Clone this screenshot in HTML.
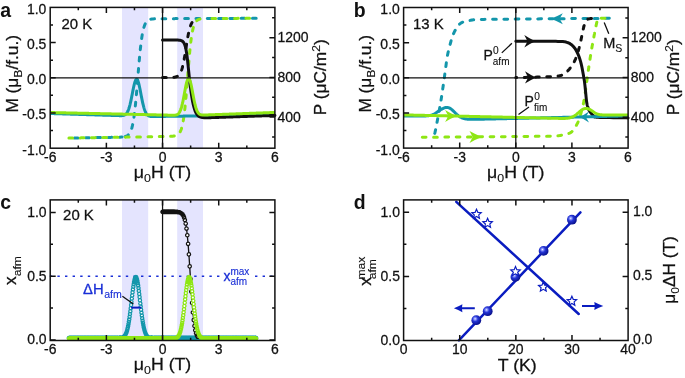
<!DOCTYPE html>
<html><head><meta charset="utf-8"><style>
html,body{margin:0;padding:0;background:#fff;overflow:hidden;}
svg{display:block;font-family:"Liberation Sans", sans-serif;transform:translateZ(0);}
</style></head><body>
<svg width="685" height="378" viewBox="0 0 685 378">

<rect x="122" y="7.4" width="26.2" height="140.8" fill="#e4e4fe"/>
<rect x="177.2" y="7.4" width="25.8" height="140.8" fill="#e4e4fe"/>
<path d="M256.18,18.3 L255.94,18.3 L255.71,18.3 L255.47,18.3 L255.24,18.3 L255,18.3 L254.77,18.31 L254.54,18.31 L254.3,18.31 L254.07,18.31 L253.83,18.31 L253.6,18.31 L253.37,18.31 L253.13,18.31 L252.9,18.31 L252.66,18.31 L252.48,18.31 M244.88,18.35 L244.71,18.35 L244.47,18.35 L244.24,18.35 L244,18.35 L243.77,18.35 L243.54,18.35 L243.3,18.35 L243.07,18.35 L242.83,18.35 L242.6,18.35 L242.37,18.36 L242.13,18.36 L241.9,18.36 L241.66,18.36 L241.43,18.36 L241.2,18.36 L241.18,18.36 M233.58,18.39 L233.47,18.39 L233.24,18.39 L233,18.39 L232.77,18.39 L232.53,18.39 L232.3,18.4 L232.07,18.4 L231.83,18.4 L231.6,18.4 L231.36,18.4 L231.13,18.4 L230.9,18.4 L230.66,18.4 L230.43,18.4 L230.19,18.4 L229.96,18.4 L229.88,18.41 M222.28,18.44 L222.24,18.44 L222,18.44 L221.77,18.44 L221.53,18.44 L221.3,18.44 L221.07,18.44 L220.83,18.44 L220.6,18.44 L220.36,18.44 L220.13,18.44 L219.9,18.45 L219.66,18.45 L219.43,18.45 L219.19,18.45 L218.96,18.45 L218.73,18.45 L218.58,18.45 M210.98,18.48 L210.77,18.48 L210.53,18.48 L210.3,18.48 L210.06,18.48 L209.83,18.49 L209.6,18.49 L209.36,18.49 L209.13,18.49 L208.89,18.49 L208.66,18.49 L208.43,18.49 L208.19,18.49 L207.96,18.49 L207.72,18.49 L207.49,18.49 L207.28,18.5 M199.68,18.53 L199.53,18.53 L199.3,18.53 L199.06,18.53 L198.83,18.53 L198.6,18.53 L198.36,18.53 L198.13,18.53 L197.89,18.53 L197.66,18.53 L197.43,18.54 L197.19,18.54 L196.96,18.54 L196.72,18.54 L196.49,18.54 L196.25,18.54 L196.02,18.54 L195.98,18.54 M188.38,18.57 L188.3,18.57 L188.06,18.57 L187.83,18.57 L187.59,18.57 L187.36,18.58 L187.13,18.58 L186.89,18.58 L186.66,18.58 L186.42,18.58 L186.19,18.58 L185.96,18.58 L185.72,18.58 L185.49,18.58 L185.25,18.58 L185.02,18.58 L184.79,18.59 L184.68,18.59 M177.08,18.62 L177.06,18.62 L176.83,18.62 L176.59,18.62 L176.36,18.62 L176.13,18.62 L175.89,18.62 L175.66,18.62 L175.42,18.62 L175.19,18.62 L174.96,18.63 L174.72,18.63 L174.49,18.63 L174.25,18.63 L174.02,18.63 L173.79,18.63 L173.55,18.63 L173.38,18.63 M165.78,18.66 L165.59,18.66 L165.36,18.66 L165.12,18.67 L164.89,18.67 L164.66,18.67 L164.42,18.67 L164.19,18.67 L163.95,18.67 L163.72,18.67 L163.49,18.67 L163.25,18.67 L163.02,18.68 L162.78,18.68 L162.55,18.68 L162.32,18.68 L162.08,18.68 L162.08,18.68 M154.48,18.82 L154.36,18.83 L154.12,18.84 L153.89,18.85 L153.66,18.87 L153.42,18.89 L153.19,18.91 L152.95,18.93 L152.72,18.95 L152.49,18.97 L152.25,19 L152.02,19.03 L151.78,19.06 L151.55,19.1 L151.31,19.14 L151.08,19.18 L150.85,19.23 L150.81,19.24 M145.2,23.91 L145,24.35 L144.76,24.9 L144.53,25.5 L144.29,26.15 L144.06,26.85 L143.9,27.37 M142.24,34.78 L142.19,35.11 L141.95,36.54 L141.72,38.06 L141.66,38.44 M140.7,45.98 L140.55,47.28 L140.31,49.44 L140.29,49.65 M139.55,57.22 L139.38,59.09 L139.22,60.9 M138.57,68.48 L138.44,70 L138.26,72.16 M137.65,79.74 L137.51,81.48 L137.35,83.43 M136.71,91 L136.57,92.69 L136.39,94.69 M135.69,102.25 L135.63,102.88 L135.4,105.2 L135.32,105.93 M134.46,113.48 L134.23,115.22 L133.99,116.9 L133.96,117.15 M132.65,124.64 L132.59,124.91 L132.36,125.93 L132.12,126.88 L131.89,127.75 L131.75,128.22 M128.28,134.89 L128.14,135.01 L127.91,135.21 L127.67,135.38 L127.44,135.54 L127.21,135.69 L126.97,135.83 L126.74,135.95 L126.5,136.06 L126.27,136.16 L126.04,136.25 L125.8,136.34 L125.57,136.41 L125.33,136.48 L125.1,136.55 L125.03,136.57 M74.32,137.98 L74.54,137.98 L74.78,137.97 L75.01,137.97 L75.24,137.96 L75.48,137.96 L75.71,137.96 L75.95,137.95 L76.18,137.95 L76.42,137.94 L76.65,137.94 L76.88,137.94 L77.12,137.93 L77.35,137.93 L77.59,137.93 L77.82,137.92 L78.02,137.92 M85.62,137.79 L85.78,137.79 L86.01,137.79 L86.25,137.78 L86.48,137.78 L86.71,137.77 L86.95,137.77 L87.18,137.77 L87.42,137.76 L87.65,137.76 L87.88,137.76 L88.12,137.75 L88.35,137.75 L88.59,137.74 L88.82,137.74 L89.05,137.74 L89.29,137.73 L89.32,137.73 M96.92,137.61 L97.01,137.6 L97.25,137.6 L97.48,137.6 L97.71,137.59 L97.95,137.59 L98.18,137.59 L98.42,137.58 L98.65,137.58 L98.89,137.57 L99.12,137.57 L99.35,137.57 L99.59,137.56 L99.82,137.56 L100.06,137.55 L100.29,137.55 L100.52,137.55 L100.62,137.55 M108.22,137.42 L108.25,137.42 L108.48,137.41 L108.72,137.41 L108.95,137.41 L109.18,137.4 L109.42,137.4 L109.65,137.4 L109.89,137.39 L110.12,137.39 L110.35,137.38 L110.59,137.38 L110.82,137.38 L111.06,137.37 L111.29,137.37 L111.52,137.36 L111.76,137.36 L111.92,137.36 M119.52,137.18 L119.72,137.17 L119.95,137.16 L120.18,137.15 L120.42,137.13 L120.65,137.12 L120.89,137.11 L121.12,137.09 L121.36,137.08 L121.59,137.06 L121.82,137.04" stroke="#1396ab" stroke-width="3.0" stroke-linecap="round" fill="none"/>
<path d="M68.93,138.07 L69.16,138.06 L69.39,138.06 L69.63,138.06 L69.86,138.05 L70.1,138.05 L70.33,138.05 L70.56,138.04 L70.8,138.04 L71.03,138.03 L71.27,138.03 L71.5,138.03 L71.73,138.02 L71.97,138.02 L72.2,138.01 L72.44,138.01 L72.62,138.01 M80.22,137.88 L80.39,137.88 L80.63,137.88 L80.86,137.87 L81.1,137.87 L81.33,137.86 L81.56,137.86 L81.8,137.86 L82.03,137.85 L82.27,137.85 L82.5,137.84 L82.73,137.84 L82.97,137.84 L83.2,137.83 L83.44,137.83 L83.67,137.82 L83.91,137.82 L83.92,137.82 M91.52,137.7 L91.63,137.69 L91.86,137.69 L92.1,137.69 L92.33,137.68 L92.57,137.68 L92.8,137.67 L93.03,137.67 L93.27,137.67 L93.5,137.66 L93.74,137.66 L93.97,137.66 L94.2,137.65 L94.44,137.65 L94.67,137.64 L94.91,137.64 L95.14,137.64 L95.22,137.63 M102.82,137.51 L102.86,137.51 L103.1,137.5 L103.33,137.5 L103.57,137.5 L103.8,137.49 L104.03,137.49 L104.27,137.49 L104.5,137.48 L104.74,137.48 L104.97,137.47 L105.2,137.47 L105.44,137.47 L105.67,137.46 L105.91,137.46 L106.14,137.45 L106.38,137.45 L106.52,137.45 M114.12,137.32 L114.33,137.32 L114.57,137.32 L114.8,137.31 L115.04,137.31 L115.27,137.3 L115.5,137.3 L115.74,137.3 L115.97,137.29 L116.21,137.29 L116.44,137.28 L116.67,137.28 L116.91,137.28 L117.14,137.27 L117.38,137.27 L117.61,137.26 L117.82,137.26 M125.42,137.14 L125.57,137.13 L125.8,137.13 L126.04,137.13 L126.27,137.12 L126.5,137.12 L126.74,137.11 L126.97,137.11 L127.21,137.11 L127.44,137.1 L127.67,137.1 L127.91,137.1 L128.14,137.09 L128.38,137.09 L128.61,137.08 L128.85,137.08 L129.08,137.08 L129.12,137.08 M136.72,136.95 L136.8,136.95 L137.04,136.94 L137.27,136.94 L137.51,136.94 L137.74,136.93 L137.97,136.93 L138.21,136.93 L138.44,136.92 L138.68,136.92 L138.91,136.91 L139.14,136.91 L139.38,136.91 L139.61,136.9 L139.85,136.9 L140.08,136.89 L140.31,136.89 L140.42,136.89 M148.01,136.76 L148.04,136.76 L148.27,136.76 L148.51,136.76 L148.74,136.75 L148.97,136.75 L149.21,136.74 L149.44,136.74 L149.68,136.74 L149.91,136.73 L150.14,136.73 L150.38,136.72 L150.61,136.72 L150.85,136.72 L151.08,136.71 L151.31,136.71 L151.55,136.7 L151.71,136.7 M159.31,136.58 L159.51,136.57 L159.74,136.57 L159.98,136.57 L160.21,136.56 L160.44,136.56 L160.68,136.55 L160.91,136.55 L161.15,136.55 L161.38,136.54 L161.61,136.54 L161.85,136.53 L162.08,136.53 L162.32,136.53 L162.55,136.52 L162.78,136.52 L163.01,136.51 M170.61,136.32 L170.74,136.31 L170.98,136.3 L171.21,136.29 L171.44,136.27 L171.68,136.26 L171.91,136.24 L172.15,136.22 L172.38,136.2 L172.61,136.18 L172.85,136.16 L173.08,136.14 L173.32,136.11 L173.55,136.08 L173.79,136.05 L174.02,136.01 L174.25,135.98 L174.29,135.97 M180.19,131.71 L180.34,131.43 L180.57,130.93 L180.81,130.39 L181.04,129.8 L181.28,129.15 L181.51,128.44 L181.56,128.28 M183.23,120.87 L183.38,119.98 L183.62,118.5 L183.81,117.22 M184.76,109.68 L184.79,109.43 L185.02,107.27 L185.15,106 M185.87,98.43 L185.96,97.51 L186.19,94.83 L186.2,94.75 M186.82,87.17 L186.89,86.32 L187.12,83.48 M187.71,75.91 L187.83,74.42 L188,72.22 M188.61,64.64 L188.77,62.76 L188.92,60.95 M189.59,53.38 L189.7,52.2 L189.94,49.81 L189.95,49.7 M190.78,42.15 L190.87,41.39 L191.11,39.57 L191.26,38.48 M192.51,30.98 L192.51,30.98 L192.74,29.89 L192.98,28.89 L193.21,27.97 L193.37,27.39 M196.76,20.69 L196.96,20.51 L197.19,20.32 L197.43,20.15 L197.66,20 L197.89,19.85 L198.13,19.73 L198.36,19.61 L198.6,19.51 L198.83,19.41 L199.06,19.33 L199.3,19.25 L199.53,19.18 L199.77,19.11 L200,19.06 L200.03,19.05 M249.58,18.33 L249.39,18.33 L249.15,18.33 L248.92,18.33 L248.69,18.33 L248.45,18.33 L248.22,18.33 L247.98,18.33 L247.75,18.33 L247.51,18.33 L247.28,18.34 L247.05,18.34 L246.81,18.34 L246.58,18.34 L246.34,18.34 L246.11,18.34 L245.88,18.34 L245.88,18.34 M238.28,18.37 L238.15,18.37 L237.92,18.37 L237.68,18.37 L237.45,18.38 L237.22,18.38 L236.98,18.38 L236.75,18.38 L236.51,18.38 L236.28,18.38 L236.05,18.38 L235.81,18.38 L235.58,18.38 L235.34,18.38 L235.11,18.38 L234.88,18.39 L234.64,18.39 L234.58,18.39 M226.98,18.42 L226.92,18.42 L226.68,18.42 L226.45,18.42 L226.22,18.42 L225.98,18.42 L225.75,18.42 L225.51,18.42 L225.28,18.42 L225.04,18.42 L224.81,18.43 L224.58,18.43 L224.34,18.43 L224.11,18.43 L223.87,18.43 L223.64,18.43 L223.41,18.43 L223.28,18.43 M215.68,18.46 L215.45,18.46 L215.21,18.46 L214.98,18.47 L214.75,18.47 L214.51,18.47 L214.28,18.47 L214.04,18.47 L213.81,18.47 L213.58,18.47 L213.34,18.47 L213.11,18.47 L212.87,18.48 L212.64,18.48 L212.41,18.48 L212.17,18.48 L211.98,18.48" stroke="#8ee614" stroke-width="3.0" stroke-linecap="round" fill="none"/>
<path d="M162.55,77.6 L162.71,77.6 L162.88,77.6 L163.04,77.6 L163.21,77.6 L163.37,77.6 L163.53,77.6 L163.7,77.6 L163.86,77.6 L164.02,77.6 L164.19,77.6 L164.35,77.6 L164.52,77.59 L164.68,77.59 L164.84,77.59 L165.01,77.59 L165.17,77.59 L165.34,77.59 L165.5,77.59 L165.66,77.59 L165.83,77.59 L165.99,77.59 L166.15,77.59 L166.25,77.59 M173.84,77.3 L173.86,77.3 L174.02,77.28 L174.18,77.26 L174.35,77.23 L174.51,77.2 L174.67,77.17 L174.84,77.14 L175,77.11 L175.17,77.07 L175.33,77.04 L175.49,76.99 L175.66,76.95 L175.82,76.9 L175.99,76.85 L176.15,76.8 L176.31,76.74 L176.48,76.68 L176.64,76.61 L176.8,76.54 L176.97,76.46 L177.13,76.38 L177.3,76.29 L177.36,76.25 M181.56,70.11 L181.72,69.66 L181.88,69.16 L182.05,68.63 L182.21,68.07 L182.38,67.49 L182.54,66.88 L182.62,66.57 M184.19,59.13 L184.34,58.3 L184.51,57.36 L184.67,56.4 L184.82,55.49 M186.02,47.98 L186.14,47.17 L186.31,46.12 L186.47,45.08 L186.59,44.33 M187.85,36.83 L187.95,36.3 L188.11,35.43 L188.27,34.58 L188.44,33.76 L188.55,33.2 M190.51,25.86 L190.57,25.69 L190.73,25.25 L190.89,24.84 L191.06,24.45 L191.22,24.08 L191.39,23.74 L191.55,23.41 L191.71,23.1 L191.88,22.81 L192.04,22.54 L192.06,22.51" stroke="#111" stroke-width="3.0" stroke-linecap="round" fill="none"/>
<path d="M50.2,113.5 L50.57,113.51 L50.95,113.52 L51.32,113.53 L51.7,113.55 L52.07,113.56 L52.45,113.57 L52.82,113.58 L53.2,113.59 L53.57,113.6 L53.95,113.62 L54.32,113.63 L54.69,113.64 L55.07,113.65 L55.44,113.66 L55.82,113.67 L56.19,113.69 L56.57,113.7 L56.94,113.71 L57.32,113.72 L57.69,113.73 L58.06,113.74 L58.44,113.76 L58.81,113.77 L59.19,113.78 L59.56,113.79 L59.94,113.8 L60.31,113.81 L60.69,113.83 L61.06,113.84 L61.44,113.85 L61.81,113.86 L62.18,113.87 L62.56,113.88 L62.93,113.89 L63.31,113.91 L63.68,113.92 L64.06,113.93 L64.43,113.94 L64.81,113.95 L65.18,113.96 L65.55,113.98 L65.93,113.99 L66.3,114 L66.68,114.01 L67.05,114.02 L67.43,114.03 L67.8,114.05 L68.18,114.06 L68.55,114.07 L68.93,114.08 L69.3,114.09 L69.67,114.1 L70.05,114.12 L70.42,114.13 L70.8,114.14 L71.17,114.15 L71.55,114.16 L71.92,114.17 L72.3,114.18 L72.67,114.2 L73.04,114.21 L73.42,114.22 L73.79,114.23 L74.17,114.24 L74.54,114.25 L74.92,114.27 L75.29,114.28 L75.67,114.29 L76.04,114.3 L76.42,114.31 L76.79,114.32 L77.16,114.34 L77.54,114.35 L77.91,114.36 L78.29,114.37 L78.66,114.38 L79.04,114.39 L79.41,114.41 L79.79,114.42 L80.16,114.43 L80.53,114.44 L80.91,114.45 L81.28,114.46 L81.66,114.48 L82.03,114.49 L82.41,114.5 L82.78,114.51 L83.16,114.52 L83.53,114.53 L83.91,114.54 L84.28,114.56 L84.65,114.57 L85.03,114.58 L85.4,114.59 L85.78,114.6 L86.15,114.61 L86.53,114.63 L86.9,114.64 L87.28,114.65 L87.65,114.66 L88.02,114.67 L88.4,114.68 L88.77,114.7 L89.15,114.71 L89.52,114.72 L89.9,114.73 L90.27,114.74 L90.65,114.75 L91.02,114.77 L91.4,114.78 L91.77,114.79 L92.14,114.8 L92.52,114.81 L92.89,114.82 L93.27,114.84 L93.64,114.85 L94.02,114.86 L94.39,114.87 L94.77,114.88 L95.14,114.89 L95.51,114.9 L95.89,114.92 L96.26,114.93 L96.64,114.94 L97.01,114.95 L97.39,114.96 L97.76,114.97 L98.14,114.99 L98.51,115 L98.89,115.01 L99.26,115.02 L99.63,115.03 L100.01,115.04 L100.38,115.06 L100.76,115.07 L101.13,115.08 L101.51,115.09 L101.88,115.1 L102.26,115.11 L102.63,115.13 L103,115.14 L103.38,115.15 L103.75,115.16 L104.13,115.17 L104.5,115.18 L104.88,115.19 L105.25,115.21 L105.63,115.22 L106,115.23 L106.38,115.24 L106.75,115.25 L107.12,115.26 L107.5,115.28 L107.87,115.29 L108.25,115.3 L108.62,115.31 L109,115.32 L109.37,115.33 L109.75,115.35 L110.12,115.36 L110.49,115.37 L110.87,115.38 L111.24,115.39 L111.62,115.4 L111.99,115.42 L112.37,115.43 L112.74,115.44 L113.12,115.45 L113.49,115.46 L113.87,115.47 L114.24,115.49 L114.61,115.5 L114.99,115.51 L115.36,115.52 L115.74,115.53 L116.11,115.54 L116.49,115.55 L116.86,115.57 L117.24,115.58 L117.61,115.59 L117.98,115.6 L118.36,115.61 L118.73,115.62 L119.11,115.63 L119.48,115.63 L119.86,115.64 L120.23,115.65 L120.61,115.65 L120.98,115.64 L121.36,115.64 L121.73,115.63 L122.1,115.6 L122.48,115.57 L122.85,115.53 L123.23,115.47 L123.6,115.4 L123.98,115.3 L124.35,115.17 L124.73,115 L125.1,114.8 L125.47,114.55 L125.85,114.24 L126.22,113.87 L126.6,113.42 L126.97,112.9 L127.35,112.28 L127.72,111.56 L128.1,110.73 L128.47,109.79 L128.84,108.73 L129.22,107.55 L129.59,106.24 L129.97,104.81 L130.34,103.26 L130.72,101.6 L131.09,99.85 L131.47,98.01 L131.84,96.12 L132.22,94.19 L132.59,92.26 L132.96,90.35 L133.34,88.49 L133.71,86.72 L134.09,85.07 L134.46,83.58 L134.84,82.27 L135.21,81.17 L135.59,80.31 L135.96,79.71 L136.34,79.37 L136.71,79.31 L137.08,79.53 L137.46,80.03 L137.83,80.79 L138.21,81.79 L138.58,83.02 L138.96,84.45 L139.33,86.05 L139.71,87.79 L140.08,89.63 L140.45,91.54 L140.83,93.49 L141.2,95.45 L141.58,97.38 L141.95,99.27 L142.33,101.09 L142.7,102.82 L143.08,104.45 L143.45,105.96 L143.82,107.36 L144.2,108.63 L144.57,109.77 L144.95,110.8 L145.32,111.7 L145.7,112.5 L146.07,113.19 L146.45,113.78 L146.82,114.29 L147.2,114.72 L147.57,115.08 L147.94,115.38 L148.32,115.63 L148.69,115.84 L149.07,116.01 L149.44,116.15 L149.82,116.26 L150.19,116.34 L150.57,116.4 L150.94,116.44 L151.31,116.47 L151.69,116.5 L152.06,116.51 L152.44,116.52 L152.81,116.53 L153.19,116.53 L153.56,116.53 L153.94,116.53 L154.31,116.53 L154.69,116.53 L155.06,116.52 L155.43,116.52 L155.81,116.51 L156.18,116.51 L156.56,116.5 L156.93,116.5 L157.31,116.49 L157.68,116.49 L158.06,116.48 L158.43,116.48 L158.81,116.47 L159.18,116.47 L159.55,116.46 L159.93,116.46 L160.3,116.45 L160.68,116.45 L161.05,116.44 L161.43,116.44 L161.8,116.43 L162.18,116.42 L162.55,116.42 L162.92,116.41 L163.3,116.41 L163.67,116.4 L164.05,116.4 L164.42,116.39 L164.8,116.39 L165.17,116.38 L165.55,116.38 L165.92,116.37 L166.3,116.37 L166.67,116.36 L167.04,116.35 L167.42,116.35 L167.79,116.34 L168.17,116.34 L168.54,116.33 L168.92,116.33 L169.29,116.32 L169.67,116.32 L170.04,116.31 L170.41,116.31 L170.79,116.3 L171.16,116.3 L171.54,116.29 L171.91,116.28 L172.29,116.28 L172.66,116.27 L173.04,116.27 L173.41,116.26 L173.78,116.26 L174.16,116.25 L174.53,116.25 L174.91,116.24 L175.28,116.24 L175.66,116.23 L176.03,116.23 L176.41,116.22 L176.78,116.21 L177.16,116.21 L177.53,116.2 L177.9,116.2 L178.28,116.19 L178.65,116.19 L179.03,116.18 L179.4,116.18 L179.78,116.17 L180.15,116.17 L180.53,116.16 L180.9,116.16 L181.27,116.15 L181.65,116.14 L182.02,116.14 L182.4,116.13 L182.77,116.13 L183.15,116.12 L183.52,116.12 L183.9,116.11 L184.27,116.11 L184.65,116.1 L185.02,116.1 L185.39,116.09 L185.77,116.08 L186.14,116.08 L186.52,116.07 L186.89,116.07 L187.27,116.06 L187.64,116.06 L188.02,116.05 L188.39,116.05 L188.76,116.04 L189.14,116.04 L189.51,116.03 L189.89,116.03 L190.26,116.02 L190.64,116.01 L191.01,116.01 L191.39,116 L191.76,116 L192.14,115.99 L192.51,115.99 L192.88,115.98 L193.26,115.98 L193.63,115.97 L194.01,115.97 L194.38,115.96 L194.76,115.96 L195.13,115.95 L195.51,115.94 L195.88,115.94 L196.25,115.93 L196.63,115.93 L197,115.92 L197.38,115.92 L197.75,115.91 L198.13,115.91 L198.5,115.9 L198.88,115.9 L199.25,115.89 L199.63,115.89 L200,115.88 L200.37,115.87 L200.75,115.87 L201.12,115.86 L201.5,115.86 L201.87,115.85 L202.25,115.85 L202.62,115.84 L203,115.84 L203.37,115.83 L203.75,115.83 L204.12,115.82 L204.49,115.82 L204.87,115.81 L205.24,115.8 L205.62,115.8 L205.99,115.79 L206.37,115.79 L206.74,115.78 L207.12,115.78 L207.49,115.77 L207.86,115.77 L208.24,115.76 L208.61,115.76 L208.99,115.75 L209.36,115.75 L209.74,115.74 L210.11,115.73 L210.49,115.73 L210.86,115.72 L211.24,115.72 L211.61,115.71 L211.98,115.71 L212.36,115.7 L212.73,115.7 L213.11,115.69 L213.48,115.69 L213.86,115.68 L214.23,115.68 L214.61,115.67 L214.98,115.66 L215.35,115.66 L215.73,115.65 L216.1,115.65 L216.48,115.64 L216.85,115.64 L217.23,115.63 L217.6,115.63 L217.98,115.62 L218.35,115.62 L218.73,115.61 L219.1,115.6 L219.47,115.6 L219.85,115.59 L220.22,115.59 L220.6,115.58 L220.97,115.58 L221.35,115.57 L221.72,115.57 L222.1,115.56 L222.47,115.56 L222.84,115.55 L223.22,115.55 L223.59,115.54 L223.97,115.53 L224.34,115.53 L224.72,115.52 L225.09,115.52 L225.47,115.51 L225.84,115.51 L226.21,115.5 L226.59,115.5 L226.96,115.49 L227.34,115.49 L227.71,115.48 L228.09,115.48 L228.46,115.47 L228.84,115.46 L229.21,115.46 L229.59,115.45 L229.96,115.45 L230.33,115.44 L230.71,115.44 L231.08,115.43 L231.46,115.43 L231.83,115.42 L232.21,115.42 L232.58,115.41 L232.96,115.41 L233.33,115.4 L233.7,115.39 L234.08,115.39 L234.45,115.38 L234.83,115.38 L235.2,115.37 L235.58,115.37 L235.95,115.36 L236.33,115.36 L236.7,115.35 L237.08,115.35 L237.45,115.34 L237.82,115.34 L238.2,115.33 L238.57,115.32 L238.95,115.32 L239.32,115.31 L239.7,115.31 L240.07,115.3 L240.45,115.3 L240.82,115.29 L241.19,115.29 L241.57,115.28 L241.94,115.28 L242.32,115.27 L242.69,115.27 L243.07,115.26 L243.44,115.25 L243.82,115.25 L244.19,115.24 L244.57,115.24 L244.94,115.23 L245.31,115.23 L245.69,115.22 L246.06,115.22 L246.44,115.21 L246.81,115.21 L247.19,115.2 L247.56,115.2 L247.94,115.19 L248.31,115.18 L248.69,115.18 L249.06,115.17 L249.43,115.17 L249.81,115.16 L250.18,115.16 L250.56,115.15 L250.93,115.15 L251.31,115.14 L251.68,115.14 L252.06,115.13 L252.43,115.13 L252.8,115.12 L253.18,115.11 L253.55,115.11 L253.93,115.1 L254.3,115.1 L254.68,115.09 L255.05,115.09 L255.43,115.08 L255.8,115.08 L256.18,115.07 L256.55,115.07 L256.92,115.06 L257.3,115.05 L257.67,115.05 L258.05,115.04 L258.42,115.04 L258.8,115.03 L259.17,115.03 L259.55,115.02 L259.92,115.02 L260.29,115.01 L260.67,115.01 L261.04,115 L261.42,115 L261.79,114.99 L262.17,114.98 L262.54,114.98 L262.92,114.97 L263.29,114.97 L263.67,114.96 L264.04,114.96 L264.41,114.95 L264.79,114.95 L265.16,114.94 L265.54,114.94 L265.91,114.93 L266.29,114.93 L266.66,114.92 L267.04,114.91 L267.41,114.91 L267.78,114.9 L268.16,114.9 L268.53,114.89 L268.91,114.89 L269.28,114.88 L269.66,114.88 L270.03,114.87 L270.41,114.87 L270.78,114.86 L271.16,114.86 L271.53,114.85 L271.9,114.84 L272.28,114.84 L272.65,114.83 L273.03,114.83 L273.4,114.82 L273.78,114.82 L274.15,114.81 L274.53,114.81 L274.9,114.8" stroke="#1396ab" stroke-width="3.0" fill="none"/>
<path d="M162.55,40 L162.83,40 L163.11,40 L163.39,40 L163.67,40 L163.95,40 L164.24,40 L164.52,40 L164.8,40 L165.08,40 L165.36,40 L165.64,40 L165.92,40 L166.2,40 L166.48,40 L166.76,40 L167.04,40 L167.32,40 L167.61,40 L167.89,40 L168.17,40 L168.45,40 L168.73,40 L169.01,40 L169.29,40 L169.57,40 L169.85,40 L170.13,40 L170.41,40 L170.7,40 L170.98,40 L171.26,40 L171.54,40 L171.82,40 L172.1,40 L172.38,40 L172.66,40 L172.94,40 L173.22,40.01 L173.5,40.01 L173.78,40.01 L174.07,40.01 L174.35,40.01 L174.63,40.01 L174.91,40.01 L175.19,40.02 L175.47,40.02 L175.75,40.02 L176.03,40.03 L176.31,40.03 L176.59,40.04 L176.87,40.05 L177.16,40.06 L177.44,40.07 L177.72,40.08 L178,40.09 L178.28,40.11 L178.56,40.13 L178.84,40.15 L179.12,40.18 L179.4,40.21 L179.68,40.24 L179.96,40.29 L180.25,40.34 L180.53,40.4 L180.81,40.47 L181.09,40.56 L181.37,40.66 L181.65,40.78 L181.93,40.92 L182.21,41.08 L182.49,41.28 L182.77,41.51 L183.05,41.78 L183.33,42.09 L183.62,42.47 L183.9,42.9 L184.18,43.42 L184.46,44.02 L184.74,44.73 L185.02,45.55 L185.3,46.5 L185.58,47.6 L185.86,48.87 L186.14,50.32 L186.42,51.95 L186.71,53.79 L186.99,55.82 L187.27,58.04 L187.55,60.44 L187.83,62.99 L188.11,65.66 L188.39,68.4 L188.67,71.18 L188.95,73.95 L189.23,76.68 L189.51,79.33 L189.79,81.89 L190.08,84.35 L190.36,86.68 L190.64,88.9 L190.92,91 L191.2,92.99 L191.48,94.87 L191.76,96.64 L192.04,98.31 L192.32,99.88 L192.6,101.36 L192.88,102.75 L193.17,104.05 L193.45,105.26 L193.73,106.39 L194.01,107.44 L194.29,108.41 L194.57,109.3 L194.85,110.12 L195.13,110.88 L195.41,111.57 L195.69,112.2 L195.97,112.77 L196.25,113.3 L196.54,113.77 L196.82,114.2 L197.1,114.59 L197.38,114.94 L197.66,115.25 L197.94,115.54 L198.22,115.79 L198.5,116.02 L198.78,116.22 L199.06,116.41 L199.34,116.57 L199.63,116.71 L199.91,116.84 L200.19,116.96 L200.47,117.06 L200.75,117.15 L201.03,117.23 L201.31,117.3 L201.59,117.37 L201.87,117.42 L202.15,117.47 L202.43,117.51 L202.72,117.55 L203,117.58 L203.28,117.61 L203.56,117.63 L203.84,117.65 L204.12,117.67 L204.4,117.68 L204.68,117.69 L204.96,117.7 L205.24,117.71 L205.52,117.71 L205.8,117.72 L206.09,117.72 L206.37,117.72 L206.65,117.72 L206.93,117.72 L207.21,117.72 L207.49,117.71 L207.77,117.71 L208.05,117.71 L208.33,117.7 L208.61,117.7 L208.89,117.69 L209.18,117.68 L209.46,117.68 L209.74,117.67 L210.02,117.66 L210.3,117.66 L210.58,117.65 L210.86,117.64 L211.14,117.63 L211.42,117.62 L211.7,117.61 L211.98,117.61 L212.26,117.6 L212.55,117.59 L212.83,117.58 L213.11,117.57 L213.39,117.56 L213.67,117.55 L213.95,117.54 L214.23,117.53 L214.51,117.52 L214.79,117.51 L215.07,117.5 L215.35,117.5 L215.64,117.49 L215.92,117.48 L216.2,117.47 L216.48,117.46 L216.76,117.45 L217.04,117.44 L217.32,117.43 L217.6,117.42 L217.88,117.41 L218.16,117.4 L218.44,117.39 L218.72,117.38 L219.01,117.37 L219.29,117.36 L219.57,117.35 L219.85,117.34 L220.13,117.33 L220.41,117.32 L220.69,117.31 L220.97,117.3 L221.25,117.29 L221.53,117.28 L221.81,117.27 L222.1,117.26 L222.38,117.25 L222.66,117.24 L222.94,117.23 L223.22,117.22 L223.5,117.21 L223.78,117.2 L224.06,117.19 L224.34,117.18 L224.62,117.17 L224.9,117.16 L225.19,117.15 L225.47,117.14 L225.75,117.13 L226.03,117.12 L226.31,117.11 L226.59,117.1 L226.87,117.09 L227.15,117.08 L227.43,117.07 L227.71,117.07 L227.99,117.06 L228.27,117.05 L228.56,117.04 L228.84,117.03 L229.12,117.02 L229.4,117.01 L229.68,117 L229.96,116.99 L230.24,116.98 L230.52,116.97 L230.8,116.96 L231.08,116.95 L231.36,116.94 L231.65,116.93 L231.93,116.92 L232.21,116.91 L232.49,116.9 L232.77,116.89 L233.05,116.88 L233.33,116.87 L233.61,116.86 L233.89,116.85 L234.17,116.84 L234.45,116.83 L234.73,116.82 L235.02,116.81 L235.3,116.8 L235.58,116.79 L235.86,116.78 L236.14,116.77 L236.42,116.76 L236.7,116.75 L236.98,116.74 L237.26,116.73 L237.54,116.72 L237.82,116.71 L238.11,116.7 L238.39,116.69 L238.67,116.68 L238.95,116.67 L239.23,116.66 L239.51,116.65 L239.79,116.64 L240.07,116.63 L240.35,116.62 L240.63,116.61 L240.91,116.6 L241.19,116.59 L241.48,116.58 L241.76,116.57 L242.04,116.56 L242.32,116.55 L242.6,116.54 L242.88,116.53 L243.16,116.52 L243.44,116.51 L243.72,116.5 L244,116.49 L244.28,116.49 L244.57,116.48 L244.85,116.47 L245.13,116.46 L245.41,116.45 L245.69,116.44 L245.97,116.43 L246.25,116.42 L246.53,116.41 L246.81,116.4 L247.09,116.39 L247.37,116.38 L247.66,116.37 L247.94,116.36 L248.22,116.35 L248.5,116.34 L248.78,116.33 L249.06,116.32 L249.34,116.31 L249.62,116.3 L249.9,116.29 L250.18,116.28 L250.46,116.27 L250.74,116.26 L251.03,116.25 L251.31,116.24 L251.59,116.23 L251.87,116.22 L252.15,116.21 L252.43,116.2 L252.71,116.19 L252.99,116.18 L253.27,116.17 L253.55,116.16 L253.83,116.15 L254.12,116.14 L254.4,116.13 L254.68,116.12 L254.96,116.11 L255.24,116.1 L255.52,116.09 L255.8,116.08 L256.08,116.07 L256.36,116.06 L256.64,116.05 L256.92,116.04 L257.2,116.03 L257.49,116.02 L257.77,116.01 L258.05,116 L258.33,115.99 L258.61,115.98 L258.89,115.97 L259.17,115.96 L259.45,115.95 L259.73,115.94 L260.01,115.93 L260.29,115.92 L260.58,115.91 L260.86,115.91 L261.14,115.9 L261.42,115.89 L261.7,115.88 L261.98,115.87 L262.26,115.86 L262.54,115.85 L262.82,115.84 L263.1,115.83 L263.38,115.82 L263.66,115.81 L263.95,115.8 L264.23,115.79 L264.51,115.78 L264.79,115.77 L265.07,115.76 L265.35,115.75 L265.63,115.74 L265.91,115.73 L266.19,115.72 L266.47,115.71 L266.75,115.7 L267.04,115.69 L267.32,115.68 L267.6,115.67 L267.88,115.66 L268.16,115.65 L268.44,115.64 L268.72,115.63 L269,115.62 L269.28,115.61 L269.56,115.6 L269.84,115.59 L270.13,115.58 L270.41,115.57 L270.69,115.56 L270.97,115.55 L271.25,115.54 L271.53,115.53 L271.81,115.52 L272.09,115.51 L272.37,115.5 L272.65,115.49 L272.93,115.48 L273.21,115.47 L273.5,115.46 L273.78,115.45 L274.06,115.44 L274.34,115.43 L274.62,115.42 L274.9,115.41" stroke="#111" stroke-width="3.0" fill="none" stroke-linejoin="round" stroke-linecap="round"/>
<path d="M50.2,112.52 L50.57,112.53 L50.95,112.54 L51.32,112.54 L51.7,112.55 L52.07,112.56 L52.45,112.57 L52.82,112.58 L53.2,112.59 L53.57,112.59 L53.95,112.6 L54.32,112.61 L54.69,112.62 L55.07,112.63 L55.44,112.64 L55.82,112.64 L56.19,112.65 L56.57,112.66 L56.94,112.67 L57.32,112.68 L57.69,112.68 L58.06,112.69 L58.44,112.7 L58.81,112.71 L59.19,112.72 L59.56,112.73 L59.94,112.73 L60.31,112.74 L60.69,112.75 L61.06,112.76 L61.44,112.77 L61.81,112.78 L62.18,112.78 L62.56,112.79 L62.93,112.8 L63.31,112.81 L63.68,112.82 L64.06,112.83 L64.43,112.83 L64.81,112.84 L65.18,112.85 L65.55,112.86 L65.93,112.87 L66.3,112.88 L66.68,112.88 L67.05,112.89 L67.43,112.9 L67.8,112.91 L68.18,112.92 L68.55,112.93 L68.93,112.93 L69.3,112.94 L69.67,112.95 L70.05,112.96 L70.42,112.97 L70.8,112.98 L71.17,112.98 L71.55,112.99 L71.92,113 L72.3,113.01 L72.67,113.02 L73.04,113.03 L73.42,113.03 L73.79,113.04 L74.17,113.05 L74.54,113.06 L74.92,113.07 L75.29,113.08 L75.67,113.08 L76.04,113.09 L76.42,113.1 L76.79,113.11 L77.16,113.12 L77.54,113.13 L77.91,113.13 L78.29,113.14 L78.66,113.15 L79.04,113.16 L79.41,113.17 L79.79,113.18 L80.16,113.18 L80.53,113.19 L80.91,113.2 L81.28,113.21 L81.66,113.22 L82.03,113.23 L82.41,113.23 L82.78,113.24 L83.16,113.25 L83.53,113.26 L83.91,113.27 L84.28,113.28 L84.65,113.28 L85.03,113.29 L85.4,113.3 L85.78,113.31 L86.15,113.32 L86.53,113.33 L86.9,113.33 L87.28,113.34 L87.65,113.35 L88.02,113.36 L88.4,113.37 L88.77,113.37 L89.15,113.38 L89.52,113.39 L89.9,113.4 L90.27,113.41 L90.65,113.42 L91.02,113.42 L91.4,113.43 L91.77,113.44 L92.14,113.45 L92.52,113.46 L92.89,113.47 L93.27,113.47 L93.64,113.48 L94.02,113.49 L94.39,113.5 L94.77,113.51 L95.14,113.52 L95.51,113.52 L95.89,113.53 L96.26,113.54 L96.64,113.55 L97.01,113.56 L97.39,113.57 L97.76,113.57 L98.14,113.58 L98.51,113.59 L98.89,113.6 L99.26,113.61 L99.63,113.62 L100.01,113.62 L100.38,113.63 L100.76,113.64 L101.13,113.65 L101.51,113.66 L101.88,113.67 L102.26,113.67 L102.63,113.68 L103,113.69 L103.38,113.7 L103.75,113.71 L104.13,113.72 L104.5,113.72 L104.88,113.73 L105.25,113.74 L105.63,113.75 L106,113.76 L106.38,113.77 L106.75,113.77 L107.12,113.78 L107.5,113.79 L107.87,113.8 L108.25,113.81 L108.62,113.82 L109,113.82 L109.37,113.83 L109.75,113.84 L110.12,113.85 L110.49,113.86 L110.87,113.87 L111.24,113.87 L111.62,113.88 L111.99,113.89 L112.37,113.9 L112.74,113.91 L113.12,113.92 L113.49,113.92 L113.87,113.93 L114.24,113.94 L114.61,113.95 L114.99,113.96 L115.36,113.97 L115.74,113.97 L116.11,113.98 L116.49,113.99 L116.86,114 L117.24,114.01 L117.61,114.02 L117.98,114.02 L118.36,114.03 L118.73,114.04 L119.11,114.05 L119.48,114.06 L119.86,114.07 L120.23,114.07 L120.61,114.08 L120.98,114.09 L121.36,114.1 L121.73,114.11 L122.1,114.11 L122.48,114.12 L122.85,114.13 L123.23,114.14 L123.6,114.15 L123.98,114.16 L124.35,114.16 L124.73,114.17 L125.1,114.18 L125.47,114.19 L125.85,114.2 L126.22,114.21 L126.6,114.21 L126.97,114.22 L127.35,114.23 L127.72,114.24 L128.1,114.25 L128.47,114.26 L128.84,114.26 L129.22,114.27 L129.59,114.28 L129.97,114.29 L130.34,114.3 L130.72,114.31 L131.09,114.31 L131.47,114.32 L131.84,114.33 L132.22,114.34 L132.59,114.35 L132.96,114.36 L133.34,114.36 L133.71,114.37 L134.09,114.38 L134.46,114.39 L134.84,114.4 L135.21,114.41 L135.59,114.41 L135.96,114.42 L136.34,114.43 L136.71,114.44 L137.08,114.45 L137.46,114.46 L137.83,114.46 L138.21,114.47 L138.58,114.48 L138.96,114.49 L139.33,114.5 L139.71,114.51 L140.08,114.51 L140.45,114.52 L140.83,114.53 L141.2,114.54 L141.58,114.55 L141.95,114.56 L142.33,114.56 L142.7,114.57 L143.08,114.58 L143.45,114.59 L143.82,114.6 L144.2,114.61 L144.57,114.61 L144.95,114.62 L145.32,114.63 L145.7,114.64 L146.07,114.65 L146.45,114.66 L146.82,114.66 L147.2,114.67 L147.57,114.68 L147.94,114.69 L148.32,114.7 L148.69,114.71 L149.07,114.71 L149.44,114.72 L149.82,114.73 L150.19,114.74 L150.57,114.75 L150.94,114.76 L151.31,114.76 L151.69,114.77 L152.06,114.78 L152.44,114.79 L152.81,114.8 L153.19,114.8 L153.56,114.81 L153.94,114.82 L154.31,114.83 L154.69,114.84 L155.06,114.85 L155.43,114.85 L155.81,114.86 L156.18,114.87 L156.56,114.88 L156.93,114.89 L157.31,114.9 L157.68,114.9 L158.06,114.91 L158.43,114.92 L158.81,114.93 L159.18,114.94 L159.55,114.95 L159.93,114.95 L160.3,114.96 L160.68,114.97 L161.05,114.98 L161.43,114.99 L161.8,115 L162.18,115 L162.55,115.01 L162.92,115.02 L163.3,115.03 L163.67,115.04 L164.05,115.05 L164.42,115.05 L164.8,115.06 L165.17,115.07 L165.55,115.08 L165.92,115.09 L166.3,115.1 L166.67,115.1 L167.04,115.11 L167.42,115.12 L167.79,115.13 L168.17,115.14 L168.54,115.15 L168.92,115.15 L169.29,115.16 L169.67,115.17 L170.04,115.18 L170.41,115.19 L170.79,115.19 L171.16,115.2 L171.54,115.21 L171.91,115.21 L172.29,115.22 L172.66,115.22 L173.04,115.22 L173.41,115.22 L173.78,115.21 L174.16,115.2 L174.53,115.18 L174.91,115.15 L175.28,115.11 L175.66,115.05 L176.03,114.98 L176.41,114.88 L176.78,114.75 L177.16,114.59 L177.53,114.38 L177.9,114.13 L178.28,113.81 L178.65,113.43 L179.03,112.96 L179.4,112.41 L179.78,111.75 L180.15,110.99 L180.53,110.1 L180.9,109.09 L181.27,107.94 L181.65,106.66 L182.02,105.24 L182.4,103.68 L182.77,102 L183.15,100.2 L183.52,98.31 L183.9,96.33 L184.27,94.31 L184.65,92.26 L185.02,90.23 L185.39,88.25 L185.77,86.35 L186.14,84.59 L186.52,82.98 L186.89,81.58 L187.27,80.41 L187.64,79.5 L188.02,78.87 L188.39,78.55 L188.76,78.53 L189.14,78.82 L189.51,79.41 L189.89,80.29 L190.26,81.43 L190.64,82.8 L191.01,84.38 L191.39,86.13 L191.76,88.01 L192.14,89.98 L192.51,92.01 L192.88,94.05 L193.26,96.07 L193.63,98.05 L194.01,99.95 L194.38,101.75 L194.76,103.44 L195.13,105.01 L195.51,106.44 L195.88,107.73 L196.25,108.89 L196.63,109.91 L197,110.8 L197.38,111.57 L197.75,112.23 L198.13,112.79 L198.5,113.26 L198.88,113.65 L199.25,113.96 L199.63,114.22 L200,114.42 L200.37,114.59 L200.75,114.71 L201.12,114.81 L201.5,114.88 L201.87,114.93 L202.25,114.97 L202.62,114.99 L203,115.01 L203.37,115.01 L203.75,115.01 L204.12,115.01 L204.49,115.01 L204.87,115 L205.24,114.99 L205.62,114.98 L205.99,114.97 L206.37,114.95 L206.74,114.94 L207.12,114.93 L207.49,114.91 L207.86,114.9 L208.24,114.89 L208.61,114.87 L208.99,114.86 L209.36,114.85 L209.74,114.83 L210.11,114.82 L210.49,114.8 L210.86,114.79 L211.24,114.78 L211.61,114.76 L211.98,114.75 L212.36,114.74 L212.73,114.72 L213.11,114.71 L213.48,114.69 L213.86,114.68 L214.23,114.67 L214.61,114.65 L214.98,114.64 L215.35,114.62 L215.73,114.61 L216.1,114.6 L216.48,114.58 L216.85,114.57 L217.23,114.56 L217.6,114.54 L217.98,114.53 L218.35,114.51 L218.73,114.5 L219.1,114.49 L219.47,114.47 L219.85,114.46 L220.22,114.44 L220.6,114.43 L220.97,114.42 L221.35,114.4 L221.72,114.39 L222.1,114.38 L222.47,114.36 L222.84,114.35 L223.22,114.33 L223.59,114.32 L223.97,114.31 L224.34,114.29 L224.72,114.28 L225.09,114.26 L225.47,114.25 L225.84,114.24 L226.21,114.22 L226.59,114.21 L226.96,114.2 L227.34,114.18 L227.71,114.17 L228.09,114.15 L228.46,114.14 L228.84,114.13 L229.21,114.11 L229.59,114.1 L229.96,114.08 L230.33,114.07 L230.71,114.06 L231.08,114.04 L231.46,114.03 L231.83,114.02 L232.21,114 L232.58,113.99 L232.96,113.97 L233.33,113.96 L233.7,113.95 L234.08,113.93 L234.45,113.92 L234.83,113.9 L235.2,113.89 L235.58,113.88 L235.95,113.86 L236.33,113.85 L236.7,113.84 L237.08,113.82 L237.45,113.81 L237.82,113.79 L238.2,113.78 L238.57,113.77 L238.95,113.75 L239.32,113.74 L239.7,113.72 L240.07,113.71 L240.45,113.7 L240.82,113.68 L241.19,113.67 L241.57,113.65 L241.94,113.64 L242.32,113.63 L242.69,113.61 L243.07,113.6 L243.44,113.59 L243.82,113.57 L244.19,113.56 L244.57,113.54 L244.94,113.53 L245.31,113.52 L245.69,113.5 L246.06,113.49 L246.44,113.47 L246.81,113.46 L247.19,113.45 L247.56,113.43 L247.94,113.42 L248.31,113.41 L248.69,113.39 L249.06,113.38 L249.43,113.36 L249.81,113.35 L250.18,113.34 L250.56,113.32 L250.93,113.31 L251.31,113.29 L251.68,113.28 L252.06,113.27 L252.43,113.25 L252.8,113.24 L253.18,113.23 L253.55,113.21 L253.93,113.2 L254.3,113.18 L254.68,113.17 L255.05,113.16 L255.43,113.14 L255.8,113.13 L256.18,113.11 L256.55,113.1 L256.92,113.09 L257.3,113.07 L257.67,113.06 L258.05,113.05 L258.42,113.03 L258.8,113.02 L259.17,113 L259.55,112.99 L259.92,112.98 L260.29,112.96 L260.67,112.95 L261.04,112.93 L261.42,112.92 L261.79,112.91 L262.17,112.89 L262.54,112.88 L262.92,112.87 L263.29,112.85 L263.67,112.84 L264.04,112.82 L264.41,112.81 L264.79,112.8 L265.16,112.78 L265.54,112.77 L265.91,112.75 L266.29,112.74 L266.66,112.73 L267.04,112.71 L267.41,112.7 L267.78,112.68 L268.16,112.67 L268.53,112.66 L268.91,112.64 L269.28,112.63 L269.66,112.62 L270.03,112.6 L270.41,112.59 L270.78,112.57 L271.16,112.56 L271.53,112.55 L271.9,112.53 L272.28,112.52 L272.65,112.5 L273.03,112.49 L273.4,112.48 L273.78,112.46 L274.15,112.45 L274.53,112.44 L274.9,112.42" stroke="#8ee614" stroke-width="3.0" fill="none"/>
<path d="M50.2,77.75H274.9M162.55,7.4V148.2" stroke="#111" stroke-width="1.25" fill="none"/>
<rect x="50.2" y="7.4" width="224.7" height="140.8" fill="none" stroke="#111" stroke-width="1.5"/>
<path d="M78.29,148.2v-2.8M78.29,7.4v2.8M106.38,148.2v-5.5M106.38,7.4v5.5M134.46,148.2v-2.8M134.46,7.4v2.8M162.55,148.2v-5.5M162.55,7.4v5.5M190.64,148.2v-2.8M190.64,7.4v2.8M218.73,148.2v-5.5M218.73,7.4v5.5M246.81,148.2v-2.8M246.81,7.4v2.8M50.2,130.59h2.8M50.2,112.97h5.5M50.2,95.36h2.8M50.2,77.75h5.5M50.2,60.14h2.8M50.2,42.52h5.5M50.2,24.91h2.8M274.9,136.98h-2.8M274.9,117.12h-5.5M274.9,97.26h-2.8M274.9,77.4h-5.5M274.9,57.54h-2.8M274.9,37.68h-5.5M274.9,17.82h-2.8" stroke="#111" stroke-width="1.5" fill="none"/>
<path d="M609.3,18.3 L607.59,18.31 L605.6,18.33 M598,18.39 L597.89,18.39 L594.89,18.42 L594.3,18.42 M586.7,18.48 L584.96,18.5 L583,18.51 M575.4,18.57 L574.23,18.58 L571.7,18.6 M564.1,18.67 L563.47,18.67 L560.4,18.7 M552.8,18.76 L552.74,18.76 L549.1,18.79 M541.5,18.85 L540.7,18.86 L537.8,18.88 M530.2,18.94 L528.17,18.96 L526.5,18.97 M518.9,19.03 L516.16,19.06 L515.2,19.06 M507.6,19.13 L505.66,19.15 L503.9,19.16 M496.3,19.24 L495.51,19.24 L493.62,19.26 L492.6,19.27 M485,19.36 L484.97,19.36 L484.13,19.38 L483.32,19.39 L482.53,19.42 L481.72,19.44 L481.31,19.45 M473.71,19.79 L473.66,19.79 L473.18,19.85 L472.69,19.91 L472.18,19.99 L471.65,20.08 L471.1,20.18 L470.5,20.3 L470.06,20.39 M462.7,22.19 L462.53,22.25 L461.91,22.54 L461.32,22.85 L460.74,23.21 L460.2,23.6 L459.68,24.03 L459.57,24.13 M455.19,30.3 L454.96,30.74 L454.61,31.44 L454.26,32.13 L453.93,32.82 L453.6,33.5 L453.55,33.61 M451.07,40.79 L450.88,41.52 L450.68,42.27 L450.48,43.01 L450.29,43.75 L450.13,44.37 M448.26,51.73 L448.16,52.16 L448.01,52.85 L447.86,53.55 L447.72,54.25 L447.57,54.96 L447.5,55.35 M446.33,62.86 L446.29,63.19 L446.19,63.96 L446.09,64.73 L446,65.49 L445.9,66.25 L445.86,66.53 M444.84,74.06 L444.8,74.32 L444.7,75.04 L444.6,75.76 L444.5,76.48 L444.4,77.2 L444.33,77.73 M443.26,85.25 L443.16,85.95 L443.06,86.68 L442.95,87.42 L442.84,88.15 L442.73,88.88 L442.73,88.91 M441.61,96.43 L441.55,96.82 L441.44,97.54 L441.33,98.25 L441.22,98.97 L441.1,99.7 L441.04,100.09 M439.77,107.58 L439.7,107.96 L439.57,108.73 L439.43,109.51 L439.28,110.3 L439.14,111.09 L439.11,111.22 M437.71,118.69 L437.66,118.97 L437.47,120 L437.27,121.06 L437.06,122.13 L437.03,122.33 M435.57,129.78 L435.51,130.05 L435.35,130.82 L435.2,131.5 L435.06,132.11 L434.93,132.66 L434.8,133.16 L434.74,133.39" stroke="#1396ab" stroke-width="3.0" stroke-linecap="round" fill="none"/>
<path d="M422.3,137.3 L424.01,137.29 L426,137.27 M433.6,137.21 L433.71,137.21 L436.71,137.18 L437.3,137.18 M444.9,137.12 L446.64,137.1 L448.6,137.09 M456.2,137.03 L457.37,137.02 L459.9,137 M467.5,136.93 L468.13,136.93 L471.2,136.9 M478.8,136.84 L478.86,136.84 L482.5,136.81 M490.1,136.75 L490.9,136.74 L493.8,136.72 M501.4,136.66 L503.43,136.64 L505.1,136.63 M512.7,136.57 L515.44,136.54 L516.4,136.54 M524,136.47 L525.94,136.45 L527.7,136.44 M535.3,136.36 L536.09,136.36 L537.98,136.34 L539,136.33 M546.6,136.24 L546.63,136.24 L547.47,136.22 L548.28,136.21 L549.07,136.18 L549.88,136.16 L550.29,136.15 M557.89,135.81 L557.94,135.81 L558.42,135.75 L558.91,135.69 L559.42,135.61 L559.95,135.52 L560.5,135.42 L561.1,135.3 L561.54,135.21 M568.9,133.41 L569.07,133.35 L569.69,133.06 L570.28,132.75 L570.86,132.39 L571.4,132 L571.92,131.57 L572.03,131.47 M576.41,125.3 L576.64,124.86 L576.99,124.16 L577.34,123.47 L577.67,122.78 L578,122.1 L578.05,121.99 M580.53,114.81 L580.72,114.08 L580.92,113.33 L581.12,112.59 L581.31,111.85 L581.47,111.23 M583.34,103.87 L583.44,103.44 L583.59,102.75 L583.74,102.05 L583.88,101.35 L584.03,100.64 L584.1,100.25 M585.27,92.74 L585.31,92.41 L585.41,91.64 L585.51,90.87 L585.6,90.11 L585.7,89.35 L585.74,89.07 M586.76,81.54 L586.8,81.27 L586.9,80.56 L587,79.84 L587.1,79.12 L587.2,78.4 L587.27,77.87 M588.34,70.35 L588.44,69.65 L588.54,68.92 L588.65,68.18 L588.76,67.45 L588.87,66.72 L588.87,66.69 M589.99,59.17 L590.05,58.78 L590.16,58.06 L590.27,57.35 L590.38,56.63 L590.5,55.9 L590.56,55.51 M591.83,48.02 L591.9,47.64 L592.03,46.87 L592.17,46.09 L592.32,45.3 L592.46,44.51 L592.49,44.38 M593.89,36.91 L593.94,36.63 L594.13,35.6 L594.33,34.54 L594.54,33.47 L594.57,33.27 M596.03,25.82 L596.09,25.55 L596.25,24.78 L596.4,24.1 L596.54,23.49 L596.67,22.94 L596.8,22.44 L596.86,22.21 M605,18.27 L604.21,18.25 L603.42,18.23 L602.63,18.21 L601.88,18.2 L601.3,18.19" stroke="#8ee614" stroke-width="3.0" stroke-linecap="round" fill="none"/>
<path d="M591.5,18.5 L591.36,18.52 L591.19,18.54 L590.99,18.55 L590.76,18.57 L590.52,18.59 L590.26,18.61 L589.98,18.63 L589.7,18.66 L589.41,18.69 L589.12,18.73 L588.84,18.78 L588.56,18.84 L588.29,18.91 L588.04,18.99 L587.86,19.07 M584.16,25.45 L584.16,25.46 L584.05,25.87 L583.94,26.29 L583.84,26.72 L583.73,27.15 L583.62,27.59 L583.51,28.04 L583.4,28.5 L583.29,28.97 L583.27,29.04 M581.71,36.48 L581.6,37 L581.49,37.53 L581.38,38.05 L581.27,38.58 L581.15,39.11 L581.04,39.65 L580.95,40.1 M579.24,47.51 L579.21,47.64 L579.09,48.09 L578.97,48.54 L578.84,48.98 L578.72,49.42 L578.6,49.86 L578.47,50.3 L578.34,50.74 L578.24,51.07 M575.82,58.27 L575.65,58.67 L575.48,59.09 L575.3,59.5 L575.12,59.9 L574.93,60.3 L574.74,60.7 L574.55,61.09 L574.35,61.48 L574.27,61.63 M570.21,68.04 L570.11,68.17 L569.86,68.49 L569.6,68.81 L569.35,69.12 L569.09,69.42 L568.82,69.72 L568.55,70.02 L568.28,70.31 L568,70.6 L567.78,70.83 M561.65,75.19 L561.6,75.21 L561.26,75.33 L560.92,75.45 L560.56,75.56 L560.19,75.66 L559.79,75.75 L559.37,75.84 L558.92,75.92 L558.43,76 L558.06,76.05 M550.48,76.66 L550.06,76.68 L549.08,76.72 L548.05,76.75 L547,76.79 L546.79,76.8 M539.19,77.03 L538.67,77.04 L537.2,77.08 L535.62,77.13 L535.49,77.13 M527.89,77.32 L526.9,77.34 L525.15,77.38 L524.19,77.41 M516.6,77.58 L515.8,77.6" stroke="#111" stroke-width="3.0" stroke-linecap="round" fill="none"/>
<path d="M515.8,41.3 L517.25,41.29 L519.14,41.28 L521.38,41.26 L523.89,41.25 L526.59,41.23 L529.39,41.22 L532.21,41.2 L534.98,41.2 L537.6,41.19 L540,41.2 L542.3,41.21 L544.64,41.22 L547.01,41.24 L549.35,41.26 L551.64,41.29 L553.83,41.32 L555.9,41.35 L557.81,41.4 L559.52,41.44 L561,41.5 L562.21,41.56 L563.18,41.62 L563.95,41.68 L564.55,41.74 L565.02,41.82 L565.42,41.9 L565.78,42 L566.13,42.11 L566.52,42.25 L567,42.4 L567.52,42.57 L568.02,42.75 L568.51,42.95 L568.98,43.16 L569.44,43.38 L569.88,43.62 L570.32,43.89 L570.75,44.17 L571.18,44.47 L571.6,44.8 L572.02,45.16 L572.43,45.54 L572.83,45.95 L573.23,46.38 L573.62,46.83 L574,47.29 L574.37,47.76 L574.72,48.24 L575.07,48.72 L575.4,49.2 L575.72,49.68 L576.02,50.18 L576.31,50.68 L576.59,51.19 L576.86,51.71 L577.12,52.24 L577.37,52.77 L577.62,53.31 L577.86,53.85 L578.1,54.4 L578.34,54.95 L578.57,55.51 L578.79,56.08 L579.01,56.65 L579.22,57.23 L579.42,57.81 L579.63,58.4 L579.82,58.99 L580.01,59.59 L580.2,60.2 L580.38,60.81 L580.56,61.43 L580.72,62.04 L580.89,62.67 L581.04,63.3 L581.2,63.94 L581.35,64.59 L581.5,65.25 L581.65,65.92 L581.8,66.6 L581.95,67.29 L582.09,68 L582.23,68.71 L582.37,69.43 L582.51,70.16 L582.65,70.91 L582.79,71.66 L582.92,72.43 L583.06,73.21 L583.2,74 L583.34,74.8 L583.48,75.61 L583.63,76.44 L583.77,77.27 L583.92,78.11 L584.06,78.97 L584.2,79.85 L584.34,80.75 L584.47,81.66 L584.6,82.6 L584.72,83.57 L584.84,84.58 L584.96,85.63 L585.07,86.69 L585.18,87.76 L585.28,88.84 L585.39,89.91 L585.49,90.97 L585.6,92 L585.7,93 L585.8,93.98 L585.9,94.96 L585.99,95.94 L586.08,96.91 L586.18,97.86 L586.27,98.79 L586.37,99.7 L586.47,100.57 L586.58,101.41 L586.7,102.2 L586.83,102.95 L586.95,103.66 L587.08,104.34 L587.22,104.99 L587.36,105.61 L587.51,106.21 L587.67,106.78 L587.83,107.34 L588.01,107.87 L588.2,108.4 L588.4,108.9 L588.61,109.38 L588.82,109.83 L589.05,110.26 L589.28,110.67 L589.52,111.07 L589.78,111.46 L590.04,111.84 L590.32,112.22 L590.6,112.6 L590.9,112.98 L591.21,113.36 L591.53,113.74 L591.86,114.12 L592.2,114.48 L592.55,114.83 L592.9,115.16 L593.27,115.47 L593.63,115.75 L594,116 L594.26,116.22 L594.34,116.41 L594.33,116.57 L594.3,116.7 L594.33,116.83 L594.49,116.93 L594.86,117.03 L595.52,117.12 L596.54,117.21 L598,117.3 L600.09,117.39 L602.83,117.47 L606.06,117.55 L609.61,117.62 L613.3,117.68 L616.97,117.74 L620.46,117.79 L623.59,117.83 L626.19,117.87 L628.1,117.9" stroke="#111" stroke-width="3.0" fill="none" stroke-linejoin="round" stroke-linecap="round"/>
<path d="M403.6,116 L403.97,116 L404.35,116 L404.72,116 L405.1,116 L405.47,116 L405.85,116 L406.22,116 L406.59,116 L406.97,116 L407.34,116 L407.72,116 L408.09,116 L408.46,116 L408.84,116 L409.21,116 L409.59,116 L409.96,116 L410.34,116 L410.71,116 L411.08,116 L411.46,116 L411.83,116 L412.21,116 L412.58,116 L412.95,116 L413.33,116 L413.7,116 L414.08,116 L414.45,116 L414.83,116 L415.2,116 L415.57,116 L415.95,116 L416.32,116 L416.7,116 L417.07,116 L417.44,116 L417.82,116 L418.19,116 L418.57,116 L418.94,116 L419.31,116 L419.69,116 L420.06,115.99 L420.44,115.99 L420.81,115.99 L421.19,115.99 L421.56,115.99 L421.93,115.99 L422.31,115.98 L422.68,115.98 L423.06,115.97 L423.43,115.97 L423.81,115.96 L424.18,115.95 L424.55,115.94 L424.93,115.93 L425.3,115.92 L425.68,115.91 L426.05,115.89 L426.42,115.87 L426.8,115.85 L427.17,115.82 L427.55,115.79 L427.92,115.76 L428.3,115.72 L428.67,115.67 L429.04,115.62 L429.42,115.57 L429.79,115.5 L430.17,115.43 L430.54,115.35 L430.91,115.26 L431.29,115.16 L431.66,115.06 L432.04,114.94 L432.41,114.81 L432.79,114.66 L433.16,114.51 L433.53,114.34 L433.91,114.17 L434.28,113.98 L434.66,113.77 L435.03,113.56 L435.4,113.33 L435.78,113.09 L436.15,112.85 L436.53,112.59 L436.9,112.33 L437.28,112.06 L437.65,111.79 L438.02,111.52 L438.4,111.25 L438.77,110.98 L439.15,110.72 L439.52,110.46 L439.89,110.21 L440.27,109.97 L440.64,109.74 L441.02,109.52 L441.39,109.31 L441.77,109.11 L442.14,108.92 L442.51,108.73 L442.89,108.55 L443.26,108.37 L443.64,108.21 L444.01,108.05 L444.38,107.91 L444.76,107.78 L445.13,107.67 L445.51,107.57 L445.88,107.5 L446.25,107.45 L446.63,107.42 L447,107.43 L447.38,107.46 L447.75,107.51 L448.13,107.6 L448.5,107.7 L448.87,107.83 L449.25,107.99 L449.62,108.17 L450,108.37 L450.37,108.6 L450.75,108.85 L451.12,109.12 L451.49,109.4 L451.87,109.71 L452.24,110.02 L452.62,110.35 L452.99,110.69 L453.36,111.04 L453.74,111.4 L454.11,111.76 L454.49,112.13 L454.86,112.49 L455.24,112.85 L455.61,113.22 L455.98,113.57 L456.36,113.92 L456.73,114.27 L457.11,114.6 L457.48,114.93 L457.85,115.24 L458.23,115.55 L458.6,115.84 L458.98,116.12 L459.35,116.38 L459.73,116.64 L460.1,116.87 L460.47,117.1 L460.85,117.31 L461.22,117.51 L461.6,117.69 L461.97,117.87 L462.34,118.03 L462.72,118.17 L463.09,118.31 L463.47,118.43 L463.84,118.54 L464.22,118.65 L464.59,118.74 L464.96,118.82 L465.34,118.9 L465.71,118.97 L466.09,119.03 L466.46,119.08 L466.83,119.13 L467.21,119.17 L467.58,119.2 L467.96,119.23 L468.33,119.26 L468.71,119.28 L469.08,119.3 L469.45,119.32 L469.83,119.33 L470.2,119.34 L470.58,119.35 L470.95,119.35 L471.32,119.36 L471.7,119.36 L472.07,119.36 L472.45,119.36 L472.82,119.36 L473.2,119.35 L473.57,119.35 L473.94,119.34 L474.32,119.34 L474.69,119.33 L475.07,119.33 L475.44,119.32 L475.81,119.32 L476.19,119.31 L476.56,119.3 L476.94,119.29 L477.31,119.29 L477.69,119.28 L478.06,119.27 L478.43,119.26 L478.81,119.26 L479.18,119.25 L479.56,119.24 L479.93,119.23 L480.3,119.22 L480.68,119.21 L481.05,119.21 L481.43,119.2 L481.8,119.19 L482.18,119.18 L482.55,119.17 L482.92,119.16 L483.3,119.16 L483.67,119.15 L484.05,119.14 L484.42,119.13 L484.79,119.12 L485.17,119.11 L485.54,119.11 L485.92,119.1 L486.29,119.09 L486.67,119.08 L487.04,119.07 L487.41,119.06 L487.79,119.05 L488.16,119.05 L488.54,119.04 L488.91,119.03 L489.28,119.02 L489.66,119.01 L490.03,119 L490.41,119 L490.78,118.99 L491.16,118.98 L491.53,118.97 L491.9,118.96 L492.28,118.95 L492.65,118.95 L493.03,118.94 L493.4,118.93 L493.77,118.92 L494.15,118.91 L494.52,118.9 L494.9,118.89 L495.27,118.89 L495.65,118.88 L496.02,118.87 L496.39,118.86 L496.77,118.85 L497.14,118.84 L497.52,118.84 L497.89,118.83 L498.26,118.82 L498.64,118.81 L499.01,118.8 L499.39,118.79 L499.76,118.79 L500.13,118.78 L500.51,118.77 L500.88,118.76 L501.26,118.75 L501.63,118.74 L502.01,118.73 L502.38,118.73 L502.75,118.72 L503.13,118.71 L503.5,118.7 L503.88,118.69 L504.25,118.68 L504.62,118.68 L505,118.67 L505.37,118.66 L505.75,118.65 L506.12,118.64 L506.5,118.63 L506.87,118.63 L507.24,118.62 L507.62,118.61 L507.99,118.6 L508.37,118.59 L508.74,118.58 L509.12,118.57 L509.49,118.57 L509.86,118.56 L510.24,118.55 L510.61,118.54 L510.99,118.53 L511.36,118.52 L511.73,118.52 L512.11,118.51 L512.48,118.5 L512.86,118.49 L513.23,118.48 L513.61,118.47 L513.98,118.47 L514.35,118.46 L514.73,118.45 L515.1,118.44 L515.48,118.43 L515.85,118.42 L516.22,118.41 L516.6,118.41 L516.97,118.4 L517.35,118.39 L517.72,118.38 L518.1,118.37 L518.47,118.36 L518.84,118.36 L519.22,118.35 L519.59,118.34 L519.97,118.33 L520.34,118.32 L520.71,118.31 L521.09,118.31 L521.46,118.3 L521.84,118.29 L522.21,118.28 L522.59,118.27 L522.96,118.26 L523.33,118.25 L523.71,118.25 L524.08,118.24 L524.46,118.23 L524.83,118.22 L525.2,118.21 L525.58,118.2 L525.95,118.2 L526.33,118.19 L526.7,118.18 L527.08,118.17 L527.45,118.16 L527.82,118.15 L528.2,118.15 L528.57,118.14 L528.95,118.13 L529.32,118.12 L529.69,118.11 L530.07,118.1 L530.44,118.1 L530.82,118.09 L531.19,118.08 L531.57,118.07 L531.94,118.06 L532.31,118.05 L532.69,118.04 L533.06,118.04 L533.44,118.03 L533.81,118.02 L534.18,118.01 L534.56,118 L534.93,117.99 L535.31,117.99 L535.68,117.98 L536.06,117.97 L536.43,117.96 L536.8,117.95 L537.18,117.94 L537.55,117.94 L537.93,117.93 L538.3,117.92 L538.67,117.91 L539.05,117.9 L539.42,117.89 L539.8,117.88 L540.17,117.88 L540.55,117.87 L540.92,117.86 L541.29,117.85 L541.67,117.84 L542.04,117.83 L542.42,117.83 L542.79,117.82 L543.16,117.81 L543.54,117.8 L543.91,117.79 L544.29,117.78 L544.66,117.78 L545.04,117.77 L545.41,117.76 L545.78,117.75 L546.16,117.74 L546.53,117.73 L546.91,117.72 L547.28,117.72 L547.65,117.71 L548.03,117.7 L548.4,117.69 L548.78,117.68 L549.15,117.67 L549.53,117.67 L549.9,117.66 L550.27,117.65 L550.65,117.64 L551.02,117.63 L551.4,117.62 L551.77,117.62 L552.14,117.61 L552.52,117.6 L552.89,117.59 L553.27,117.58 L553.64,117.57 L554.01,117.56 L554.39,117.56 L554.76,117.55 L555.14,117.54 L555.51,117.53 L555.89,117.52 L556.26,117.51 L556.63,117.51 L557.01,117.5 L557.38,117.49 L557.76,117.48 L558.13,117.47 L558.5,117.46 L558.88,117.46 L559.25,117.45 L559.63,117.44 L560,117.43 L560.38,117.42 L560.75,117.41 L561.12,117.4 L561.5,117.4 L561.87,117.39 L562.25,117.38 L562.62,117.37 L563,117.36 L563.37,117.35 L563.74,117.35 L564.12,117.34 L564.49,117.33 L564.87,117.32 L565.24,117.31 L565.61,117.3 L565.99,117.3 L566.36,117.29 L566.74,117.28 L567.11,117.27 L567.49,117.26 L567.86,117.25 L568.23,117.24 L568.61,117.24 L568.98,117.23 L569.36,117.22 L569.73,117.21 L570.1,117.2 L570.48,117.19 L570.85,117.19 L571.23,117.18 L571.6,117.17 L571.98,117.16 L572.35,117.15 L572.72,117.14 L573.1,117.14 L573.47,117.13 L573.85,117.12 L574.22,117.11 L574.59,117.1 L574.97,117.09 L575.34,117.08 L575.72,117.08 L576.09,117.07 L576.47,117.06 L576.84,117.05 L577.21,117.04 L577.59,117.03 L577.96,117.03 L578.34,117.02 L578.71,117.01 L579.08,117 L579.46,116.99 L579.83,116.98 L580.21,116.98 L580.58,116.97 L580.96,116.96 L581.33,116.95 L581.7,116.94 L582.08,116.93 L582.45,116.92 L582.83,116.92 L583.2,116.91 L583.57,116.9 L583.95,116.89 L584.32,116.88 L584.7,116.87 L585.07,116.87 L585.45,116.86 L585.82,116.85 L586.19,116.84 L586.57,116.83 L586.94,116.82 L587.32,116.82 L587.69,116.81 L588.06,116.8 L588.44,116.79 L588.81,116.78 L589.19,116.77 L589.56,116.76 L589.94,116.76 L590.31,116.75 L590.68,116.74 L591.06,116.73 L591.43,116.72 L591.81,116.71 L592.18,116.71 L592.55,116.7 L592.93,116.69 L593.3,116.68 L593.68,116.67 L594.05,116.66 L594.42,116.66 L594.8,116.65 L595.17,116.64 L595.55,116.63 L595.92,116.62 L596.3,116.61 L596.67,116.6 L597.04,116.6 L597.42,116.59 L597.79,116.58 L598.17,116.57 L598.54,116.56 L598.91,116.55 L599.29,116.55 L599.66,116.54 L600.04,116.53 L600.41,116.52 L600.79,116.51 L601.16,116.5 L601.53,116.5 L601.91,116.49 L602.28,116.48 L602.66,116.47 L603.03,116.46 L603.4,116.45 L603.78,116.44 L604.15,116.44 L604.53,116.43 L604.9,116.42 L605.28,116.41 L605.65,116.4 L606.02,116.39 L606.4,116.39 L606.77,116.38 L607.15,116.37 L607.52,116.36 L607.89,116.35 L608.27,116.34 L608.64,116.34 L609.02,116.33 L609.39,116.32 L609.77,116.31 L610.14,116.3 L610.51,116.29 L610.89,116.29 L611.26,116.28 L611.64,116.27 L612.01,116.26 L612.38,116.25 L612.76,116.24 L613.13,116.23 L613.51,116.23 L613.88,116.22 L614.26,116.21 L614.63,116.2 L615,116.19 L615.38,116.18 L615.75,116.18 L616.13,116.17 L616.5,116.16 L616.88,116.15 L617.25,116.14 L617.62,116.13 L618,116.13 L618.37,116.12 L618.75,116.11 L619.12,116.1 L619.49,116.09 L619.87,116.08 L620.24,116.07 L620.62,116.07 L620.99,116.06 L621.37,116.05 L621.74,116.04 L622.11,116.03 L622.49,116.02 L622.86,116.02 L623.24,116.01 L623.61,116 L623.98,115.99 L624.36,115.98 L624.73,115.97 L625.11,115.97 L625.48,115.96 L625.86,115.95 L626.23,115.94 L626.6,115.93 L626.98,115.92 L627.35,115.91 L627.73,115.91 L628.1,115.9" stroke="#1396ab" stroke-width="3.0" fill="none"/>
<path d="M403.6,114.9 L403.97,114.91 L404.35,114.92 L404.72,114.93 L405.1,114.93 L405.47,114.94 L405.85,114.95 L406.22,114.96 L406.59,114.97 L406.97,114.98 L407.34,114.98 L407.72,114.99 L408.09,115 L408.46,115.01 L408.84,115.02 L409.21,115.03 L409.59,115.03 L409.96,115.04 L410.34,115.05 L410.71,115.06 L411.08,115.07 L411.46,115.08 L411.83,115.09 L412.21,115.09 L412.58,115.1 L412.95,115.11 L413.33,115.12 L413.7,115.13 L414.08,115.14 L414.45,115.14 L414.83,115.15 L415.2,115.16 L415.57,115.17 L415.95,115.18 L416.32,115.19 L416.7,115.19 L417.07,115.2 L417.44,115.21 L417.82,115.22 L418.19,115.23 L418.57,115.24 L418.94,115.25 L419.31,115.25 L419.69,115.26 L420.06,115.27 L420.44,115.28 L420.81,115.29 L421.19,115.3 L421.56,115.3 L421.93,115.31 L422.31,115.32 L422.68,115.33 L423.06,115.34 L423.43,115.35 L423.81,115.35 L424.18,115.36 L424.55,115.37 L424.93,115.38 L425.3,115.39 L425.68,115.4 L426.05,115.41 L426.42,115.41 L426.8,115.42 L427.17,115.43 L427.55,115.44 L427.92,115.45 L428.3,115.46 L428.67,115.46 L429.04,115.47 L429.42,115.48 L429.79,115.49 L430.17,115.5 L430.54,115.51 L430.91,115.51 L431.29,115.52 L431.66,115.53 L432.04,115.54 L432.41,115.55 L432.79,115.56 L433.16,115.57 L433.53,115.57 L433.91,115.58 L434.28,115.59 L434.66,115.6 L435.03,115.61 L435.4,115.62 L435.78,115.62 L436.15,115.63 L436.53,115.64 L436.9,115.65 L437.28,115.66 L437.65,115.67 L438.02,115.67 L438.4,115.68 L438.77,115.69 L439.15,115.7 L439.52,115.71 L439.89,115.72 L440.27,115.73 L440.64,115.73 L441.02,115.74 L441.39,115.75 L441.77,115.76 L442.14,115.77 L442.51,115.78 L442.89,115.78 L443.26,115.79 L443.64,115.8 L444.01,115.81 L444.38,115.82 L444.76,115.83 L445.13,115.83 L445.51,115.84 L445.88,115.85 L446.25,115.86 L446.63,115.87 L447,115.88 L447.38,115.88 L447.75,115.89 L448.13,115.9 L448.5,115.91 L448.87,115.92 L449.25,115.93 L449.62,115.94 L450,115.94 L450.37,115.95 L450.75,115.96 L451.12,115.97 L451.49,115.98 L451.87,115.99 L452.24,115.99 L452.62,116 L452.99,116.01 L453.36,116.02 L453.74,116.03 L454.11,116.04 L454.49,116.04 L454.86,116.05 L455.24,116.06 L455.61,116.07 L455.98,116.08 L456.36,116.09 L456.73,116.1 L457.11,116.1 L457.48,116.11 L457.85,116.12 L458.23,116.13 L458.6,116.14 L458.98,116.15 L459.35,116.15 L459.73,116.16 L460.1,116.17 L460.47,116.18 L460.85,116.19 L461.22,116.2 L461.6,116.2 L461.97,116.21 L462.34,116.22 L462.72,116.23 L463.09,116.24 L463.47,116.25 L463.84,116.26 L464.22,116.26 L464.59,116.27 L464.96,116.28 L465.34,116.29 L465.71,116.3 L466.09,116.31 L466.46,116.31 L466.83,116.32 L467.21,116.33 L467.58,116.34 L467.96,116.35 L468.33,116.36 L468.71,116.36 L469.08,116.37 L469.45,116.38 L469.83,116.39 L470.2,116.4 L470.58,116.41 L470.95,116.42 L471.32,116.42 L471.7,116.43 L472.07,116.44 L472.45,116.45 L472.82,116.46 L473.2,116.47 L473.57,116.47 L473.94,116.48 L474.32,116.49 L474.69,116.5 L475.07,116.51 L475.44,116.52 L475.81,116.52 L476.19,116.53 L476.56,116.54 L476.94,116.55 L477.31,116.56 L477.69,116.57 L478.06,116.58 L478.43,116.58 L478.81,116.59 L479.18,116.6 L479.56,116.61 L479.93,116.62 L480.3,116.63 L480.68,116.63 L481.05,116.64 L481.43,116.65 L481.8,116.66 L482.18,116.67 L482.55,116.68 L482.92,116.68 L483.3,116.69 L483.67,116.7 L484.05,116.71 L484.42,116.72 L484.79,116.73 L485.17,116.74 L485.54,116.74 L485.92,116.75 L486.29,116.76 L486.67,116.77 L487.04,116.78 L487.41,116.79 L487.79,116.79 L488.16,116.8 L488.54,116.81 L488.91,116.82 L489.28,116.83 L489.66,116.84 L490.03,116.84 L490.41,116.85 L490.78,116.86 L491.16,116.87 L491.53,116.88 L491.9,116.89 L492.28,116.9 L492.65,116.9 L493.03,116.91 L493.4,116.92 L493.77,116.93 L494.15,116.94 L494.52,116.95 L494.9,116.95 L495.27,116.96 L495.65,116.97 L496.02,116.98 L496.39,116.99 L496.77,117 L497.14,117 L497.52,117.01 L497.89,117.02 L498.26,117.03 L498.64,117.04 L499.01,117.05 L499.39,117.06 L499.76,117.06 L500.13,117.07 L500.51,117.08 L500.88,117.09 L501.26,117.1 L501.63,117.11 L502.01,117.11 L502.38,117.12 L502.75,117.13 L503.13,117.14 L503.5,117.15 L503.88,117.16 L504.25,117.16 L504.62,117.17 L505,117.18 L505.37,117.19 L505.75,117.2 L506.12,117.21 L506.5,117.22 L506.87,117.22 L507.24,117.23 L507.62,117.24 L507.99,117.25 L508.37,117.26 L508.74,117.27 L509.12,117.27 L509.49,117.28 L509.86,117.29 L510.24,117.3 L510.61,117.31 L510.99,117.32 L511.36,117.32 L511.73,117.33 L512.11,117.34 L512.48,117.35 L512.86,117.36 L513.23,117.37 L513.61,117.38 L513.98,117.38 L514.35,117.39 L514.73,117.4 L515.1,117.41 L515.48,117.42 L515.85,117.43 L516.22,117.43 L516.6,117.44 L516.97,117.45 L517.35,117.46 L517.72,117.47 L518.1,117.48 L518.47,117.48 L518.84,117.49 L519.22,117.5 L519.59,117.51 L519.97,117.52 L520.34,117.53 L520.71,117.54 L521.09,117.54 L521.46,117.55 L521.84,117.56 L522.21,117.57 L522.59,117.58 L522.96,117.59 L523.33,117.59 L523.71,117.6 L524.08,117.61 L524.46,117.62 L524.83,117.63 L525.2,117.64 L525.58,117.64 L525.95,117.65 L526.33,117.66 L526.7,117.67 L527.08,117.68 L527.45,117.69 L527.82,117.7 L528.2,117.7 L528.57,117.71 L528.95,117.72 L529.32,117.73 L529.69,117.74 L530.07,117.75 L530.44,117.75 L530.82,117.76 L531.19,117.77 L531.57,117.78 L531.94,117.79 L532.31,117.8 L532.69,117.8 L533.06,117.81 L533.44,117.82 L533.81,117.83 L534.18,117.84 L534.56,117.85 L534.93,117.85 L535.31,117.86 L535.68,117.87 L536.06,117.88 L536.43,117.89 L536.8,117.9 L537.18,117.91 L537.55,117.91 L537.93,117.92 L538.3,117.93 L538.67,117.94 L539.05,117.95 L539.42,117.96 L539.8,117.96 L540.17,117.97 L540.55,117.98 L540.92,117.99 L541.29,118 L541.67,118.01 L542.04,118.01 L542.42,118.02 L542.79,118.03 L543.16,118.04 L543.54,118.05 L543.91,118.06 L544.29,118.07 L544.66,118.07 L545.04,118.08 L545.41,118.09 L545.78,118.1 L546.16,118.11 L546.53,118.12 L546.91,118.12 L547.28,118.13 L547.65,118.14 L548.03,118.15 L548.4,118.16 L548.78,118.17 L549.15,118.17 L549.53,118.18 L549.9,118.19 L550.27,118.2 L550.65,118.21 L551.02,118.22 L551.4,118.23 L551.77,118.23 L552.14,118.24 L552.52,118.25 L552.89,118.26 L553.27,118.27 L553.64,118.28 L554.01,118.28 L554.39,118.29 L554.76,118.3 L555.14,118.31 L555.51,118.32 L555.89,118.33 L556.26,118.33 L556.63,118.34 L557.01,118.35 L557.38,118.36 L557.76,118.36 L558.13,118.37 L558.5,118.38 L558.88,118.39 L559.25,118.39 L559.63,118.4 L560,118.41 L560.38,118.41 L560.75,118.42 L561.12,118.42 L561.5,118.42 L561.87,118.43 L562.25,118.43 L562.62,118.43 L563,118.43 L563.37,118.43 L563.74,118.42 L564.12,118.42 L564.49,118.41 L564.87,118.4 L565.24,118.38 L565.61,118.36 L565.99,118.34 L566.36,118.32 L566.74,118.29 L567.11,118.26 L567.49,118.22 L567.86,118.17 L568.23,118.12 L568.61,118.06 L568.98,117.99 L569.36,117.92 L569.73,117.83 L570.1,117.74 L570.48,117.63 L570.85,117.52 L571.23,117.4 L571.6,117.26 L571.98,117.11 L572.35,116.95 L572.72,116.78 L573.1,116.59 L573.47,116.39 L573.85,116.18 L574.22,115.95 L574.59,115.72 L574.97,115.46 L575.34,115.2 L575.72,114.93 L576.09,114.64 L576.47,114.35 L576.84,114.05 L577.21,113.74 L577.59,113.42 L577.96,113.1 L578.34,112.78 L578.71,112.45 L579.08,112.13 L579.46,111.81 L579.83,111.49 L580.21,111.18 L580.58,110.88 L580.96,110.59 L581.33,110.31 L581.7,110.04 L582.08,109.79 L582.45,109.56 L582.83,109.34 L583.2,109.15 L583.57,108.98 L583.95,108.82 L584.32,108.69 L584.7,108.58 L585.07,108.49 L585.45,108.42 L585.82,108.38 L586.19,108.37 L586.57,108.39 L586.94,108.44 L587.32,108.52 L587.69,108.62 L588.06,108.75 L588.44,108.9 L588.81,109.06 L589.19,109.23 L589.56,109.42 L589.94,109.63 L590.31,109.84 L590.68,110.06 L591.06,110.29 L591.43,110.53 L591.81,110.78 L592.18,111.03 L592.55,111.29 L592.93,111.55 L593.3,111.81 L593.68,112.06 L594.05,112.31 L594.42,112.55 L594.8,112.78 L595.17,113 L595.55,113.21 L595.92,113.4 L596.3,113.58 L596.67,113.75 L597.04,113.9 L597.42,114.04 L597.79,114.17 L598.17,114.28 L598.54,114.38 L598.91,114.47 L599.29,114.55 L599.66,114.62 L600.04,114.68 L600.41,114.73 L600.79,114.77 L601.16,114.81 L601.53,114.84 L601.91,114.87 L602.28,114.9 L602.66,114.91 L603.03,114.93 L603.4,114.94 L603.78,114.95 L604.15,114.96 L604.53,114.97 L604.9,114.98 L605.28,114.98 L605.65,114.99 L606.02,114.99 L606.4,114.99 L606.77,114.99 L607.15,115 L607.52,115 L607.89,115 L608.27,115 L608.64,115 L609.02,115 L609.39,115 L609.77,115 L610.14,115 L610.51,115 L610.89,115 L611.26,115 L611.64,115 L612.01,115 L612.38,115 L612.76,115 L613.13,115 L613.51,115 L613.88,115 L614.26,115 L614.63,115 L615,115 L615.38,115 L615.75,115 L616.13,115 L616.5,115 L616.88,115 L617.25,115 L617.62,115 L618,115 L618.37,115 L618.75,115 L619.12,115 L619.49,115 L619.87,115 L620.24,115 L620.62,115 L620.99,115 L621.37,115 L621.74,115 L622.11,115 L622.49,115 L622.86,115 L623.24,115 L623.61,115 L623.98,115 L624.36,115 L624.73,115 L625.11,115 L625.48,115 L625.86,115 L626.23,115 L626.6,115 L626.98,115 L627.35,115 L627.73,115 L628.1,115" stroke="#8ee614" stroke-width="3.0" fill="none"/>
<path d="M535.3,41.3 Q529.8,38.82 524.3,35.1 L527.5,41.3 L524.3,47.5 Q529.8,43.78 535.3,41.3Z" fill="#111"/>
<path d="M536,77.4 Q530.5,74.92 525,71.2 L528.2,77.4 L525,83.6 Q530.5,79.88 536,77.4Z" fill="#111"/>
<path d="M550.8,18.8 Q556.8,16.6 562.8,13.3 L559.6,18.8 L562.8,24.3 Q556.8,21 550.8,18.8Z" fill="#1396ab"/>
<path d="M456.6,116.09 Q450.85,113.69 445.1,110.09 L448.3,116.09 L445.1,122.09 Q450.85,118.49 456.6,116.09Z" fill="#8ee614"/>
<path d="M482,137 Q475.75,134.64 469.5,131.1 L472.7,137 L469.5,142.9 Q475.75,139.36 482,137Z" fill="#8ee614"/>
<path d="M579.5,117 Q584.25,114.8 589,111.5 L585.8,117 L589,122.5 Q584.25,119.2 579.5,117Z" fill="#1396ab"/>
<path d="M403.6,77.8H628.1M515.8,7.5V148.1" stroke="#111" stroke-width="1.25" fill="none"/>
<rect x="403.6" y="7.5" width="224.5" height="140.6" fill="none" stroke="#111" stroke-width="1.5"/>
<path d="M431.65,148.1v-2.8M431.65,7.5v2.8M459.7,148.1v-5.5M459.7,7.5v5.5M487.75,148.1v-2.8M487.75,7.5v2.8M515.8,148.1v-5.5M515.8,7.5v5.5M543.85,148.1v-2.8M543.85,7.5v2.8M571.9,148.1v-5.5M571.9,7.5v5.5M599.95,148.1v-2.8M599.95,7.5v2.8M403.6,130.52h2.8M403.6,112.95h5.5M403.6,95.38h2.8M403.6,77.8h5.5M403.6,60.22h2.8M403.6,42.65h5.5M403.6,25.08h2.8M628.1,137.08h-2.8M628.1,117.22h-5.5M628.1,97.36h-2.8M628.1,77.5h-5.5M628.1,57.64h-2.8M628.1,37.78h-5.5M628.1,17.92h-2.8" stroke="#111" stroke-width="1.5" fill="none"/>
<path d="M501.8,52.9L511.9,43.3M518.5,114.5L529,107M604.2,22.6L608.8,33.8" stroke="#111" stroke-width="1.3" fill="none"/>
<rect x="122" y="199.9" width="26.2" height="140.6" fill="#e4e4fe"/>
<rect x="177.2" y="199.9" width="25.8" height="140.6" fill="#e4e4fe"/>
<path d="M49.8,276.2H274.9" stroke="#1a2fd6" stroke-width="1.6" stroke-dasharray="2.4 5.2" fill="none"/>
<path d="M67.33,337.9a1.6,1.6 0 1,0 3.2,0a1.6,1.6 0 1,0 -3.2,0M67.7,337.9a1.6,1.6 0 1,0 3.2,0a1.6,1.6 0 1,0 -3.2,0M68.07,337.9a1.6,1.6 0 1,0 3.2,0a1.6,1.6 0 1,0 -3.2,0M68.44,337.9a1.6,1.6 0 1,0 3.2,0a1.6,1.6 0 1,0 -3.2,0M68.81,337.9a1.6,1.6 0 1,0 3.2,0a1.6,1.6 0 1,0 -3.2,0M69.18,337.9a1.6,1.6 0 1,0 3.2,0a1.6,1.6 0 1,0 -3.2,0M69.55,337.9a1.6,1.6 0 1,0 3.2,0a1.6,1.6 0 1,0 -3.2,0M69.92,337.9a1.6,1.6 0 1,0 3.2,0a1.6,1.6 0 1,0 -3.2,0M70.29,337.9a1.6,1.6 0 1,0 3.2,0a1.6,1.6 0 1,0 -3.2,0M70.66,337.9a1.6,1.6 0 1,0 3.2,0a1.6,1.6 0 1,0 -3.2,0M71.03,337.9a1.6,1.6 0 1,0 3.2,0a1.6,1.6 0 1,0 -3.2,0M71.4,337.9a1.6,1.6 0 1,0 3.2,0a1.6,1.6 0 1,0 -3.2,0M71.77,337.9a1.6,1.6 0 1,0 3.2,0a1.6,1.6 0 1,0 -3.2,0M72.14,337.9a1.6,1.6 0 1,0 3.2,0a1.6,1.6 0 1,0 -3.2,0M72.51,337.9a1.6,1.6 0 1,0 3.2,0a1.6,1.6 0 1,0 -3.2,0M72.88,337.9a1.6,1.6 0 1,0 3.2,0a1.6,1.6 0 1,0 -3.2,0M73.25,337.9a1.6,1.6 0 1,0 3.2,0a1.6,1.6 0 1,0 -3.2,0M73.62,337.9a1.6,1.6 0 1,0 3.2,0a1.6,1.6 0 1,0 -3.2,0M73.99,337.9a1.6,1.6 0 1,0 3.2,0a1.6,1.6 0 1,0 -3.2,0M74.36,337.9a1.6,1.6 0 1,0 3.2,0a1.6,1.6 0 1,0 -3.2,0M74.73,337.9a1.6,1.6 0 1,0 3.2,0a1.6,1.6 0 1,0 -3.2,0M75.1,337.9a1.6,1.6 0 1,0 3.2,0a1.6,1.6 0 1,0 -3.2,0M75.47,337.9a1.6,1.6 0 1,0 3.2,0a1.6,1.6 0 1,0 -3.2,0M75.84,337.9a1.6,1.6 0 1,0 3.2,0a1.6,1.6 0 1,0 -3.2,0M76.21,337.9a1.6,1.6 0 1,0 3.2,0a1.6,1.6 0 1,0 -3.2,0M76.58,337.9a1.6,1.6 0 1,0 3.2,0a1.6,1.6 0 1,0 -3.2,0M76.95,337.9a1.6,1.6 0 1,0 3.2,0a1.6,1.6 0 1,0 -3.2,0M77.32,337.9a1.6,1.6 0 1,0 3.2,0a1.6,1.6 0 1,0 -3.2,0M77.69,337.9a1.6,1.6 0 1,0 3.2,0a1.6,1.6 0 1,0 -3.2,0M78.06,337.9a1.6,1.6 0 1,0 3.2,0a1.6,1.6 0 1,0 -3.2,0M78.43,337.9a1.6,1.6 0 1,0 3.2,0a1.6,1.6 0 1,0 -3.2,0M78.8,337.9a1.6,1.6 0 1,0 3.2,0a1.6,1.6 0 1,0 -3.2,0M79.17,337.9a1.6,1.6 0 1,0 3.2,0a1.6,1.6 0 1,0 -3.2,0M79.54,337.9a1.6,1.6 0 1,0 3.2,0a1.6,1.6 0 1,0 -3.2,0M79.91,337.9a1.6,1.6 0 1,0 3.2,0a1.6,1.6 0 1,0 -3.2,0M80.28,337.9a1.6,1.6 0 1,0 3.2,0a1.6,1.6 0 1,0 -3.2,0M80.65,337.9a1.6,1.6 0 1,0 3.2,0a1.6,1.6 0 1,0 -3.2,0M81.02,337.9a1.6,1.6 0 1,0 3.2,0a1.6,1.6 0 1,0 -3.2,0M81.39,337.9a1.6,1.6 0 1,0 3.2,0a1.6,1.6 0 1,0 -3.2,0M81.76,337.9a1.6,1.6 0 1,0 3.2,0a1.6,1.6 0 1,0 -3.2,0M82.13,337.9a1.6,1.6 0 1,0 3.2,0a1.6,1.6 0 1,0 -3.2,0M82.5,337.9a1.6,1.6 0 1,0 3.2,0a1.6,1.6 0 1,0 -3.2,0M82.87,337.9a1.6,1.6 0 1,0 3.2,0a1.6,1.6 0 1,0 -3.2,0M83.24,337.9a1.6,1.6 0 1,0 3.2,0a1.6,1.6 0 1,0 -3.2,0M83.61,337.9a1.6,1.6 0 1,0 3.2,0a1.6,1.6 0 1,0 -3.2,0M83.98,337.9a1.6,1.6 0 1,0 3.2,0a1.6,1.6 0 1,0 -3.2,0M84.35,337.9a1.6,1.6 0 1,0 3.2,0a1.6,1.6 0 1,0 -3.2,0M84.72,337.9a1.6,1.6 0 1,0 3.2,0a1.6,1.6 0 1,0 -3.2,0M85.09,337.9a1.6,1.6 0 1,0 3.2,0a1.6,1.6 0 1,0 -3.2,0M85.46,337.9a1.6,1.6 0 1,0 3.2,0a1.6,1.6 0 1,0 -3.2,0M85.83,337.9a1.6,1.6 0 1,0 3.2,0a1.6,1.6 0 1,0 -3.2,0M86.2,337.9a1.6,1.6 0 1,0 3.2,0a1.6,1.6 0 1,0 -3.2,0M86.57,337.9a1.6,1.6 0 1,0 3.2,0a1.6,1.6 0 1,0 -3.2,0M86.94,337.9a1.6,1.6 0 1,0 3.2,0a1.6,1.6 0 1,0 -3.2,0M87.31,337.9a1.6,1.6 0 1,0 3.2,0a1.6,1.6 0 1,0 -3.2,0M87.68,337.9a1.6,1.6 0 1,0 3.2,0a1.6,1.6 0 1,0 -3.2,0M88.05,337.9a1.6,1.6 0 1,0 3.2,0a1.6,1.6 0 1,0 -3.2,0M88.42,337.9a1.6,1.6 0 1,0 3.2,0a1.6,1.6 0 1,0 -3.2,0M88.79,337.9a1.6,1.6 0 1,0 3.2,0a1.6,1.6 0 1,0 -3.2,0M89.16,337.9a1.6,1.6 0 1,0 3.2,0a1.6,1.6 0 1,0 -3.2,0M89.53,337.9a1.6,1.6 0 1,0 3.2,0a1.6,1.6 0 1,0 -3.2,0M89.9,337.9a1.6,1.6 0 1,0 3.2,0a1.6,1.6 0 1,0 -3.2,0M90.27,337.9a1.6,1.6 0 1,0 3.2,0a1.6,1.6 0 1,0 -3.2,0M90.64,337.9a1.6,1.6 0 1,0 3.2,0a1.6,1.6 0 1,0 -3.2,0M91.01,337.9a1.6,1.6 0 1,0 3.2,0a1.6,1.6 0 1,0 -3.2,0M91.38,337.9a1.6,1.6 0 1,0 3.2,0a1.6,1.6 0 1,0 -3.2,0M91.75,337.9a1.6,1.6 0 1,0 3.2,0a1.6,1.6 0 1,0 -3.2,0M92.12,337.9a1.6,1.6 0 1,0 3.2,0a1.6,1.6 0 1,0 -3.2,0M92.49,337.9a1.6,1.6 0 1,0 3.2,0a1.6,1.6 0 1,0 -3.2,0M92.86,337.9a1.6,1.6 0 1,0 3.2,0a1.6,1.6 0 1,0 -3.2,0M93.23,337.9a1.6,1.6 0 1,0 3.2,0a1.6,1.6 0 1,0 -3.2,0M93.6,337.9a1.6,1.6 0 1,0 3.2,0a1.6,1.6 0 1,0 -3.2,0M93.97,337.9a1.6,1.6 0 1,0 3.2,0a1.6,1.6 0 1,0 -3.2,0M94.34,337.9a1.6,1.6 0 1,0 3.2,0a1.6,1.6 0 1,0 -3.2,0M94.71,337.9a1.6,1.6 0 1,0 3.2,0a1.6,1.6 0 1,0 -3.2,0M95.08,337.9a1.6,1.6 0 1,0 3.2,0a1.6,1.6 0 1,0 -3.2,0M95.45,337.9a1.6,1.6 0 1,0 3.2,0a1.6,1.6 0 1,0 -3.2,0M95.82,337.9a1.6,1.6 0 1,0 3.2,0a1.6,1.6 0 1,0 -3.2,0M96.19,337.9a1.6,1.6 0 1,0 3.2,0a1.6,1.6 0 1,0 -3.2,0M96.56,337.9a1.6,1.6 0 1,0 3.2,0a1.6,1.6 0 1,0 -3.2,0M96.93,337.9a1.6,1.6 0 1,0 3.2,0a1.6,1.6 0 1,0 -3.2,0M97.3,337.9a1.6,1.6 0 1,0 3.2,0a1.6,1.6 0 1,0 -3.2,0M97.67,337.9a1.6,1.6 0 1,0 3.2,0a1.6,1.6 0 1,0 -3.2,0M98.04,337.9a1.6,1.6 0 1,0 3.2,0a1.6,1.6 0 1,0 -3.2,0M98.41,337.9a1.6,1.6 0 1,0 3.2,0a1.6,1.6 0 1,0 -3.2,0M98.78,337.9a1.6,1.6 0 1,0 3.2,0a1.6,1.6 0 1,0 -3.2,0M99.15,337.9a1.6,1.6 0 1,0 3.2,0a1.6,1.6 0 1,0 -3.2,0M99.52,337.9a1.6,1.6 0 1,0 3.2,0a1.6,1.6 0 1,0 -3.2,0M99.89,337.9a1.6,1.6 0 1,0 3.2,0a1.6,1.6 0 1,0 -3.2,0M100.26,337.9a1.6,1.6 0 1,0 3.2,0a1.6,1.6 0 1,0 -3.2,0M100.63,337.9a1.6,1.6 0 1,0 3.2,0a1.6,1.6 0 1,0 -3.2,0M101,337.9a1.6,1.6 0 1,0 3.2,0a1.6,1.6 0 1,0 -3.2,0M101.37,337.9a1.6,1.6 0 1,0 3.2,0a1.6,1.6 0 1,0 -3.2,0M101.74,337.9a1.6,1.6 0 1,0 3.2,0a1.6,1.6 0 1,0 -3.2,0M102.11,337.9a1.6,1.6 0 1,0 3.2,0a1.6,1.6 0 1,0 -3.2,0M102.48,337.9a1.6,1.6 0 1,0 3.2,0a1.6,1.6 0 1,0 -3.2,0M102.85,337.9a1.6,1.6 0 1,0 3.2,0a1.6,1.6 0 1,0 -3.2,0M103.22,337.9a1.6,1.6 0 1,0 3.2,0a1.6,1.6 0 1,0 -3.2,0M103.59,337.9a1.6,1.6 0 1,0 3.2,0a1.6,1.6 0 1,0 -3.2,0M103.96,337.9a1.6,1.6 0 1,0 3.2,0a1.6,1.6 0 1,0 -3.2,0M104.33,337.9a1.6,1.6 0 1,0 3.2,0a1.6,1.6 0 1,0 -3.2,0M104.7,337.9a1.6,1.6 0 1,0 3.2,0a1.6,1.6 0 1,0 -3.2,0M105.07,337.9a1.6,1.6 0 1,0 3.2,0a1.6,1.6 0 1,0 -3.2,0M105.44,337.9a1.6,1.6 0 1,0 3.2,0a1.6,1.6 0 1,0 -3.2,0M105.81,337.9a1.6,1.6 0 1,0 3.2,0a1.6,1.6 0 1,0 -3.2,0M106.18,337.9a1.6,1.6 0 1,0 3.2,0a1.6,1.6 0 1,0 -3.2,0M106.55,337.9a1.6,1.6 0 1,0 3.2,0a1.6,1.6 0 1,0 -3.2,0M106.92,337.9a1.6,1.6 0 1,0 3.2,0a1.6,1.6 0 1,0 -3.2,0M107.29,337.9a1.6,1.6 0 1,0 3.2,0a1.6,1.6 0 1,0 -3.2,0M107.66,337.9a1.6,1.6 0 1,0 3.2,0a1.6,1.6 0 1,0 -3.2,0M108.03,337.9a1.6,1.6 0 1,0 3.2,0a1.6,1.6 0 1,0 -3.2,0M108.4,337.9a1.6,1.6 0 1,0 3.2,0a1.6,1.6 0 1,0 -3.2,0M108.77,337.9a1.6,1.6 0 1,0 3.2,0a1.6,1.6 0 1,0 -3.2,0M109.14,337.9a1.6,1.6 0 1,0 3.2,0a1.6,1.6 0 1,0 -3.2,0M109.51,337.9a1.6,1.6 0 1,0 3.2,0a1.6,1.6 0 1,0 -3.2,0M109.88,337.9a1.6,1.6 0 1,0 3.2,0a1.6,1.6 0 1,0 -3.2,0M110.25,337.9a1.6,1.6 0 1,0 3.2,0a1.6,1.6 0 1,0 -3.2,0M110.62,337.9a1.6,1.6 0 1,0 3.2,0a1.6,1.6 0 1,0 -3.2,0M110.99,337.9a1.6,1.6 0 1,0 3.2,0a1.6,1.6 0 1,0 -3.2,0M111.36,337.9a1.6,1.6 0 1,0 3.2,0a1.6,1.6 0 1,0 -3.2,0M111.73,337.9a1.6,1.6 0 1,0 3.2,0a1.6,1.6 0 1,0 -3.2,0M112.1,337.9a1.6,1.6 0 1,0 3.2,0a1.6,1.6 0 1,0 -3.2,0M112.47,337.9a1.6,1.6 0 1,0 3.2,0a1.6,1.6 0 1,0 -3.2,0M112.84,337.9a1.6,1.6 0 1,0 3.2,0a1.6,1.6 0 1,0 -3.2,0M113.21,337.9a1.6,1.6 0 1,0 3.2,0a1.6,1.6 0 1,0 -3.2,0M113.58,337.9a1.6,1.6 0 1,0 3.2,0a1.6,1.6 0 1,0 -3.2,0M113.95,337.9a1.6,1.6 0 1,0 3.2,0a1.6,1.6 0 1,0 -3.2,0M114.32,337.9a1.6,1.6 0 1,0 3.2,0a1.6,1.6 0 1,0 -3.2,0M114.69,337.9a1.6,1.6 0 1,0 3.2,0a1.6,1.6 0 1,0 -3.2,0M115.06,337.9a1.6,1.6 0 1,0 3.2,0a1.6,1.6 0 1,0 -3.2,0M115.43,337.9a1.6,1.6 0 1,0 3.2,0a1.6,1.6 0 1,0 -3.2,0M115.8,337.89a1.6,1.6 0 1,0 3.2,0a1.6,1.6 0 1,0 -3.2,0M116.17,337.89a1.6,1.6 0 1,0 3.2,0a1.6,1.6 0 1,0 -3.2,0M116.54,337.89a1.6,1.6 0 1,0 3.2,0a1.6,1.6 0 1,0 -3.2,0M116.91,337.88a1.6,1.6 0 1,0 3.2,0a1.6,1.6 0 1,0 -3.2,0M117.28,337.88a1.6,1.6 0 1,0 3.2,0a1.6,1.6 0 1,0 -3.2,0M117.65,337.87a1.6,1.6 0 1,0 3.2,0a1.6,1.6 0 1,0 -3.2,0M118.02,337.86a1.6,1.6 0 1,0 3.2,0a1.6,1.6 0 1,0 -3.2,0M118.39,337.84a1.6,1.6 0 1,0 3.2,0a1.6,1.6 0 1,0 -3.2,0M118.76,337.82a1.6,1.6 0 1,0 3.2,0a1.6,1.6 0 1,0 -3.2,0M119.13,337.79a1.6,1.6 0 1,0 3.2,0a1.6,1.6 0 1,0 -3.2,0M119.5,337.75a1.6,1.6 0 1,0 3.2,0a1.6,1.6 0 1,0 -3.2,0M119.87,337.69a1.6,1.6 0 1,0 3.2,0a1.6,1.6 0 1,0 -3.2,0M120.24,337.62a1.6,1.6 0 1,0 3.2,0a1.6,1.6 0 1,0 -3.2,0M120.61,337.53a1.6,1.6 0 1,0 3.2,0a1.6,1.6 0 1,0 -3.2,0M120.98,337.42a1.6,1.6 0 1,0 3.2,0a1.6,1.6 0 1,0 -3.2,0M121.35,337.27a1.6,1.6 0 1,0 3.2,0a1.6,1.6 0 1,0 -3.2,0M121.72,337.09a1.6,1.6 0 1,0 3.2,0a1.6,1.6 0 1,0 -3.2,0M122.09,336.85a1.6,1.6 0 1,0 3.2,0a1.6,1.6 0 1,0 -3.2,0M122.46,336.56a1.6,1.6 0 1,0 3.2,0a1.6,1.6 0 1,0 -3.2,0M122.83,336.21a1.6,1.6 0 1,0 3.2,0a1.6,1.6 0 1,0 -3.2,0M123.2,335.77a1.6,1.6 0 1,0 3.2,0a1.6,1.6 0 1,0 -3.2,0M123.57,335.24a1.6,1.6 0 1,0 3.2,0a1.6,1.6 0 1,0 -3.2,0M123.94,334.61a1.6,1.6 0 1,0 3.2,0a1.6,1.6 0 1,0 -3.2,0M124.31,333.85a1.6,1.6 0 1,0 3.2,0a1.6,1.6 0 1,0 -3.2,0M124.68,332.96a1.6,1.6 0 1,0 3.2,0a1.6,1.6 0 1,0 -3.2,0M125.05,331.92a1.6,1.6 0 1,0 3.2,0a1.6,1.6 0 1,0 -3.2,0M125.42,330.71a1.6,1.6 0 1,0 3.2,0a1.6,1.6 0 1,0 -3.2,0M125.79,329.32a1.6,1.6 0 1,0 3.2,0a1.6,1.6 0 1,0 -3.2,0M126.16,327.75a1.6,1.6 0 1,0 3.2,0a1.6,1.6 0 1,0 -3.2,0M126.53,325.98a1.6,1.6 0 1,0 3.2,0a1.6,1.6 0 1,0 -3.2,0M126.9,324a1.6,1.6 0 1,0 3.2,0a1.6,1.6 0 1,0 -3.2,0M127.27,321.82a1.6,1.6 0 1,0 3.2,0a1.6,1.6 0 1,0 -3.2,0M127.64,319.43a1.6,1.6 0 1,0 3.2,0a1.6,1.6 0 1,0 -3.2,0M128.01,316.85a1.6,1.6 0 1,0 3.2,0a1.6,1.6 0 1,0 -3.2,0M128.38,314.09a1.6,1.6 0 1,0 3.2,0a1.6,1.6 0 1,0 -3.2,0M128.75,311.18a1.6,1.6 0 1,0 3.2,0a1.6,1.6 0 1,0 -3.2,0M129.12,308.13a1.6,1.6 0 1,0 3.2,0a1.6,1.6 0 1,0 -3.2,0M129.49,304.99a1.6,1.6 0 1,0 3.2,0a1.6,1.6 0 1,0 -3.2,0M129.86,301.79a1.6,1.6 0 1,0 3.2,0a1.6,1.6 0 1,0 -3.2,0M130.23,298.58a1.6,1.6 0 1,0 3.2,0a1.6,1.6 0 1,0 -3.2,0M130.6,295.4a1.6,1.6 0 1,0 3.2,0a1.6,1.6 0 1,0 -3.2,0M130.97,292.32a1.6,1.6 0 1,0 3.2,0a1.6,1.6 0 1,0 -3.2,0M131.34,289.38a1.6,1.6 0 1,0 3.2,0a1.6,1.6 0 1,0 -3.2,0M131.71,286.64a1.6,1.6 0 1,0 3.2,0a1.6,1.6 0 1,0 -3.2,0M132.08,284.16a1.6,1.6 0 1,0 3.2,0a1.6,1.6 0 1,0 -3.2,0M132.45,281.98a1.6,1.6 0 1,0 3.2,0a1.6,1.6 0 1,0 -3.2,0M132.82,280.15a1.6,1.6 0 1,0 3.2,0a1.6,1.6 0 1,0 -3.2,0M133.19,278.71a1.6,1.6 0 1,0 3.2,0a1.6,1.6 0 1,0 -3.2,0M133.56,277.7a1.6,1.6 0 1,0 3.2,0a1.6,1.6 0 1,0 -3.2,0M133.93,277.13a1.6,1.6 0 1,0 3.2,0a1.6,1.6 0 1,0 -3.2,0M134.3,277.02a1.6,1.6 0 1,0 3.2,0a1.6,1.6 0 1,0 -3.2,0M134.67,277.37a1.6,1.6 0 1,0 3.2,0a1.6,1.6 0 1,0 -3.2,0M135.04,278.17a1.6,1.6 0 1,0 3.2,0a1.6,1.6 0 1,0 -3.2,0M135.41,279.4a1.6,1.6 0 1,0 3.2,0a1.6,1.6 0 1,0 -3.2,0M135.78,281.04a1.6,1.6 0 1,0 3.2,0a1.6,1.6 0 1,0 -3.2,0M136.15,283.06a1.6,1.6 0 1,0 3.2,0a1.6,1.6 0 1,0 -3.2,0M136.52,285.4a1.6,1.6 0 1,0 3.2,0a1.6,1.6 0 1,0 -3.2,0M136.89,288.02a1.6,1.6 0 1,0 3.2,0a1.6,1.6 0 1,0 -3.2,0M137.26,290.87a1.6,1.6 0 1,0 3.2,0a1.6,1.6 0 1,0 -3.2,0M137.63,293.89a1.6,1.6 0 1,0 3.2,0a1.6,1.6 0 1,0 -3.2,0M138,297.03a1.6,1.6 0 1,0 3.2,0a1.6,1.6 0 1,0 -3.2,0M138.37,300.23a1.6,1.6 0 1,0 3.2,0a1.6,1.6 0 1,0 -3.2,0M138.74,303.44a1.6,1.6 0 1,0 3.2,0a1.6,1.6 0 1,0 -3.2,0M139.11,306.61a1.6,1.6 0 1,0 3.2,0a1.6,1.6 0 1,0 -3.2,0M139.48,309.71a1.6,1.6 0 1,0 3.2,0a1.6,1.6 0 1,0 -3.2,0M139.85,312.69a1.6,1.6 0 1,0 3.2,0a1.6,1.6 0 1,0 -3.2,0M140.22,315.53a1.6,1.6 0 1,0 3.2,0a1.6,1.6 0 1,0 -3.2,0M140.59,318.2a1.6,1.6 0 1,0 3.2,0a1.6,1.6 0 1,0 -3.2,0M140.96,320.68a1.6,1.6 0 1,0 3.2,0a1.6,1.6 0 1,0 -3.2,0M141.33,322.96a1.6,1.6 0 1,0 3.2,0a1.6,1.6 0 1,0 -3.2,0M141.7,325.04a1.6,1.6 0 1,0 3.2,0a1.6,1.6 0 1,0 -3.2,0M142.07,326.91a1.6,1.6 0 1,0 3.2,0a1.6,1.6 0 1,0 -3.2,0M142.44,328.58a1.6,1.6 0 1,0 3.2,0a1.6,1.6 0 1,0 -3.2,0M142.81,330.06a1.6,1.6 0 1,0 3.2,0a1.6,1.6 0 1,0 -3.2,0M143.18,331.35a1.6,1.6 0 1,0 3.2,0a1.6,1.6 0 1,0 -3.2,0M143.55,332.47a1.6,1.6 0 1,0 3.2,0a1.6,1.6 0 1,0 -3.2,0M143.92,333.43a1.6,1.6 0 1,0 3.2,0a1.6,1.6 0 1,0 -3.2,0M144.29,334.25a1.6,1.6 0 1,0 3.2,0a1.6,1.6 0 1,0 -3.2,0M144.66,334.95a1.6,1.6 0 1,0 3.2,0a1.6,1.6 0 1,0 -3.2,0M145.03,335.52a1.6,1.6 0 1,0 3.2,0a1.6,1.6 0 1,0 -3.2,0M145.4,336a1.6,1.6 0 1,0 3.2,0a1.6,1.6 0 1,0 -3.2,0M145.77,336.4a1.6,1.6 0 1,0 3.2,0a1.6,1.6 0 1,0 -3.2,0M146.14,336.72a1.6,1.6 0 1,0 3.2,0a1.6,1.6 0 1,0 -3.2,0M146.51,336.98a1.6,1.6 0 1,0 3.2,0a1.6,1.6 0 1,0 -3.2,0M146.88,337.19a1.6,1.6 0 1,0 3.2,0a1.6,1.6 0 1,0 -3.2,0M147.25,337.35a1.6,1.6 0 1,0 3.2,0a1.6,1.6 0 1,0 -3.2,0M147.62,337.48a1.6,1.6 0 1,0 3.2,0a1.6,1.6 0 1,0 -3.2,0M147.99,337.58a1.6,1.6 0 1,0 3.2,0a1.6,1.6 0 1,0 -3.2,0M148.36,337.66a1.6,1.6 0 1,0 3.2,0a1.6,1.6 0 1,0 -3.2,0M148.73,337.72a1.6,1.6 0 1,0 3.2,0a1.6,1.6 0 1,0 -3.2,0M149.1,337.77a1.6,1.6 0 1,0 3.2,0a1.6,1.6 0 1,0 -3.2,0M149.47,337.8a1.6,1.6 0 1,0 3.2,0a1.6,1.6 0 1,0 -3.2,0M149.84,337.83a1.6,1.6 0 1,0 3.2,0a1.6,1.6 0 1,0 -3.2,0M150.21,337.85a1.6,1.6 0 1,0 3.2,0a1.6,1.6 0 1,0 -3.2,0M150.58,337.86a1.6,1.6 0 1,0 3.2,0a1.6,1.6 0 1,0 -3.2,0M150.95,337.87a1.6,1.6 0 1,0 3.2,0a1.6,1.6 0 1,0 -3.2,0M151.32,337.88a1.6,1.6 0 1,0 3.2,0a1.6,1.6 0 1,0 -3.2,0M151.69,337.89a1.6,1.6 0 1,0 3.2,0a1.6,1.6 0 1,0 -3.2,0M152.06,337.89a1.6,1.6 0 1,0 3.2,0a1.6,1.6 0 1,0 -3.2,0M152.43,337.89a1.6,1.6 0 1,0 3.2,0a1.6,1.6 0 1,0 -3.2,0M152.8,337.9a1.6,1.6 0 1,0 3.2,0a1.6,1.6 0 1,0 -3.2,0M153.17,337.9a1.6,1.6 0 1,0 3.2,0a1.6,1.6 0 1,0 -3.2,0M153.54,337.9a1.6,1.6 0 1,0 3.2,0a1.6,1.6 0 1,0 -3.2,0M153.91,337.9a1.6,1.6 0 1,0 3.2,0a1.6,1.6 0 1,0 -3.2,0M154.28,337.9a1.6,1.6 0 1,0 3.2,0a1.6,1.6 0 1,0 -3.2,0M154.65,337.9a1.6,1.6 0 1,0 3.2,0a1.6,1.6 0 1,0 -3.2,0M155.02,337.9a1.6,1.6 0 1,0 3.2,0a1.6,1.6 0 1,0 -3.2,0M155.39,337.9a1.6,1.6 0 1,0 3.2,0a1.6,1.6 0 1,0 -3.2,0M155.76,337.9a1.6,1.6 0 1,0 3.2,0a1.6,1.6 0 1,0 -3.2,0M156.13,337.9a1.6,1.6 0 1,0 3.2,0a1.6,1.6 0 1,0 -3.2,0M156.5,337.9a1.6,1.6 0 1,0 3.2,0a1.6,1.6 0 1,0 -3.2,0M156.87,337.9a1.6,1.6 0 1,0 3.2,0a1.6,1.6 0 1,0 -3.2,0M157.24,337.9a1.6,1.6 0 1,0 3.2,0a1.6,1.6 0 1,0 -3.2,0M157.61,337.9a1.6,1.6 0 1,0 3.2,0a1.6,1.6 0 1,0 -3.2,0M157.98,337.9a1.6,1.6 0 1,0 3.2,0a1.6,1.6 0 1,0 -3.2,0M158.35,337.9a1.6,1.6 0 1,0 3.2,0a1.6,1.6 0 1,0 -3.2,0M158.72,337.9a1.6,1.6 0 1,0 3.2,0a1.6,1.6 0 1,0 -3.2,0M159.09,337.9a1.6,1.6 0 1,0 3.2,0a1.6,1.6 0 1,0 -3.2,0M159.46,337.9a1.6,1.6 0 1,0 3.2,0a1.6,1.6 0 1,0 -3.2,0M159.83,337.9a1.6,1.6 0 1,0 3.2,0a1.6,1.6 0 1,0 -3.2,0M160.2,337.9a1.6,1.6 0 1,0 3.2,0a1.6,1.6 0 1,0 -3.2,0M160.57,337.9a1.6,1.6 0 1,0 3.2,0a1.6,1.6 0 1,0 -3.2,0M160.94,337.9a1.6,1.6 0 1,0 3.2,0a1.6,1.6 0 1,0 -3.2,0M161.31,337.9a1.6,1.6 0 1,0 3.2,0a1.6,1.6 0 1,0 -3.2,0M161.68,337.9a1.6,1.6 0 1,0 3.2,0a1.6,1.6 0 1,0 -3.2,0M162.05,337.9a1.6,1.6 0 1,0 3.2,0a1.6,1.6 0 1,0 -3.2,0M162.42,337.9a1.6,1.6 0 1,0 3.2,0a1.6,1.6 0 1,0 -3.2,0M162.79,337.9a1.6,1.6 0 1,0 3.2,0a1.6,1.6 0 1,0 -3.2,0M163.16,337.9a1.6,1.6 0 1,0 3.2,0a1.6,1.6 0 1,0 -3.2,0M163.53,337.9a1.6,1.6 0 1,0 3.2,0a1.6,1.6 0 1,0 -3.2,0M163.9,337.9a1.6,1.6 0 1,0 3.2,0a1.6,1.6 0 1,0 -3.2,0M164.27,337.9a1.6,1.6 0 1,0 3.2,0a1.6,1.6 0 1,0 -3.2,0M164.64,337.9a1.6,1.6 0 1,0 3.2,0a1.6,1.6 0 1,0 -3.2,0M165.01,337.9a1.6,1.6 0 1,0 3.2,0a1.6,1.6 0 1,0 -3.2,0M165.38,337.9a1.6,1.6 0 1,0 3.2,0a1.6,1.6 0 1,0 -3.2,0M165.75,337.9a1.6,1.6 0 1,0 3.2,0a1.6,1.6 0 1,0 -3.2,0M166.12,337.9a1.6,1.6 0 1,0 3.2,0a1.6,1.6 0 1,0 -3.2,0M166.49,337.9a1.6,1.6 0 1,0 3.2,0a1.6,1.6 0 1,0 -3.2,0M166.86,337.9a1.6,1.6 0 1,0 3.2,0a1.6,1.6 0 1,0 -3.2,0M167.23,337.9a1.6,1.6 0 1,0 3.2,0a1.6,1.6 0 1,0 -3.2,0M167.6,337.9a1.6,1.6 0 1,0 3.2,0a1.6,1.6 0 1,0 -3.2,0M167.97,337.9a1.6,1.6 0 1,0 3.2,0a1.6,1.6 0 1,0 -3.2,0M168.34,337.9a1.6,1.6 0 1,0 3.2,0a1.6,1.6 0 1,0 -3.2,0M168.71,337.9a1.6,1.6 0 1,0 3.2,0a1.6,1.6 0 1,0 -3.2,0M169.08,337.9a1.6,1.6 0 1,0 3.2,0a1.6,1.6 0 1,0 -3.2,0M169.45,337.9a1.6,1.6 0 1,0 3.2,0a1.6,1.6 0 1,0 -3.2,0M169.82,337.9a1.6,1.6 0 1,0 3.2,0a1.6,1.6 0 1,0 -3.2,0M170.19,337.9a1.6,1.6 0 1,0 3.2,0a1.6,1.6 0 1,0 -3.2,0M170.56,337.9a1.6,1.6 0 1,0 3.2,0a1.6,1.6 0 1,0 -3.2,0M170.93,337.9a1.6,1.6 0 1,0 3.2,0a1.6,1.6 0 1,0 -3.2,0M171.3,337.9a1.6,1.6 0 1,0 3.2,0a1.6,1.6 0 1,0 -3.2,0M171.67,337.9a1.6,1.6 0 1,0 3.2,0a1.6,1.6 0 1,0 -3.2,0M172.04,337.9a1.6,1.6 0 1,0 3.2,0a1.6,1.6 0 1,0 -3.2,0M172.41,337.9a1.6,1.6 0 1,0 3.2,0a1.6,1.6 0 1,0 -3.2,0M172.78,337.9a1.6,1.6 0 1,0 3.2,0a1.6,1.6 0 1,0 -3.2,0M173.15,337.9a1.6,1.6 0 1,0 3.2,0a1.6,1.6 0 1,0 -3.2,0M173.52,337.9a1.6,1.6 0 1,0 3.2,0a1.6,1.6 0 1,0 -3.2,0M173.89,337.9a1.6,1.6 0 1,0 3.2,0a1.6,1.6 0 1,0 -3.2,0M174.26,337.9a1.6,1.6 0 1,0 3.2,0a1.6,1.6 0 1,0 -3.2,0M174.63,337.9a1.6,1.6 0 1,0 3.2,0a1.6,1.6 0 1,0 -3.2,0M175,337.9a1.6,1.6 0 1,0 3.2,0a1.6,1.6 0 1,0 -3.2,0M175.37,337.9a1.6,1.6 0 1,0 3.2,0a1.6,1.6 0 1,0 -3.2,0M175.74,337.9a1.6,1.6 0 1,0 3.2,0a1.6,1.6 0 1,0 -3.2,0M176.11,337.9a1.6,1.6 0 1,0 3.2,0a1.6,1.6 0 1,0 -3.2,0M176.48,337.9a1.6,1.6 0 1,0 3.2,0a1.6,1.6 0 1,0 -3.2,0M176.85,337.9a1.6,1.6 0 1,0 3.2,0a1.6,1.6 0 1,0 -3.2,0M177.22,337.9a1.6,1.6 0 1,0 3.2,0a1.6,1.6 0 1,0 -3.2,0M177.59,337.9a1.6,1.6 0 1,0 3.2,0a1.6,1.6 0 1,0 -3.2,0M177.96,337.9a1.6,1.6 0 1,0 3.2,0a1.6,1.6 0 1,0 -3.2,0M178.33,337.9a1.6,1.6 0 1,0 3.2,0a1.6,1.6 0 1,0 -3.2,0M178.7,337.9a1.6,1.6 0 1,0 3.2,0a1.6,1.6 0 1,0 -3.2,0M179.07,337.9a1.6,1.6 0 1,0 3.2,0a1.6,1.6 0 1,0 -3.2,0M179.44,337.9a1.6,1.6 0 1,0 3.2,0a1.6,1.6 0 1,0 -3.2,0M179.81,337.9a1.6,1.6 0 1,0 3.2,0a1.6,1.6 0 1,0 -3.2,0M180.18,337.9a1.6,1.6 0 1,0 3.2,0a1.6,1.6 0 1,0 -3.2,0M180.55,337.9a1.6,1.6 0 1,0 3.2,0a1.6,1.6 0 1,0 -3.2,0M180.92,337.9a1.6,1.6 0 1,0 3.2,0a1.6,1.6 0 1,0 -3.2,0M181.29,337.9a1.6,1.6 0 1,0 3.2,0a1.6,1.6 0 1,0 -3.2,0M181.66,337.9a1.6,1.6 0 1,0 3.2,0a1.6,1.6 0 1,0 -3.2,0M182.03,337.9a1.6,1.6 0 1,0 3.2,0a1.6,1.6 0 1,0 -3.2,0M182.4,337.9a1.6,1.6 0 1,0 3.2,0a1.6,1.6 0 1,0 -3.2,0M182.77,337.9a1.6,1.6 0 1,0 3.2,0a1.6,1.6 0 1,0 -3.2,0M183.14,337.9a1.6,1.6 0 1,0 3.2,0a1.6,1.6 0 1,0 -3.2,0M183.51,337.9a1.6,1.6 0 1,0 3.2,0a1.6,1.6 0 1,0 -3.2,0M183.88,337.9a1.6,1.6 0 1,0 3.2,0a1.6,1.6 0 1,0 -3.2,0M184.25,337.9a1.6,1.6 0 1,0 3.2,0a1.6,1.6 0 1,0 -3.2,0M184.62,337.9a1.6,1.6 0 1,0 3.2,0a1.6,1.6 0 1,0 -3.2,0M184.99,337.9a1.6,1.6 0 1,0 3.2,0a1.6,1.6 0 1,0 -3.2,0M185.36,337.9a1.6,1.6 0 1,0 3.2,0a1.6,1.6 0 1,0 -3.2,0M185.73,337.9a1.6,1.6 0 1,0 3.2,0a1.6,1.6 0 1,0 -3.2,0M186.1,337.9a1.6,1.6 0 1,0 3.2,0a1.6,1.6 0 1,0 -3.2,0M186.47,337.9a1.6,1.6 0 1,0 3.2,0a1.6,1.6 0 1,0 -3.2,0M186.84,337.9a1.6,1.6 0 1,0 3.2,0a1.6,1.6 0 1,0 -3.2,0M187.21,337.9a1.6,1.6 0 1,0 3.2,0a1.6,1.6 0 1,0 -3.2,0M187.58,337.9a1.6,1.6 0 1,0 3.2,0a1.6,1.6 0 1,0 -3.2,0M187.95,337.9a1.6,1.6 0 1,0 3.2,0a1.6,1.6 0 1,0 -3.2,0M188.32,337.9a1.6,1.6 0 1,0 3.2,0a1.6,1.6 0 1,0 -3.2,0M188.69,337.9a1.6,1.6 0 1,0 3.2,0a1.6,1.6 0 1,0 -3.2,0M189.06,337.9a1.6,1.6 0 1,0 3.2,0a1.6,1.6 0 1,0 -3.2,0M189.43,337.9a1.6,1.6 0 1,0 3.2,0a1.6,1.6 0 1,0 -3.2,0M189.8,337.9a1.6,1.6 0 1,0 3.2,0a1.6,1.6 0 1,0 -3.2,0M190.17,337.9a1.6,1.6 0 1,0 3.2,0a1.6,1.6 0 1,0 -3.2,0M190.54,337.9a1.6,1.6 0 1,0 3.2,0a1.6,1.6 0 1,0 -3.2,0M190.91,337.9a1.6,1.6 0 1,0 3.2,0a1.6,1.6 0 1,0 -3.2,0M191.28,337.9a1.6,1.6 0 1,0 3.2,0a1.6,1.6 0 1,0 -3.2,0M191.65,337.9a1.6,1.6 0 1,0 3.2,0a1.6,1.6 0 1,0 -3.2,0M192.02,337.9a1.6,1.6 0 1,0 3.2,0a1.6,1.6 0 1,0 -3.2,0M192.39,337.9a1.6,1.6 0 1,0 3.2,0a1.6,1.6 0 1,0 -3.2,0M192.76,337.9a1.6,1.6 0 1,0 3.2,0a1.6,1.6 0 1,0 -3.2,0M193.13,337.9a1.6,1.6 0 1,0 3.2,0a1.6,1.6 0 1,0 -3.2,0M193.5,337.9a1.6,1.6 0 1,0 3.2,0a1.6,1.6 0 1,0 -3.2,0M193.87,337.9a1.6,1.6 0 1,0 3.2,0a1.6,1.6 0 1,0 -3.2,0M194.24,337.9a1.6,1.6 0 1,0 3.2,0a1.6,1.6 0 1,0 -3.2,0M194.61,337.9a1.6,1.6 0 1,0 3.2,0a1.6,1.6 0 1,0 -3.2,0M194.98,337.9a1.6,1.6 0 1,0 3.2,0a1.6,1.6 0 1,0 -3.2,0M195.35,337.9a1.6,1.6 0 1,0 3.2,0a1.6,1.6 0 1,0 -3.2,0M195.72,337.9a1.6,1.6 0 1,0 3.2,0a1.6,1.6 0 1,0 -3.2,0M196.09,337.9a1.6,1.6 0 1,0 3.2,0a1.6,1.6 0 1,0 -3.2,0M196.46,337.9a1.6,1.6 0 1,0 3.2,0a1.6,1.6 0 1,0 -3.2,0M196.83,337.9a1.6,1.6 0 1,0 3.2,0a1.6,1.6 0 1,0 -3.2,0M197.2,337.9a1.6,1.6 0 1,0 3.2,0a1.6,1.6 0 1,0 -3.2,0M197.57,337.9a1.6,1.6 0 1,0 3.2,0a1.6,1.6 0 1,0 -3.2,0M197.94,337.9a1.6,1.6 0 1,0 3.2,0a1.6,1.6 0 1,0 -3.2,0M198.31,337.9a1.6,1.6 0 1,0 3.2,0a1.6,1.6 0 1,0 -3.2,0M198.68,337.9a1.6,1.6 0 1,0 3.2,0a1.6,1.6 0 1,0 -3.2,0M199.05,337.9a1.6,1.6 0 1,0 3.2,0a1.6,1.6 0 1,0 -3.2,0M199.42,337.9a1.6,1.6 0 1,0 3.2,0a1.6,1.6 0 1,0 -3.2,0M199.79,337.9a1.6,1.6 0 1,0 3.2,0a1.6,1.6 0 1,0 -3.2,0M200.16,337.9a1.6,1.6 0 1,0 3.2,0a1.6,1.6 0 1,0 -3.2,0M200.53,337.9a1.6,1.6 0 1,0 3.2,0a1.6,1.6 0 1,0 -3.2,0M200.9,337.9a1.6,1.6 0 1,0 3.2,0a1.6,1.6 0 1,0 -3.2,0M201.27,337.9a1.6,1.6 0 1,0 3.2,0a1.6,1.6 0 1,0 -3.2,0M201.64,337.9a1.6,1.6 0 1,0 3.2,0a1.6,1.6 0 1,0 -3.2,0M202.01,337.9a1.6,1.6 0 1,0 3.2,0a1.6,1.6 0 1,0 -3.2,0M202.38,337.9a1.6,1.6 0 1,0 3.2,0a1.6,1.6 0 1,0 -3.2,0M202.75,337.9a1.6,1.6 0 1,0 3.2,0a1.6,1.6 0 1,0 -3.2,0M203.12,337.9a1.6,1.6 0 1,0 3.2,0a1.6,1.6 0 1,0 -3.2,0M203.49,337.9a1.6,1.6 0 1,0 3.2,0a1.6,1.6 0 1,0 -3.2,0M203.86,337.9a1.6,1.6 0 1,0 3.2,0a1.6,1.6 0 1,0 -3.2,0M204.23,337.9a1.6,1.6 0 1,0 3.2,0a1.6,1.6 0 1,0 -3.2,0M204.6,337.9a1.6,1.6 0 1,0 3.2,0a1.6,1.6 0 1,0 -3.2,0M204.97,337.9a1.6,1.6 0 1,0 3.2,0a1.6,1.6 0 1,0 -3.2,0M205.34,337.9a1.6,1.6 0 1,0 3.2,0a1.6,1.6 0 1,0 -3.2,0M205.71,337.9a1.6,1.6 0 1,0 3.2,0a1.6,1.6 0 1,0 -3.2,0M206.08,337.9a1.6,1.6 0 1,0 3.2,0a1.6,1.6 0 1,0 -3.2,0M206.45,337.9a1.6,1.6 0 1,0 3.2,0a1.6,1.6 0 1,0 -3.2,0M206.82,337.9a1.6,1.6 0 1,0 3.2,0a1.6,1.6 0 1,0 -3.2,0M207.19,337.9a1.6,1.6 0 1,0 3.2,0a1.6,1.6 0 1,0 -3.2,0M207.56,337.9a1.6,1.6 0 1,0 3.2,0a1.6,1.6 0 1,0 -3.2,0M207.93,337.9a1.6,1.6 0 1,0 3.2,0a1.6,1.6 0 1,0 -3.2,0M208.3,337.9a1.6,1.6 0 1,0 3.2,0a1.6,1.6 0 1,0 -3.2,0M208.67,337.9a1.6,1.6 0 1,0 3.2,0a1.6,1.6 0 1,0 -3.2,0M209.04,337.9a1.6,1.6 0 1,0 3.2,0a1.6,1.6 0 1,0 -3.2,0M209.41,337.9a1.6,1.6 0 1,0 3.2,0a1.6,1.6 0 1,0 -3.2,0M209.78,337.9a1.6,1.6 0 1,0 3.2,0a1.6,1.6 0 1,0 -3.2,0M210.15,337.9a1.6,1.6 0 1,0 3.2,0a1.6,1.6 0 1,0 -3.2,0M210.52,337.9a1.6,1.6 0 1,0 3.2,0a1.6,1.6 0 1,0 -3.2,0M210.89,337.9a1.6,1.6 0 1,0 3.2,0a1.6,1.6 0 1,0 -3.2,0M211.26,337.9a1.6,1.6 0 1,0 3.2,0a1.6,1.6 0 1,0 -3.2,0M211.63,337.9a1.6,1.6 0 1,0 3.2,0a1.6,1.6 0 1,0 -3.2,0M212,337.9a1.6,1.6 0 1,0 3.2,0a1.6,1.6 0 1,0 -3.2,0M212.37,337.9a1.6,1.6 0 1,0 3.2,0a1.6,1.6 0 1,0 -3.2,0M212.74,337.9a1.6,1.6 0 1,0 3.2,0a1.6,1.6 0 1,0 -3.2,0M213.11,337.9a1.6,1.6 0 1,0 3.2,0a1.6,1.6 0 1,0 -3.2,0M213.48,337.9a1.6,1.6 0 1,0 3.2,0a1.6,1.6 0 1,0 -3.2,0M213.85,337.9a1.6,1.6 0 1,0 3.2,0a1.6,1.6 0 1,0 -3.2,0M214.22,337.9a1.6,1.6 0 1,0 3.2,0a1.6,1.6 0 1,0 -3.2,0M214.59,337.9a1.6,1.6 0 1,0 3.2,0a1.6,1.6 0 1,0 -3.2,0M214.96,337.9a1.6,1.6 0 1,0 3.2,0a1.6,1.6 0 1,0 -3.2,0M215.33,337.9a1.6,1.6 0 1,0 3.2,0a1.6,1.6 0 1,0 -3.2,0M215.7,337.9a1.6,1.6 0 1,0 3.2,0a1.6,1.6 0 1,0 -3.2,0M216.07,337.9a1.6,1.6 0 1,0 3.2,0a1.6,1.6 0 1,0 -3.2,0M216.44,337.9a1.6,1.6 0 1,0 3.2,0a1.6,1.6 0 1,0 -3.2,0M216.81,337.9a1.6,1.6 0 1,0 3.2,0a1.6,1.6 0 1,0 -3.2,0M217.18,337.9a1.6,1.6 0 1,0 3.2,0a1.6,1.6 0 1,0 -3.2,0M217.55,337.9a1.6,1.6 0 1,0 3.2,0a1.6,1.6 0 1,0 -3.2,0M217.92,337.9a1.6,1.6 0 1,0 3.2,0a1.6,1.6 0 1,0 -3.2,0M218.29,337.9a1.6,1.6 0 1,0 3.2,0a1.6,1.6 0 1,0 -3.2,0M218.66,337.9a1.6,1.6 0 1,0 3.2,0a1.6,1.6 0 1,0 -3.2,0M219.03,337.9a1.6,1.6 0 1,0 3.2,0a1.6,1.6 0 1,0 -3.2,0M219.4,337.9a1.6,1.6 0 1,0 3.2,0a1.6,1.6 0 1,0 -3.2,0M219.77,337.9a1.6,1.6 0 1,0 3.2,0a1.6,1.6 0 1,0 -3.2,0M220.14,337.9a1.6,1.6 0 1,0 3.2,0a1.6,1.6 0 1,0 -3.2,0M220.51,337.9a1.6,1.6 0 1,0 3.2,0a1.6,1.6 0 1,0 -3.2,0M220.88,337.9a1.6,1.6 0 1,0 3.2,0a1.6,1.6 0 1,0 -3.2,0M221.25,337.9a1.6,1.6 0 1,0 3.2,0a1.6,1.6 0 1,0 -3.2,0M221.62,337.9a1.6,1.6 0 1,0 3.2,0a1.6,1.6 0 1,0 -3.2,0M221.99,337.9a1.6,1.6 0 1,0 3.2,0a1.6,1.6 0 1,0 -3.2,0M222.36,337.9a1.6,1.6 0 1,0 3.2,0a1.6,1.6 0 1,0 -3.2,0M222.73,337.9a1.6,1.6 0 1,0 3.2,0a1.6,1.6 0 1,0 -3.2,0M223.1,337.9a1.6,1.6 0 1,0 3.2,0a1.6,1.6 0 1,0 -3.2,0M223.47,337.9a1.6,1.6 0 1,0 3.2,0a1.6,1.6 0 1,0 -3.2,0M223.84,337.9a1.6,1.6 0 1,0 3.2,0a1.6,1.6 0 1,0 -3.2,0M224.21,337.9a1.6,1.6 0 1,0 3.2,0a1.6,1.6 0 1,0 -3.2,0M224.58,337.9a1.6,1.6 0 1,0 3.2,0a1.6,1.6 0 1,0 -3.2,0M224.95,337.9a1.6,1.6 0 1,0 3.2,0a1.6,1.6 0 1,0 -3.2,0M225.32,337.9a1.6,1.6 0 1,0 3.2,0a1.6,1.6 0 1,0 -3.2,0M225.69,337.9a1.6,1.6 0 1,0 3.2,0a1.6,1.6 0 1,0 -3.2,0M226.06,337.9a1.6,1.6 0 1,0 3.2,0a1.6,1.6 0 1,0 -3.2,0M226.43,337.9a1.6,1.6 0 1,0 3.2,0a1.6,1.6 0 1,0 -3.2,0M226.8,337.9a1.6,1.6 0 1,0 3.2,0a1.6,1.6 0 1,0 -3.2,0M227.17,337.9a1.6,1.6 0 1,0 3.2,0a1.6,1.6 0 1,0 -3.2,0M227.54,337.9a1.6,1.6 0 1,0 3.2,0a1.6,1.6 0 1,0 -3.2,0M227.91,337.9a1.6,1.6 0 1,0 3.2,0a1.6,1.6 0 1,0 -3.2,0M228.28,337.9a1.6,1.6 0 1,0 3.2,0a1.6,1.6 0 1,0 -3.2,0M228.65,337.9a1.6,1.6 0 1,0 3.2,0a1.6,1.6 0 1,0 -3.2,0M229.02,337.9a1.6,1.6 0 1,0 3.2,0a1.6,1.6 0 1,0 -3.2,0M229.39,337.9a1.6,1.6 0 1,0 3.2,0a1.6,1.6 0 1,0 -3.2,0M229.76,337.9a1.6,1.6 0 1,0 3.2,0a1.6,1.6 0 1,0 -3.2,0M230.13,337.9a1.6,1.6 0 1,0 3.2,0a1.6,1.6 0 1,0 -3.2,0M230.5,337.9a1.6,1.6 0 1,0 3.2,0a1.6,1.6 0 1,0 -3.2,0M230.87,337.9a1.6,1.6 0 1,0 3.2,0a1.6,1.6 0 1,0 -3.2,0M231.24,337.9a1.6,1.6 0 1,0 3.2,0a1.6,1.6 0 1,0 -3.2,0M231.61,337.9a1.6,1.6 0 1,0 3.2,0a1.6,1.6 0 1,0 -3.2,0M231.98,337.9a1.6,1.6 0 1,0 3.2,0a1.6,1.6 0 1,0 -3.2,0M232.35,337.9a1.6,1.6 0 1,0 3.2,0a1.6,1.6 0 1,0 -3.2,0M232.72,337.9a1.6,1.6 0 1,0 3.2,0a1.6,1.6 0 1,0 -3.2,0M233.09,337.9a1.6,1.6 0 1,0 3.2,0a1.6,1.6 0 1,0 -3.2,0M233.46,337.9a1.6,1.6 0 1,0 3.2,0a1.6,1.6 0 1,0 -3.2,0M233.83,337.9a1.6,1.6 0 1,0 3.2,0a1.6,1.6 0 1,0 -3.2,0M234.2,337.9a1.6,1.6 0 1,0 3.2,0a1.6,1.6 0 1,0 -3.2,0M234.57,337.9a1.6,1.6 0 1,0 3.2,0a1.6,1.6 0 1,0 -3.2,0M234.94,337.9a1.6,1.6 0 1,0 3.2,0a1.6,1.6 0 1,0 -3.2,0M235.31,337.9a1.6,1.6 0 1,0 3.2,0a1.6,1.6 0 1,0 -3.2,0M235.68,337.9a1.6,1.6 0 1,0 3.2,0a1.6,1.6 0 1,0 -3.2,0M236.05,337.9a1.6,1.6 0 1,0 3.2,0a1.6,1.6 0 1,0 -3.2,0M236.42,337.9a1.6,1.6 0 1,0 3.2,0a1.6,1.6 0 1,0 -3.2,0M236.79,337.9a1.6,1.6 0 1,0 3.2,0a1.6,1.6 0 1,0 -3.2,0M237.16,337.9a1.6,1.6 0 1,0 3.2,0a1.6,1.6 0 1,0 -3.2,0M237.53,337.9a1.6,1.6 0 1,0 3.2,0a1.6,1.6 0 1,0 -3.2,0M237.9,337.9a1.6,1.6 0 1,0 3.2,0a1.6,1.6 0 1,0 -3.2,0M238.27,337.9a1.6,1.6 0 1,0 3.2,0a1.6,1.6 0 1,0 -3.2,0M238.64,337.9a1.6,1.6 0 1,0 3.2,0a1.6,1.6 0 1,0 -3.2,0M239.01,337.9a1.6,1.6 0 1,0 3.2,0a1.6,1.6 0 1,0 -3.2,0M239.38,337.9a1.6,1.6 0 1,0 3.2,0a1.6,1.6 0 1,0 -3.2,0M239.75,337.9a1.6,1.6 0 1,0 3.2,0a1.6,1.6 0 1,0 -3.2,0M240.12,337.9a1.6,1.6 0 1,0 3.2,0a1.6,1.6 0 1,0 -3.2,0M240.49,337.9a1.6,1.6 0 1,0 3.2,0a1.6,1.6 0 1,0 -3.2,0M240.86,337.9a1.6,1.6 0 1,0 3.2,0a1.6,1.6 0 1,0 -3.2,0M241.23,337.9a1.6,1.6 0 1,0 3.2,0a1.6,1.6 0 1,0 -3.2,0M241.6,337.9a1.6,1.6 0 1,0 3.2,0a1.6,1.6 0 1,0 -3.2,0M241.97,337.9a1.6,1.6 0 1,0 3.2,0a1.6,1.6 0 1,0 -3.2,0M242.34,337.9a1.6,1.6 0 1,0 3.2,0a1.6,1.6 0 1,0 -3.2,0M242.71,337.9a1.6,1.6 0 1,0 3.2,0a1.6,1.6 0 1,0 -3.2,0M243.08,337.9a1.6,1.6 0 1,0 3.2,0a1.6,1.6 0 1,0 -3.2,0M243.45,337.9a1.6,1.6 0 1,0 3.2,0a1.6,1.6 0 1,0 -3.2,0M243.82,337.9a1.6,1.6 0 1,0 3.2,0a1.6,1.6 0 1,0 -3.2,0M244.19,337.9a1.6,1.6 0 1,0 3.2,0a1.6,1.6 0 1,0 -3.2,0M244.56,337.9a1.6,1.6 0 1,0 3.2,0a1.6,1.6 0 1,0 -3.2,0M244.93,337.9a1.6,1.6 0 1,0 3.2,0a1.6,1.6 0 1,0 -3.2,0M245.3,337.9a1.6,1.6 0 1,0 3.2,0a1.6,1.6 0 1,0 -3.2,0M245.67,337.9a1.6,1.6 0 1,0 3.2,0a1.6,1.6 0 1,0 -3.2,0M246.04,337.9a1.6,1.6 0 1,0 3.2,0a1.6,1.6 0 1,0 -3.2,0M246.41,337.9a1.6,1.6 0 1,0 3.2,0a1.6,1.6 0 1,0 -3.2,0M246.78,337.9a1.6,1.6 0 1,0 3.2,0a1.6,1.6 0 1,0 -3.2,0M247.15,337.9a1.6,1.6 0 1,0 3.2,0a1.6,1.6 0 1,0 -3.2,0M247.52,337.9a1.6,1.6 0 1,0 3.2,0a1.6,1.6 0 1,0 -3.2,0M247.89,337.9a1.6,1.6 0 1,0 3.2,0a1.6,1.6 0 1,0 -3.2,0M248.26,337.9a1.6,1.6 0 1,0 3.2,0a1.6,1.6 0 1,0 -3.2,0M248.63,337.9a1.6,1.6 0 1,0 3.2,0a1.6,1.6 0 1,0 -3.2,0M249,337.9a1.6,1.6 0 1,0 3.2,0a1.6,1.6 0 1,0 -3.2,0M249.37,337.9a1.6,1.6 0 1,0 3.2,0a1.6,1.6 0 1,0 -3.2,0M249.74,337.9a1.6,1.6 0 1,0 3.2,0a1.6,1.6 0 1,0 -3.2,0M250.11,337.9a1.6,1.6 0 1,0 3.2,0a1.6,1.6 0 1,0 -3.2,0M250.48,337.9a1.6,1.6 0 1,0 3.2,0a1.6,1.6 0 1,0 -3.2,0M250.85,337.9a1.6,1.6 0 1,0 3.2,0a1.6,1.6 0 1,0 -3.2,0M251.22,337.9a1.6,1.6 0 1,0 3.2,0a1.6,1.6 0 1,0 -3.2,0M251.59,337.9a1.6,1.6 0 1,0 3.2,0a1.6,1.6 0 1,0 -3.2,0M251.96,337.9a1.6,1.6 0 1,0 3.2,0a1.6,1.6 0 1,0 -3.2,0M252.33,337.9a1.6,1.6 0 1,0 3.2,0a1.6,1.6 0 1,0 -3.2,0M252.7,337.9a1.6,1.6 0 1,0 3.2,0a1.6,1.6 0 1,0 -3.2,0M253.07,337.9a1.6,1.6 0 1,0 3.2,0a1.6,1.6 0 1,0 -3.2,0M253.44,337.9a1.6,1.6 0 1,0 3.2,0a1.6,1.6 0 1,0 -3.2,0M253.81,337.9a1.6,1.6 0 1,0 3.2,0a1.6,1.6 0 1,0 -3.2,0M254.18,337.9a1.6,1.6 0 1,0 3.2,0a1.6,1.6 0 1,0 -3.2,0M254.55,337.9a1.6,1.6 0 1,0 3.2,0a1.6,1.6 0 1,0 -3.2,0" stroke="#1396ab" stroke-width="1.3" fill="#fff"/>
<path d="M162.55,211.86 L163,211.86 L163.45,211.86 L163.9,211.86 L164.35,211.86 L164.8,211.86 L165.25,211.86 L165.7,211.86 L166.15,211.86 L166.6,211.86 L167.05,211.86 L167.5,211.86 L167.95,211.86 L168.4,211.87 L168.85,211.87 L169.3,211.87 L169.75,211.87 L170.2,211.87 L170.65,211.87 L171.1,211.87 L171.55,211.87 L172,211.88 L172.45,211.88 L172.9,211.88 L173.35,211.89 L173.8,211.9 L174.25,211.9 L174.7,211.92 L175.15,211.93 L175.6,211.95 L176.05,211.97 L176.5,211.99 L176.95,212.02 L177.4,212.07 L177.85,212.12 L178.3,212.18 L178.75,212.26 L179.2,212.36 L179.65,212.48 L180.1,212.64 L180.9,213.02 L181.7,213.58 L182.5,214.4 L183.3,215.62 L184.1,217.38 L184.9,219.93 L185.7,223.53 L186.5,228.52 L187.3,235.22 L188.1,243.84 L188.9,254.35 L189.7,266.35 L190.5,279.08 L191.3,291.56 L192.1,302.89 L192.9,312.48 L193.7,320.12 L194.5,325.93 L195.3,330.19 L196.1,333.22 L196.9,335.35 L197.7,336.81" stroke="#111" stroke-width="1.3" fill="none"/>
<path d="M160.85,211.86a1.7,1.7 0 1,0 3.4,0a1.7,1.7 0 1,0 -3.4,0M161.3,211.86a1.7,1.7 0 1,0 3.4,0a1.7,1.7 0 1,0 -3.4,0M161.75,211.86a1.7,1.7 0 1,0 3.4,0a1.7,1.7 0 1,0 -3.4,0M162.2,211.86a1.7,1.7 0 1,0 3.4,0a1.7,1.7 0 1,0 -3.4,0M162.65,211.86a1.7,1.7 0 1,0 3.4,0a1.7,1.7 0 1,0 -3.4,0M163.1,211.86a1.7,1.7 0 1,0 3.4,0a1.7,1.7 0 1,0 -3.4,0M163.55,211.86a1.7,1.7 0 1,0 3.4,0a1.7,1.7 0 1,0 -3.4,0M164,211.86a1.7,1.7 0 1,0 3.4,0a1.7,1.7 0 1,0 -3.4,0M164.45,211.86a1.7,1.7 0 1,0 3.4,0a1.7,1.7 0 1,0 -3.4,0M164.9,211.86a1.7,1.7 0 1,0 3.4,0a1.7,1.7 0 1,0 -3.4,0M165.35,211.86a1.7,1.7 0 1,0 3.4,0a1.7,1.7 0 1,0 -3.4,0M165.8,211.86a1.7,1.7 0 1,0 3.4,0a1.7,1.7 0 1,0 -3.4,0M166.25,211.86a1.7,1.7 0 1,0 3.4,0a1.7,1.7 0 1,0 -3.4,0M166.7,211.87a1.7,1.7 0 1,0 3.4,0a1.7,1.7 0 1,0 -3.4,0M167.15,211.87a1.7,1.7 0 1,0 3.4,0a1.7,1.7 0 1,0 -3.4,0M167.6,211.87a1.7,1.7 0 1,0 3.4,0a1.7,1.7 0 1,0 -3.4,0M168.05,211.87a1.7,1.7 0 1,0 3.4,0a1.7,1.7 0 1,0 -3.4,0M168.5,211.87a1.7,1.7 0 1,0 3.4,0a1.7,1.7 0 1,0 -3.4,0M168.95,211.87a1.7,1.7 0 1,0 3.4,0a1.7,1.7 0 1,0 -3.4,0M169.4,211.87a1.7,1.7 0 1,0 3.4,0a1.7,1.7 0 1,0 -3.4,0M169.85,211.87a1.7,1.7 0 1,0 3.4,0a1.7,1.7 0 1,0 -3.4,0M170.3,211.88a1.7,1.7 0 1,0 3.4,0a1.7,1.7 0 1,0 -3.4,0M170.75,211.88a1.7,1.7 0 1,0 3.4,0a1.7,1.7 0 1,0 -3.4,0M171.2,211.88a1.7,1.7 0 1,0 3.4,0a1.7,1.7 0 1,0 -3.4,0M171.65,211.89a1.7,1.7 0 1,0 3.4,0a1.7,1.7 0 1,0 -3.4,0M172.1,211.9a1.7,1.7 0 1,0 3.4,0a1.7,1.7 0 1,0 -3.4,0M172.55,211.9a1.7,1.7 0 1,0 3.4,0a1.7,1.7 0 1,0 -3.4,0M173,211.92a1.7,1.7 0 1,0 3.4,0a1.7,1.7 0 1,0 -3.4,0M173.45,211.93a1.7,1.7 0 1,0 3.4,0a1.7,1.7 0 1,0 -3.4,0M173.9,211.95a1.7,1.7 0 1,0 3.4,0a1.7,1.7 0 1,0 -3.4,0M174.35,211.97a1.7,1.7 0 1,0 3.4,0a1.7,1.7 0 1,0 -3.4,0M174.8,211.99a1.7,1.7 0 1,0 3.4,0a1.7,1.7 0 1,0 -3.4,0M175.25,212.02a1.7,1.7 0 1,0 3.4,0a1.7,1.7 0 1,0 -3.4,0M175.7,212.07a1.7,1.7 0 1,0 3.4,0a1.7,1.7 0 1,0 -3.4,0M176.15,212.12a1.7,1.7 0 1,0 3.4,0a1.7,1.7 0 1,0 -3.4,0M176.6,212.18a1.7,1.7 0 1,0 3.4,0a1.7,1.7 0 1,0 -3.4,0M177.05,212.26a1.7,1.7 0 1,0 3.4,0a1.7,1.7 0 1,0 -3.4,0M177.5,212.36a1.7,1.7 0 1,0 3.4,0a1.7,1.7 0 1,0 -3.4,0M177.95,212.48a1.7,1.7 0 1,0 3.4,0a1.7,1.7 0 1,0 -3.4,0M178.4,212.64a1.7,1.7 0 1,0 3.4,0a1.7,1.7 0 1,0 -3.4,0M179.2,213.02a1.7,1.7 0 1,0 3.4,0a1.7,1.7 0 1,0 -3.4,0M180,213.58a1.7,1.7 0 1,0 3.4,0a1.7,1.7 0 1,0 -3.4,0M180.8,214.4a1.7,1.7 0 1,0 3.4,0a1.7,1.7 0 1,0 -3.4,0M181.6,215.62a1.7,1.7 0 1,0 3.4,0a1.7,1.7 0 1,0 -3.4,0M182.4,217.38a1.7,1.7 0 1,0 3.4,0a1.7,1.7 0 1,0 -3.4,0M183.2,219.93a1.7,1.7 0 1,0 3.4,0a1.7,1.7 0 1,0 -3.4,0M184,223.53a1.7,1.7 0 1,0 3.4,0a1.7,1.7 0 1,0 -3.4,0M184.8,228.52a1.7,1.7 0 1,0 3.4,0a1.7,1.7 0 1,0 -3.4,0M185.6,235.22a1.7,1.7 0 1,0 3.4,0a1.7,1.7 0 1,0 -3.4,0M186.4,243.84a1.7,1.7 0 1,0 3.4,0a1.7,1.7 0 1,0 -3.4,0M187.2,254.35a1.7,1.7 0 1,0 3.4,0a1.7,1.7 0 1,0 -3.4,0M188,266.35a1.7,1.7 0 1,0 3.4,0a1.7,1.7 0 1,0 -3.4,0M188.8,279.08a1.7,1.7 0 1,0 3.4,0a1.7,1.7 0 1,0 -3.4,0M189.6,291.56a1.7,1.7 0 1,0 3.4,0a1.7,1.7 0 1,0 -3.4,0M190.4,302.89a1.7,1.7 0 1,0 3.4,0a1.7,1.7 0 1,0 -3.4,0M191.2,312.48a1.7,1.7 0 1,0 3.4,0a1.7,1.7 0 1,0 -3.4,0M192,320.12a1.7,1.7 0 1,0 3.4,0a1.7,1.7 0 1,0 -3.4,0M192.8,325.93a1.7,1.7 0 1,0 3.4,0a1.7,1.7 0 1,0 -3.4,0M193.6,330.19a1.7,1.7 0 1,0 3.4,0a1.7,1.7 0 1,0 -3.4,0M194.4,333.22a1.7,1.7 0 1,0 3.4,0a1.7,1.7 0 1,0 -3.4,0M195.2,335.35a1.7,1.7 0 1,0 3.4,0a1.7,1.7 0 1,0 -3.4,0M196,336.81a1.7,1.7 0 1,0 3.4,0a1.7,1.7 0 1,0 -3.4,0" stroke="#111" stroke-width="1.2" fill="#fff"/>
<path d="M67.33,338.5a1.6,1.6 0 1,0 3.2,0a1.6,1.6 0 1,0 -3.2,0M67.7,338.5a1.6,1.6 0 1,0 3.2,0a1.6,1.6 0 1,0 -3.2,0M68.07,338.5a1.6,1.6 0 1,0 3.2,0a1.6,1.6 0 1,0 -3.2,0M68.44,338.5a1.6,1.6 0 1,0 3.2,0a1.6,1.6 0 1,0 -3.2,0M68.81,338.5a1.6,1.6 0 1,0 3.2,0a1.6,1.6 0 1,0 -3.2,0M69.18,338.5a1.6,1.6 0 1,0 3.2,0a1.6,1.6 0 1,0 -3.2,0M69.55,338.5a1.6,1.6 0 1,0 3.2,0a1.6,1.6 0 1,0 -3.2,0M69.92,338.5a1.6,1.6 0 1,0 3.2,0a1.6,1.6 0 1,0 -3.2,0M70.29,338.5a1.6,1.6 0 1,0 3.2,0a1.6,1.6 0 1,0 -3.2,0M70.66,338.5a1.6,1.6 0 1,0 3.2,0a1.6,1.6 0 1,0 -3.2,0M71.03,338.5a1.6,1.6 0 1,0 3.2,0a1.6,1.6 0 1,0 -3.2,0M71.4,338.5a1.6,1.6 0 1,0 3.2,0a1.6,1.6 0 1,0 -3.2,0M71.77,338.5a1.6,1.6 0 1,0 3.2,0a1.6,1.6 0 1,0 -3.2,0M72.14,338.5a1.6,1.6 0 1,0 3.2,0a1.6,1.6 0 1,0 -3.2,0M72.51,338.5a1.6,1.6 0 1,0 3.2,0a1.6,1.6 0 1,0 -3.2,0M72.88,338.5a1.6,1.6 0 1,0 3.2,0a1.6,1.6 0 1,0 -3.2,0M73.25,338.5a1.6,1.6 0 1,0 3.2,0a1.6,1.6 0 1,0 -3.2,0M73.62,338.5a1.6,1.6 0 1,0 3.2,0a1.6,1.6 0 1,0 -3.2,0M73.99,338.5a1.6,1.6 0 1,0 3.2,0a1.6,1.6 0 1,0 -3.2,0M74.36,338.5a1.6,1.6 0 1,0 3.2,0a1.6,1.6 0 1,0 -3.2,0M74.73,338.5a1.6,1.6 0 1,0 3.2,0a1.6,1.6 0 1,0 -3.2,0M75.1,338.5a1.6,1.6 0 1,0 3.2,0a1.6,1.6 0 1,0 -3.2,0M75.47,338.5a1.6,1.6 0 1,0 3.2,0a1.6,1.6 0 1,0 -3.2,0M75.84,338.5a1.6,1.6 0 1,0 3.2,0a1.6,1.6 0 1,0 -3.2,0M76.21,338.5a1.6,1.6 0 1,0 3.2,0a1.6,1.6 0 1,0 -3.2,0M76.58,338.5a1.6,1.6 0 1,0 3.2,0a1.6,1.6 0 1,0 -3.2,0M76.95,338.5a1.6,1.6 0 1,0 3.2,0a1.6,1.6 0 1,0 -3.2,0M77.32,338.5a1.6,1.6 0 1,0 3.2,0a1.6,1.6 0 1,0 -3.2,0M77.69,338.5a1.6,1.6 0 1,0 3.2,0a1.6,1.6 0 1,0 -3.2,0M78.06,338.5a1.6,1.6 0 1,0 3.2,0a1.6,1.6 0 1,0 -3.2,0M78.43,338.5a1.6,1.6 0 1,0 3.2,0a1.6,1.6 0 1,0 -3.2,0M78.8,338.5a1.6,1.6 0 1,0 3.2,0a1.6,1.6 0 1,0 -3.2,0M79.17,338.5a1.6,1.6 0 1,0 3.2,0a1.6,1.6 0 1,0 -3.2,0M79.54,338.5a1.6,1.6 0 1,0 3.2,0a1.6,1.6 0 1,0 -3.2,0M79.91,338.5a1.6,1.6 0 1,0 3.2,0a1.6,1.6 0 1,0 -3.2,0M80.28,338.5a1.6,1.6 0 1,0 3.2,0a1.6,1.6 0 1,0 -3.2,0M80.65,338.5a1.6,1.6 0 1,0 3.2,0a1.6,1.6 0 1,0 -3.2,0M81.02,338.5a1.6,1.6 0 1,0 3.2,0a1.6,1.6 0 1,0 -3.2,0M81.39,338.5a1.6,1.6 0 1,0 3.2,0a1.6,1.6 0 1,0 -3.2,0M81.76,338.5a1.6,1.6 0 1,0 3.2,0a1.6,1.6 0 1,0 -3.2,0M82.13,338.5a1.6,1.6 0 1,0 3.2,0a1.6,1.6 0 1,0 -3.2,0M82.5,338.5a1.6,1.6 0 1,0 3.2,0a1.6,1.6 0 1,0 -3.2,0M82.87,338.5a1.6,1.6 0 1,0 3.2,0a1.6,1.6 0 1,0 -3.2,0M83.24,338.5a1.6,1.6 0 1,0 3.2,0a1.6,1.6 0 1,0 -3.2,0M83.61,338.5a1.6,1.6 0 1,0 3.2,0a1.6,1.6 0 1,0 -3.2,0M83.98,338.5a1.6,1.6 0 1,0 3.2,0a1.6,1.6 0 1,0 -3.2,0M84.35,338.5a1.6,1.6 0 1,0 3.2,0a1.6,1.6 0 1,0 -3.2,0M84.72,338.5a1.6,1.6 0 1,0 3.2,0a1.6,1.6 0 1,0 -3.2,0M85.09,338.5a1.6,1.6 0 1,0 3.2,0a1.6,1.6 0 1,0 -3.2,0M85.46,338.5a1.6,1.6 0 1,0 3.2,0a1.6,1.6 0 1,0 -3.2,0M85.83,338.5a1.6,1.6 0 1,0 3.2,0a1.6,1.6 0 1,0 -3.2,0M86.2,338.5a1.6,1.6 0 1,0 3.2,0a1.6,1.6 0 1,0 -3.2,0M86.57,338.5a1.6,1.6 0 1,0 3.2,0a1.6,1.6 0 1,0 -3.2,0M86.94,338.5a1.6,1.6 0 1,0 3.2,0a1.6,1.6 0 1,0 -3.2,0M87.31,338.5a1.6,1.6 0 1,0 3.2,0a1.6,1.6 0 1,0 -3.2,0M87.68,338.5a1.6,1.6 0 1,0 3.2,0a1.6,1.6 0 1,0 -3.2,0M88.05,338.5a1.6,1.6 0 1,0 3.2,0a1.6,1.6 0 1,0 -3.2,0M88.42,338.5a1.6,1.6 0 1,0 3.2,0a1.6,1.6 0 1,0 -3.2,0M88.79,338.5a1.6,1.6 0 1,0 3.2,0a1.6,1.6 0 1,0 -3.2,0M89.16,338.5a1.6,1.6 0 1,0 3.2,0a1.6,1.6 0 1,0 -3.2,0M89.53,338.5a1.6,1.6 0 1,0 3.2,0a1.6,1.6 0 1,0 -3.2,0M89.9,338.5a1.6,1.6 0 1,0 3.2,0a1.6,1.6 0 1,0 -3.2,0M90.27,338.5a1.6,1.6 0 1,0 3.2,0a1.6,1.6 0 1,0 -3.2,0M90.64,338.5a1.6,1.6 0 1,0 3.2,0a1.6,1.6 0 1,0 -3.2,0M91.01,338.5a1.6,1.6 0 1,0 3.2,0a1.6,1.6 0 1,0 -3.2,0M91.38,338.5a1.6,1.6 0 1,0 3.2,0a1.6,1.6 0 1,0 -3.2,0M91.75,338.5a1.6,1.6 0 1,0 3.2,0a1.6,1.6 0 1,0 -3.2,0M92.12,338.5a1.6,1.6 0 1,0 3.2,0a1.6,1.6 0 1,0 -3.2,0M92.49,338.5a1.6,1.6 0 1,0 3.2,0a1.6,1.6 0 1,0 -3.2,0M92.86,338.5a1.6,1.6 0 1,0 3.2,0a1.6,1.6 0 1,0 -3.2,0M93.23,338.5a1.6,1.6 0 1,0 3.2,0a1.6,1.6 0 1,0 -3.2,0M93.6,338.5a1.6,1.6 0 1,0 3.2,0a1.6,1.6 0 1,0 -3.2,0M93.97,338.5a1.6,1.6 0 1,0 3.2,0a1.6,1.6 0 1,0 -3.2,0M94.34,338.5a1.6,1.6 0 1,0 3.2,0a1.6,1.6 0 1,0 -3.2,0M94.71,338.5a1.6,1.6 0 1,0 3.2,0a1.6,1.6 0 1,0 -3.2,0M95.08,338.5a1.6,1.6 0 1,0 3.2,0a1.6,1.6 0 1,0 -3.2,0M95.45,338.5a1.6,1.6 0 1,0 3.2,0a1.6,1.6 0 1,0 -3.2,0M95.82,338.5a1.6,1.6 0 1,0 3.2,0a1.6,1.6 0 1,0 -3.2,0M96.19,338.5a1.6,1.6 0 1,0 3.2,0a1.6,1.6 0 1,0 -3.2,0M96.56,338.5a1.6,1.6 0 1,0 3.2,0a1.6,1.6 0 1,0 -3.2,0M96.93,338.5a1.6,1.6 0 1,0 3.2,0a1.6,1.6 0 1,0 -3.2,0M97.3,338.5a1.6,1.6 0 1,0 3.2,0a1.6,1.6 0 1,0 -3.2,0M97.67,338.5a1.6,1.6 0 1,0 3.2,0a1.6,1.6 0 1,0 -3.2,0M98.04,338.5a1.6,1.6 0 1,0 3.2,0a1.6,1.6 0 1,0 -3.2,0M98.41,338.5a1.6,1.6 0 1,0 3.2,0a1.6,1.6 0 1,0 -3.2,0M98.78,338.5a1.6,1.6 0 1,0 3.2,0a1.6,1.6 0 1,0 -3.2,0M99.15,338.5a1.6,1.6 0 1,0 3.2,0a1.6,1.6 0 1,0 -3.2,0M99.52,338.5a1.6,1.6 0 1,0 3.2,0a1.6,1.6 0 1,0 -3.2,0M99.89,338.5a1.6,1.6 0 1,0 3.2,0a1.6,1.6 0 1,0 -3.2,0M100.26,338.5a1.6,1.6 0 1,0 3.2,0a1.6,1.6 0 1,0 -3.2,0M100.63,338.5a1.6,1.6 0 1,0 3.2,0a1.6,1.6 0 1,0 -3.2,0M101,338.5a1.6,1.6 0 1,0 3.2,0a1.6,1.6 0 1,0 -3.2,0M101.37,338.5a1.6,1.6 0 1,0 3.2,0a1.6,1.6 0 1,0 -3.2,0M101.74,338.5a1.6,1.6 0 1,0 3.2,0a1.6,1.6 0 1,0 -3.2,0M102.11,338.5a1.6,1.6 0 1,0 3.2,0a1.6,1.6 0 1,0 -3.2,0M102.48,338.5a1.6,1.6 0 1,0 3.2,0a1.6,1.6 0 1,0 -3.2,0M102.85,338.5a1.6,1.6 0 1,0 3.2,0a1.6,1.6 0 1,0 -3.2,0M103.22,338.5a1.6,1.6 0 1,0 3.2,0a1.6,1.6 0 1,0 -3.2,0M103.59,338.5a1.6,1.6 0 1,0 3.2,0a1.6,1.6 0 1,0 -3.2,0M103.96,338.5a1.6,1.6 0 1,0 3.2,0a1.6,1.6 0 1,0 -3.2,0M104.33,338.5a1.6,1.6 0 1,0 3.2,0a1.6,1.6 0 1,0 -3.2,0M104.7,338.5a1.6,1.6 0 1,0 3.2,0a1.6,1.6 0 1,0 -3.2,0M105.07,338.5a1.6,1.6 0 1,0 3.2,0a1.6,1.6 0 1,0 -3.2,0M105.44,338.5a1.6,1.6 0 1,0 3.2,0a1.6,1.6 0 1,0 -3.2,0M105.81,338.5a1.6,1.6 0 1,0 3.2,0a1.6,1.6 0 1,0 -3.2,0M106.18,338.5a1.6,1.6 0 1,0 3.2,0a1.6,1.6 0 1,0 -3.2,0M106.55,338.5a1.6,1.6 0 1,0 3.2,0a1.6,1.6 0 1,0 -3.2,0M106.92,338.5a1.6,1.6 0 1,0 3.2,0a1.6,1.6 0 1,0 -3.2,0M107.29,338.5a1.6,1.6 0 1,0 3.2,0a1.6,1.6 0 1,0 -3.2,0M107.66,338.5a1.6,1.6 0 1,0 3.2,0a1.6,1.6 0 1,0 -3.2,0M108.03,338.5a1.6,1.6 0 1,0 3.2,0a1.6,1.6 0 1,0 -3.2,0M108.4,338.5a1.6,1.6 0 1,0 3.2,0a1.6,1.6 0 1,0 -3.2,0M108.77,338.5a1.6,1.6 0 1,0 3.2,0a1.6,1.6 0 1,0 -3.2,0M109.14,338.5a1.6,1.6 0 1,0 3.2,0a1.6,1.6 0 1,0 -3.2,0M109.51,338.5a1.6,1.6 0 1,0 3.2,0a1.6,1.6 0 1,0 -3.2,0M109.88,338.5a1.6,1.6 0 1,0 3.2,0a1.6,1.6 0 1,0 -3.2,0M110.25,338.5a1.6,1.6 0 1,0 3.2,0a1.6,1.6 0 1,0 -3.2,0M110.62,338.5a1.6,1.6 0 1,0 3.2,0a1.6,1.6 0 1,0 -3.2,0M110.99,338.5a1.6,1.6 0 1,0 3.2,0a1.6,1.6 0 1,0 -3.2,0M111.36,338.5a1.6,1.6 0 1,0 3.2,0a1.6,1.6 0 1,0 -3.2,0M111.73,338.5a1.6,1.6 0 1,0 3.2,0a1.6,1.6 0 1,0 -3.2,0M112.1,338.5a1.6,1.6 0 1,0 3.2,0a1.6,1.6 0 1,0 -3.2,0M112.47,338.5a1.6,1.6 0 1,0 3.2,0a1.6,1.6 0 1,0 -3.2,0M112.84,338.5a1.6,1.6 0 1,0 3.2,0a1.6,1.6 0 1,0 -3.2,0M113.21,338.5a1.6,1.6 0 1,0 3.2,0a1.6,1.6 0 1,0 -3.2,0M113.58,338.5a1.6,1.6 0 1,0 3.2,0a1.6,1.6 0 1,0 -3.2,0M113.95,338.5a1.6,1.6 0 1,0 3.2,0a1.6,1.6 0 1,0 -3.2,0M114.32,338.5a1.6,1.6 0 1,0 3.2,0a1.6,1.6 0 1,0 -3.2,0M114.69,338.5a1.6,1.6 0 1,0 3.2,0a1.6,1.6 0 1,0 -3.2,0M115.06,338.5a1.6,1.6 0 1,0 3.2,0a1.6,1.6 0 1,0 -3.2,0M115.43,338.5a1.6,1.6 0 1,0 3.2,0a1.6,1.6 0 1,0 -3.2,0M115.8,338.5a1.6,1.6 0 1,0 3.2,0a1.6,1.6 0 1,0 -3.2,0M116.17,338.5a1.6,1.6 0 1,0 3.2,0a1.6,1.6 0 1,0 -3.2,0M116.54,338.5a1.6,1.6 0 1,0 3.2,0a1.6,1.6 0 1,0 -3.2,0M116.91,338.5a1.6,1.6 0 1,0 3.2,0a1.6,1.6 0 1,0 -3.2,0M117.28,338.5a1.6,1.6 0 1,0 3.2,0a1.6,1.6 0 1,0 -3.2,0M117.65,338.5a1.6,1.6 0 1,0 3.2,0a1.6,1.6 0 1,0 -3.2,0M118.02,338.5a1.6,1.6 0 1,0 3.2,0a1.6,1.6 0 1,0 -3.2,0M118.39,338.5a1.6,1.6 0 1,0 3.2,0a1.6,1.6 0 1,0 -3.2,0M118.76,338.5a1.6,1.6 0 1,0 3.2,0a1.6,1.6 0 1,0 -3.2,0M119.13,338.5a1.6,1.6 0 1,0 3.2,0a1.6,1.6 0 1,0 -3.2,0M119.5,338.5a1.6,1.6 0 1,0 3.2,0a1.6,1.6 0 1,0 -3.2,0M119.87,338.5a1.6,1.6 0 1,0 3.2,0a1.6,1.6 0 1,0 -3.2,0M120.24,338.5a1.6,1.6 0 1,0 3.2,0a1.6,1.6 0 1,0 -3.2,0M120.61,338.5a1.6,1.6 0 1,0 3.2,0a1.6,1.6 0 1,0 -3.2,0M120.98,338.5a1.6,1.6 0 1,0 3.2,0a1.6,1.6 0 1,0 -3.2,0M121.35,338.5a1.6,1.6 0 1,0 3.2,0a1.6,1.6 0 1,0 -3.2,0M121.72,338.5a1.6,1.6 0 1,0 3.2,0a1.6,1.6 0 1,0 -3.2,0M122.09,338.5a1.6,1.6 0 1,0 3.2,0a1.6,1.6 0 1,0 -3.2,0M122.46,338.5a1.6,1.6 0 1,0 3.2,0a1.6,1.6 0 1,0 -3.2,0M122.83,338.5a1.6,1.6 0 1,0 3.2,0a1.6,1.6 0 1,0 -3.2,0M123.2,338.5a1.6,1.6 0 1,0 3.2,0a1.6,1.6 0 1,0 -3.2,0M123.57,338.5a1.6,1.6 0 1,0 3.2,0a1.6,1.6 0 1,0 -3.2,0M123.94,338.5a1.6,1.6 0 1,0 3.2,0a1.6,1.6 0 1,0 -3.2,0M124.31,338.5a1.6,1.6 0 1,0 3.2,0a1.6,1.6 0 1,0 -3.2,0M124.68,338.5a1.6,1.6 0 1,0 3.2,0a1.6,1.6 0 1,0 -3.2,0M125.05,338.5a1.6,1.6 0 1,0 3.2,0a1.6,1.6 0 1,0 -3.2,0M125.42,338.5a1.6,1.6 0 1,0 3.2,0a1.6,1.6 0 1,0 -3.2,0M125.79,338.5a1.6,1.6 0 1,0 3.2,0a1.6,1.6 0 1,0 -3.2,0M126.16,338.5a1.6,1.6 0 1,0 3.2,0a1.6,1.6 0 1,0 -3.2,0M126.53,338.5a1.6,1.6 0 1,0 3.2,0a1.6,1.6 0 1,0 -3.2,0M126.9,338.5a1.6,1.6 0 1,0 3.2,0a1.6,1.6 0 1,0 -3.2,0M127.27,338.5a1.6,1.6 0 1,0 3.2,0a1.6,1.6 0 1,0 -3.2,0M127.64,338.5a1.6,1.6 0 1,0 3.2,0a1.6,1.6 0 1,0 -3.2,0M128.01,338.5a1.6,1.6 0 1,0 3.2,0a1.6,1.6 0 1,0 -3.2,0M128.38,338.5a1.6,1.6 0 1,0 3.2,0a1.6,1.6 0 1,0 -3.2,0M128.75,338.5a1.6,1.6 0 1,0 3.2,0a1.6,1.6 0 1,0 -3.2,0M129.12,338.5a1.6,1.6 0 1,0 3.2,0a1.6,1.6 0 1,0 -3.2,0M129.49,338.5a1.6,1.6 0 1,0 3.2,0a1.6,1.6 0 1,0 -3.2,0M129.86,338.5a1.6,1.6 0 1,0 3.2,0a1.6,1.6 0 1,0 -3.2,0M130.23,338.5a1.6,1.6 0 1,0 3.2,0a1.6,1.6 0 1,0 -3.2,0M130.6,338.5a1.6,1.6 0 1,0 3.2,0a1.6,1.6 0 1,0 -3.2,0M130.97,338.5a1.6,1.6 0 1,0 3.2,0a1.6,1.6 0 1,0 -3.2,0M131.34,338.5a1.6,1.6 0 1,0 3.2,0a1.6,1.6 0 1,0 -3.2,0M131.71,338.5a1.6,1.6 0 1,0 3.2,0a1.6,1.6 0 1,0 -3.2,0M132.08,338.5a1.6,1.6 0 1,0 3.2,0a1.6,1.6 0 1,0 -3.2,0M132.45,338.5a1.6,1.6 0 1,0 3.2,0a1.6,1.6 0 1,0 -3.2,0M132.82,338.5a1.6,1.6 0 1,0 3.2,0a1.6,1.6 0 1,0 -3.2,0M133.19,338.5a1.6,1.6 0 1,0 3.2,0a1.6,1.6 0 1,0 -3.2,0M133.56,338.5a1.6,1.6 0 1,0 3.2,0a1.6,1.6 0 1,0 -3.2,0M133.93,338.5a1.6,1.6 0 1,0 3.2,0a1.6,1.6 0 1,0 -3.2,0M134.3,338.5a1.6,1.6 0 1,0 3.2,0a1.6,1.6 0 1,0 -3.2,0M134.67,338.5a1.6,1.6 0 1,0 3.2,0a1.6,1.6 0 1,0 -3.2,0M135.04,338.5a1.6,1.6 0 1,0 3.2,0a1.6,1.6 0 1,0 -3.2,0M135.41,338.5a1.6,1.6 0 1,0 3.2,0a1.6,1.6 0 1,0 -3.2,0M135.78,338.5a1.6,1.6 0 1,0 3.2,0a1.6,1.6 0 1,0 -3.2,0M136.15,338.5a1.6,1.6 0 1,0 3.2,0a1.6,1.6 0 1,0 -3.2,0M136.52,338.5a1.6,1.6 0 1,0 3.2,0a1.6,1.6 0 1,0 -3.2,0M136.89,338.5a1.6,1.6 0 1,0 3.2,0a1.6,1.6 0 1,0 -3.2,0M137.26,338.5a1.6,1.6 0 1,0 3.2,0a1.6,1.6 0 1,0 -3.2,0M137.63,338.5a1.6,1.6 0 1,0 3.2,0a1.6,1.6 0 1,0 -3.2,0M138,338.5a1.6,1.6 0 1,0 3.2,0a1.6,1.6 0 1,0 -3.2,0M138.37,338.5a1.6,1.6 0 1,0 3.2,0a1.6,1.6 0 1,0 -3.2,0M138.74,338.5a1.6,1.6 0 1,0 3.2,0a1.6,1.6 0 1,0 -3.2,0M139.11,338.5a1.6,1.6 0 1,0 3.2,0a1.6,1.6 0 1,0 -3.2,0M139.48,338.5a1.6,1.6 0 1,0 3.2,0a1.6,1.6 0 1,0 -3.2,0M139.85,338.5a1.6,1.6 0 1,0 3.2,0a1.6,1.6 0 1,0 -3.2,0M140.22,338.5a1.6,1.6 0 1,0 3.2,0a1.6,1.6 0 1,0 -3.2,0M140.59,338.5a1.6,1.6 0 1,0 3.2,0a1.6,1.6 0 1,0 -3.2,0M140.96,338.5a1.6,1.6 0 1,0 3.2,0a1.6,1.6 0 1,0 -3.2,0M141.33,338.5a1.6,1.6 0 1,0 3.2,0a1.6,1.6 0 1,0 -3.2,0M141.7,338.5a1.6,1.6 0 1,0 3.2,0a1.6,1.6 0 1,0 -3.2,0M142.07,338.5a1.6,1.6 0 1,0 3.2,0a1.6,1.6 0 1,0 -3.2,0M142.44,338.5a1.6,1.6 0 1,0 3.2,0a1.6,1.6 0 1,0 -3.2,0M142.81,338.5a1.6,1.6 0 1,0 3.2,0a1.6,1.6 0 1,0 -3.2,0M143.18,338.5a1.6,1.6 0 1,0 3.2,0a1.6,1.6 0 1,0 -3.2,0M143.55,338.5a1.6,1.6 0 1,0 3.2,0a1.6,1.6 0 1,0 -3.2,0M143.92,338.5a1.6,1.6 0 1,0 3.2,0a1.6,1.6 0 1,0 -3.2,0M144.29,338.5a1.6,1.6 0 1,0 3.2,0a1.6,1.6 0 1,0 -3.2,0M144.66,338.5a1.6,1.6 0 1,0 3.2,0a1.6,1.6 0 1,0 -3.2,0M145.03,338.5a1.6,1.6 0 1,0 3.2,0a1.6,1.6 0 1,0 -3.2,0M145.4,338.5a1.6,1.6 0 1,0 3.2,0a1.6,1.6 0 1,0 -3.2,0M145.77,338.5a1.6,1.6 0 1,0 3.2,0a1.6,1.6 0 1,0 -3.2,0M146.14,338.5a1.6,1.6 0 1,0 3.2,0a1.6,1.6 0 1,0 -3.2,0M146.51,338.5a1.6,1.6 0 1,0 3.2,0a1.6,1.6 0 1,0 -3.2,0M146.88,338.5a1.6,1.6 0 1,0 3.2,0a1.6,1.6 0 1,0 -3.2,0M147.25,338.5a1.6,1.6 0 1,0 3.2,0a1.6,1.6 0 1,0 -3.2,0M147.62,338.5a1.6,1.6 0 1,0 3.2,0a1.6,1.6 0 1,0 -3.2,0M147.99,338.5a1.6,1.6 0 1,0 3.2,0a1.6,1.6 0 1,0 -3.2,0M148.36,338.5a1.6,1.6 0 1,0 3.2,0a1.6,1.6 0 1,0 -3.2,0M148.73,338.5a1.6,1.6 0 1,0 3.2,0a1.6,1.6 0 1,0 -3.2,0M149.1,338.5a1.6,1.6 0 1,0 3.2,0a1.6,1.6 0 1,0 -3.2,0M149.47,338.5a1.6,1.6 0 1,0 3.2,0a1.6,1.6 0 1,0 -3.2,0M149.84,338.5a1.6,1.6 0 1,0 3.2,0a1.6,1.6 0 1,0 -3.2,0M150.21,338.5a1.6,1.6 0 1,0 3.2,0a1.6,1.6 0 1,0 -3.2,0M150.58,338.5a1.6,1.6 0 1,0 3.2,0a1.6,1.6 0 1,0 -3.2,0M150.95,338.5a1.6,1.6 0 1,0 3.2,0a1.6,1.6 0 1,0 -3.2,0M151.32,338.5a1.6,1.6 0 1,0 3.2,0a1.6,1.6 0 1,0 -3.2,0M151.69,338.5a1.6,1.6 0 1,0 3.2,0a1.6,1.6 0 1,0 -3.2,0M152.06,338.5a1.6,1.6 0 1,0 3.2,0a1.6,1.6 0 1,0 -3.2,0M152.43,338.5a1.6,1.6 0 1,0 3.2,0a1.6,1.6 0 1,0 -3.2,0M152.8,338.5a1.6,1.6 0 1,0 3.2,0a1.6,1.6 0 1,0 -3.2,0M153.17,338.5a1.6,1.6 0 1,0 3.2,0a1.6,1.6 0 1,0 -3.2,0M153.54,338.5a1.6,1.6 0 1,0 3.2,0a1.6,1.6 0 1,0 -3.2,0M153.91,338.5a1.6,1.6 0 1,0 3.2,0a1.6,1.6 0 1,0 -3.2,0M154.28,338.5a1.6,1.6 0 1,0 3.2,0a1.6,1.6 0 1,0 -3.2,0M154.65,338.5a1.6,1.6 0 1,0 3.2,0a1.6,1.6 0 1,0 -3.2,0M155.02,338.5a1.6,1.6 0 1,0 3.2,0a1.6,1.6 0 1,0 -3.2,0M155.39,338.5a1.6,1.6 0 1,0 3.2,0a1.6,1.6 0 1,0 -3.2,0M155.76,338.5a1.6,1.6 0 1,0 3.2,0a1.6,1.6 0 1,0 -3.2,0M156.13,338.5a1.6,1.6 0 1,0 3.2,0a1.6,1.6 0 1,0 -3.2,0M156.5,338.5a1.6,1.6 0 1,0 3.2,0a1.6,1.6 0 1,0 -3.2,0M156.87,338.5a1.6,1.6 0 1,0 3.2,0a1.6,1.6 0 1,0 -3.2,0M157.24,338.5a1.6,1.6 0 1,0 3.2,0a1.6,1.6 0 1,0 -3.2,0M157.61,338.5a1.6,1.6 0 1,0 3.2,0a1.6,1.6 0 1,0 -3.2,0M157.98,338.5a1.6,1.6 0 1,0 3.2,0a1.6,1.6 0 1,0 -3.2,0M158.35,338.5a1.6,1.6 0 1,0 3.2,0a1.6,1.6 0 1,0 -3.2,0M158.72,338.5a1.6,1.6 0 1,0 3.2,0a1.6,1.6 0 1,0 -3.2,0M159.09,338.5a1.6,1.6 0 1,0 3.2,0a1.6,1.6 0 1,0 -3.2,0M159.46,338.5a1.6,1.6 0 1,0 3.2,0a1.6,1.6 0 1,0 -3.2,0M159.83,338.5a1.6,1.6 0 1,0 3.2,0a1.6,1.6 0 1,0 -3.2,0M160.2,338.5a1.6,1.6 0 1,0 3.2,0a1.6,1.6 0 1,0 -3.2,0M160.57,338.5a1.6,1.6 0 1,0 3.2,0a1.6,1.6 0 1,0 -3.2,0M160.94,338.5a1.6,1.6 0 1,0 3.2,0a1.6,1.6 0 1,0 -3.2,0M161.31,338.5a1.6,1.6 0 1,0 3.2,0a1.6,1.6 0 1,0 -3.2,0M161.68,338.5a1.6,1.6 0 1,0 3.2,0a1.6,1.6 0 1,0 -3.2,0M162.05,338.5a1.6,1.6 0 1,0 3.2,0a1.6,1.6 0 1,0 -3.2,0M162.42,338.5a1.6,1.6 0 1,0 3.2,0a1.6,1.6 0 1,0 -3.2,0M162.79,338.5a1.6,1.6 0 1,0 3.2,0a1.6,1.6 0 1,0 -3.2,0M163.16,338.5a1.6,1.6 0 1,0 3.2,0a1.6,1.6 0 1,0 -3.2,0M163.53,338.5a1.6,1.6 0 1,0 3.2,0a1.6,1.6 0 1,0 -3.2,0M163.9,338.5a1.6,1.6 0 1,0 3.2,0a1.6,1.6 0 1,0 -3.2,0M164.27,338.5a1.6,1.6 0 1,0 3.2,0a1.6,1.6 0 1,0 -3.2,0M164.64,338.5a1.6,1.6 0 1,0 3.2,0a1.6,1.6 0 1,0 -3.2,0M165.01,338.5a1.6,1.6 0 1,0 3.2,0a1.6,1.6 0 1,0 -3.2,0M165.38,338.5a1.6,1.6 0 1,0 3.2,0a1.6,1.6 0 1,0 -3.2,0M165.75,338.5a1.6,1.6 0 1,0 3.2,0a1.6,1.6 0 1,0 -3.2,0M166.12,338.5a1.6,1.6 0 1,0 3.2,0a1.6,1.6 0 1,0 -3.2,0M166.49,338.5a1.6,1.6 0 1,0 3.2,0a1.6,1.6 0 1,0 -3.2,0M166.86,338.5a1.6,1.6 0 1,0 3.2,0a1.6,1.6 0 1,0 -3.2,0M167.23,338.5a1.6,1.6 0 1,0 3.2,0a1.6,1.6 0 1,0 -3.2,0M167.6,338.5a1.6,1.6 0 1,0 3.2,0a1.6,1.6 0 1,0 -3.2,0M167.97,338.5a1.6,1.6 0 1,0 3.2,0a1.6,1.6 0 1,0 -3.2,0M168.34,338.5a1.6,1.6 0 1,0 3.2,0a1.6,1.6 0 1,0 -3.2,0M168.71,338.5a1.6,1.6 0 1,0 3.2,0a1.6,1.6 0 1,0 -3.2,0M169.08,338.5a1.6,1.6 0 1,0 3.2,0a1.6,1.6 0 1,0 -3.2,0M169.45,338.49a1.6,1.6 0 1,0 3.2,0a1.6,1.6 0 1,0 -3.2,0M169.82,338.49a1.6,1.6 0 1,0 3.2,0a1.6,1.6 0 1,0 -3.2,0M170.19,338.49a1.6,1.6 0 1,0 3.2,0a1.6,1.6 0 1,0 -3.2,0M170.56,338.48a1.6,1.6 0 1,0 3.2,0a1.6,1.6 0 1,0 -3.2,0M170.93,338.47a1.6,1.6 0 1,0 3.2,0a1.6,1.6 0 1,0 -3.2,0M171.3,338.46a1.6,1.6 0 1,0 3.2,0a1.6,1.6 0 1,0 -3.2,0M171.67,338.45a1.6,1.6 0 1,0 3.2,0a1.6,1.6 0 1,0 -3.2,0M172.04,338.43a1.6,1.6 0 1,0 3.2,0a1.6,1.6 0 1,0 -3.2,0M172.41,338.4a1.6,1.6 0 1,0 3.2,0a1.6,1.6 0 1,0 -3.2,0M172.78,338.37a1.6,1.6 0 1,0 3.2,0a1.6,1.6 0 1,0 -3.2,0M173.15,338.32a1.6,1.6 0 1,0 3.2,0a1.6,1.6 0 1,0 -3.2,0M173.52,338.26a1.6,1.6 0 1,0 3.2,0a1.6,1.6 0 1,0 -3.2,0M173.89,338.18a1.6,1.6 0 1,0 3.2,0a1.6,1.6 0 1,0 -3.2,0M174.26,338.07a1.6,1.6 0 1,0 3.2,0a1.6,1.6 0 1,0 -3.2,0M174.63,337.94a1.6,1.6 0 1,0 3.2,0a1.6,1.6 0 1,0 -3.2,0M175,337.77a1.6,1.6 0 1,0 3.2,0a1.6,1.6 0 1,0 -3.2,0M175.37,337.55a1.6,1.6 0 1,0 3.2,0a1.6,1.6 0 1,0 -3.2,0M175.74,337.29a1.6,1.6 0 1,0 3.2,0a1.6,1.6 0 1,0 -3.2,0M176.11,336.95a1.6,1.6 0 1,0 3.2,0a1.6,1.6 0 1,0 -3.2,0M176.48,336.54a1.6,1.6 0 1,0 3.2,0a1.6,1.6 0 1,0 -3.2,0M176.85,336.04a1.6,1.6 0 1,0 3.2,0a1.6,1.6 0 1,0 -3.2,0M177.22,335.44a1.6,1.6 0 1,0 3.2,0a1.6,1.6 0 1,0 -3.2,0M177.59,334.72a1.6,1.6 0 1,0 3.2,0a1.6,1.6 0 1,0 -3.2,0M177.96,333.86a1.6,1.6 0 1,0 3.2,0a1.6,1.6 0 1,0 -3.2,0M178.33,332.85a1.6,1.6 0 1,0 3.2,0a1.6,1.6 0 1,0 -3.2,0M178.7,331.68a1.6,1.6 0 1,0 3.2,0a1.6,1.6 0 1,0 -3.2,0M179.07,330.33a1.6,1.6 0 1,0 3.2,0a1.6,1.6 0 1,0 -3.2,0M179.44,328.78a1.6,1.6 0 1,0 3.2,0a1.6,1.6 0 1,0 -3.2,0M179.81,327.04a1.6,1.6 0 1,0 3.2,0a1.6,1.6 0 1,0 -3.2,0M180.18,325.08a1.6,1.6 0 1,0 3.2,0a1.6,1.6 0 1,0 -3.2,0M180.55,322.91a1.6,1.6 0 1,0 3.2,0a1.6,1.6 0 1,0 -3.2,0M180.92,320.53a1.6,1.6 0 1,0 3.2,0a1.6,1.6 0 1,0 -3.2,0M181.29,317.95a1.6,1.6 0 1,0 3.2,0a1.6,1.6 0 1,0 -3.2,0M181.66,315.18a1.6,1.6 0 1,0 3.2,0a1.6,1.6 0 1,0 -3.2,0M182.03,312.24a1.6,1.6 0 1,0 3.2,0a1.6,1.6 0 1,0 -3.2,0M182.4,309.16a1.6,1.6 0 1,0 3.2,0a1.6,1.6 0 1,0 -3.2,0M182.77,305.97a1.6,1.6 0 1,0 3.2,0a1.6,1.6 0 1,0 -3.2,0M183.14,302.72a1.6,1.6 0 1,0 3.2,0a1.6,1.6 0 1,0 -3.2,0M183.51,299.44a1.6,1.6 0 1,0 3.2,0a1.6,1.6 0 1,0 -3.2,0M183.88,296.19a1.6,1.6 0 1,0 3.2,0a1.6,1.6 0 1,0 -3.2,0M184.25,293.02a1.6,1.6 0 1,0 3.2,0a1.6,1.6 0 1,0 -3.2,0M184.62,290a1.6,1.6 0 1,0 3.2,0a1.6,1.6 0 1,0 -3.2,0M184.99,287.17a1.6,1.6 0 1,0 3.2,0a1.6,1.6 0 1,0 -3.2,0M185.36,284.6a1.6,1.6 0 1,0 3.2,0a1.6,1.6 0 1,0 -3.2,0M185.73,282.34a1.6,1.6 0 1,0 3.2,0a1.6,1.6 0 1,0 -3.2,0M186.1,280.43a1.6,1.6 0 1,0 3.2,0a1.6,1.6 0 1,0 -3.2,0M186.47,278.93a1.6,1.6 0 1,0 3.2,0a1.6,1.6 0 1,0 -3.2,0M186.84,277.86a1.6,1.6 0 1,0 3.2,0a1.6,1.6 0 1,0 -3.2,0M187.21,277.24a1.6,1.6 0 1,0 3.2,0a1.6,1.6 0 1,0 -3.2,0M187.58,277.1a1.6,1.6 0 1,0 3.2,0a1.6,1.6 0 1,0 -3.2,0M187.95,277.44a1.6,1.6 0 1,0 3.2,0a1.6,1.6 0 1,0 -3.2,0M188.32,278.24a1.6,1.6 0 1,0 3.2,0a1.6,1.6 0 1,0 -3.2,0M188.69,279.49a1.6,1.6 0 1,0 3.2,0a1.6,1.6 0 1,0 -3.2,0M189.06,281.16a1.6,1.6 0 1,0 3.2,0a1.6,1.6 0 1,0 -3.2,0M189.43,283.22a1.6,1.6 0 1,0 3.2,0a1.6,1.6 0 1,0 -3.2,0M189.8,285.61a1.6,1.6 0 1,0 3.2,0a1.6,1.6 0 1,0 -3.2,0M190.17,288.29a1.6,1.6 0 1,0 3.2,0a1.6,1.6 0 1,0 -3.2,0M190.54,291.2a1.6,1.6 0 1,0 3.2,0a1.6,1.6 0 1,0 -3.2,0M190.91,294.29a1.6,1.6 0 1,0 3.2,0a1.6,1.6 0 1,0 -3.2,0M191.28,297.5a1.6,1.6 0 1,0 3.2,0a1.6,1.6 0 1,0 -3.2,0M191.65,300.77a1.6,1.6 0 1,0 3.2,0a1.6,1.6 0 1,0 -3.2,0M192.02,304.04a1.6,1.6 0 1,0 3.2,0a1.6,1.6 0 1,0 -3.2,0M192.39,307.28a1.6,1.6 0 1,0 3.2,0a1.6,1.6 0 1,0 -3.2,0M192.76,310.43a1.6,1.6 0 1,0 3.2,0a1.6,1.6 0 1,0 -3.2,0M193.13,313.45a1.6,1.6 0 1,0 3.2,0a1.6,1.6 0 1,0 -3.2,0M193.5,316.33a1.6,1.6 0 1,0 3.2,0a1.6,1.6 0 1,0 -3.2,0M193.87,319.02a1.6,1.6 0 1,0 3.2,0a1.6,1.6 0 1,0 -3.2,0M194.24,321.52a1.6,1.6 0 1,0 3.2,0a1.6,1.6 0 1,0 -3.2,0M194.61,323.82a1.6,1.6 0 1,0 3.2,0a1.6,1.6 0 1,0 -3.2,0M194.98,325.9a1.6,1.6 0 1,0 3.2,0a1.6,1.6 0 1,0 -3.2,0M195.35,327.77a1.6,1.6 0 1,0 3.2,0a1.6,1.6 0 1,0 -3.2,0M195.72,329.43a1.6,1.6 0 1,0 3.2,0a1.6,1.6 0 1,0 -3.2,0M196.09,330.9a1.6,1.6 0 1,0 3.2,0a1.6,1.6 0 1,0 -3.2,0M196.46,332.18a1.6,1.6 0 1,0 3.2,0a1.6,1.6 0 1,0 -3.2,0M196.83,333.28a1.6,1.6 0 1,0 3.2,0a1.6,1.6 0 1,0 -3.2,0M197.2,334.22a1.6,1.6 0 1,0 3.2,0a1.6,1.6 0 1,0 -3.2,0M197.57,335.02a1.6,1.6 0 1,0 3.2,0a1.6,1.6 0 1,0 -3.2,0M197.94,335.7a1.6,1.6 0 1,0 3.2,0a1.6,1.6 0 1,0 -3.2,0M198.31,336.26a1.6,1.6 0 1,0 3.2,0a1.6,1.6 0 1,0 -3.2,0M198.68,336.72a1.6,1.6 0 1,0 3.2,0a1.6,1.6 0 1,0 -3.2,0M199.05,337.1a1.6,1.6 0 1,0 3.2,0a1.6,1.6 0 1,0 -3.2,0M199.42,337.4a1.6,1.6 0 1,0 3.2,0a1.6,1.6 0 1,0 -3.2,0M199.79,337.65a1.6,1.6 0 1,0 3.2,0a1.6,1.6 0 1,0 -3.2,0M200.16,337.84a1.6,1.6 0 1,0 3.2,0a1.6,1.6 0 1,0 -3.2,0M200.53,338a1.6,1.6 0 1,0 3.2,0a1.6,1.6 0 1,0 -3.2,0M200.9,338.12a1.6,1.6 0 1,0 3.2,0a1.6,1.6 0 1,0 -3.2,0M201.27,338.21a1.6,1.6 0 1,0 3.2,0a1.6,1.6 0 1,0 -3.2,0M201.64,338.29a1.6,1.6 0 1,0 3.2,0a1.6,1.6 0 1,0 -3.2,0M202.01,338.34a1.6,1.6 0 1,0 3.2,0a1.6,1.6 0 1,0 -3.2,0M202.38,338.38a1.6,1.6 0 1,0 3.2,0a1.6,1.6 0 1,0 -3.2,0M202.75,338.42a1.6,1.6 0 1,0 3.2,0a1.6,1.6 0 1,0 -3.2,0M203.12,338.44a1.6,1.6 0 1,0 3.2,0a1.6,1.6 0 1,0 -3.2,0M203.49,338.46a1.6,1.6 0 1,0 3.2,0a1.6,1.6 0 1,0 -3.2,0M203.86,338.47a1.6,1.6 0 1,0 3.2,0a1.6,1.6 0 1,0 -3.2,0M204.23,338.48a1.6,1.6 0 1,0 3.2,0a1.6,1.6 0 1,0 -3.2,0M204.6,338.48a1.6,1.6 0 1,0 3.2,0a1.6,1.6 0 1,0 -3.2,0M204.97,338.49a1.6,1.6 0 1,0 3.2,0a1.6,1.6 0 1,0 -3.2,0M205.34,338.49a1.6,1.6 0 1,0 3.2,0a1.6,1.6 0 1,0 -3.2,0M205.71,338.49a1.6,1.6 0 1,0 3.2,0a1.6,1.6 0 1,0 -3.2,0M206.08,338.5a1.6,1.6 0 1,0 3.2,0a1.6,1.6 0 1,0 -3.2,0M206.45,338.5a1.6,1.6 0 1,0 3.2,0a1.6,1.6 0 1,0 -3.2,0M206.82,338.5a1.6,1.6 0 1,0 3.2,0a1.6,1.6 0 1,0 -3.2,0M207.19,338.5a1.6,1.6 0 1,0 3.2,0a1.6,1.6 0 1,0 -3.2,0M207.56,338.5a1.6,1.6 0 1,0 3.2,0a1.6,1.6 0 1,0 -3.2,0M207.93,338.5a1.6,1.6 0 1,0 3.2,0a1.6,1.6 0 1,0 -3.2,0M208.3,338.5a1.6,1.6 0 1,0 3.2,0a1.6,1.6 0 1,0 -3.2,0M208.67,338.5a1.6,1.6 0 1,0 3.2,0a1.6,1.6 0 1,0 -3.2,0M209.04,338.5a1.6,1.6 0 1,0 3.2,0a1.6,1.6 0 1,0 -3.2,0M209.41,338.5a1.6,1.6 0 1,0 3.2,0a1.6,1.6 0 1,0 -3.2,0M209.78,338.5a1.6,1.6 0 1,0 3.2,0a1.6,1.6 0 1,0 -3.2,0M210.15,338.5a1.6,1.6 0 1,0 3.2,0a1.6,1.6 0 1,0 -3.2,0M210.52,338.5a1.6,1.6 0 1,0 3.2,0a1.6,1.6 0 1,0 -3.2,0M210.89,338.5a1.6,1.6 0 1,0 3.2,0a1.6,1.6 0 1,0 -3.2,0M211.26,338.5a1.6,1.6 0 1,0 3.2,0a1.6,1.6 0 1,0 -3.2,0M211.63,338.5a1.6,1.6 0 1,0 3.2,0a1.6,1.6 0 1,0 -3.2,0M212,338.5a1.6,1.6 0 1,0 3.2,0a1.6,1.6 0 1,0 -3.2,0M212.37,338.5a1.6,1.6 0 1,0 3.2,0a1.6,1.6 0 1,0 -3.2,0M212.74,338.5a1.6,1.6 0 1,0 3.2,0a1.6,1.6 0 1,0 -3.2,0M213.11,338.5a1.6,1.6 0 1,0 3.2,0a1.6,1.6 0 1,0 -3.2,0M213.48,338.5a1.6,1.6 0 1,0 3.2,0a1.6,1.6 0 1,0 -3.2,0M213.85,338.5a1.6,1.6 0 1,0 3.2,0a1.6,1.6 0 1,0 -3.2,0M214.22,338.5a1.6,1.6 0 1,0 3.2,0a1.6,1.6 0 1,0 -3.2,0M214.59,338.5a1.6,1.6 0 1,0 3.2,0a1.6,1.6 0 1,0 -3.2,0M214.96,338.5a1.6,1.6 0 1,0 3.2,0a1.6,1.6 0 1,0 -3.2,0M215.33,338.5a1.6,1.6 0 1,0 3.2,0a1.6,1.6 0 1,0 -3.2,0M215.7,338.5a1.6,1.6 0 1,0 3.2,0a1.6,1.6 0 1,0 -3.2,0M216.07,338.5a1.6,1.6 0 1,0 3.2,0a1.6,1.6 0 1,0 -3.2,0M216.44,338.5a1.6,1.6 0 1,0 3.2,0a1.6,1.6 0 1,0 -3.2,0M216.81,338.5a1.6,1.6 0 1,0 3.2,0a1.6,1.6 0 1,0 -3.2,0M217.18,338.5a1.6,1.6 0 1,0 3.2,0a1.6,1.6 0 1,0 -3.2,0M217.55,338.5a1.6,1.6 0 1,0 3.2,0a1.6,1.6 0 1,0 -3.2,0M217.92,338.5a1.6,1.6 0 1,0 3.2,0a1.6,1.6 0 1,0 -3.2,0M218.29,338.5a1.6,1.6 0 1,0 3.2,0a1.6,1.6 0 1,0 -3.2,0M218.66,338.5a1.6,1.6 0 1,0 3.2,0a1.6,1.6 0 1,0 -3.2,0M219.03,338.5a1.6,1.6 0 1,0 3.2,0a1.6,1.6 0 1,0 -3.2,0M219.4,338.5a1.6,1.6 0 1,0 3.2,0a1.6,1.6 0 1,0 -3.2,0M219.77,338.5a1.6,1.6 0 1,0 3.2,0a1.6,1.6 0 1,0 -3.2,0M220.14,338.5a1.6,1.6 0 1,0 3.2,0a1.6,1.6 0 1,0 -3.2,0M220.51,338.5a1.6,1.6 0 1,0 3.2,0a1.6,1.6 0 1,0 -3.2,0M220.88,338.5a1.6,1.6 0 1,0 3.2,0a1.6,1.6 0 1,0 -3.2,0M221.25,338.5a1.6,1.6 0 1,0 3.2,0a1.6,1.6 0 1,0 -3.2,0M221.62,338.5a1.6,1.6 0 1,0 3.2,0a1.6,1.6 0 1,0 -3.2,0M221.99,338.5a1.6,1.6 0 1,0 3.2,0a1.6,1.6 0 1,0 -3.2,0M222.36,338.5a1.6,1.6 0 1,0 3.2,0a1.6,1.6 0 1,0 -3.2,0M222.73,338.5a1.6,1.6 0 1,0 3.2,0a1.6,1.6 0 1,0 -3.2,0M223.1,338.5a1.6,1.6 0 1,0 3.2,0a1.6,1.6 0 1,0 -3.2,0M223.47,338.5a1.6,1.6 0 1,0 3.2,0a1.6,1.6 0 1,0 -3.2,0M223.84,338.5a1.6,1.6 0 1,0 3.2,0a1.6,1.6 0 1,0 -3.2,0M224.21,338.5a1.6,1.6 0 1,0 3.2,0a1.6,1.6 0 1,0 -3.2,0M224.58,338.5a1.6,1.6 0 1,0 3.2,0a1.6,1.6 0 1,0 -3.2,0M224.95,338.5a1.6,1.6 0 1,0 3.2,0a1.6,1.6 0 1,0 -3.2,0M225.32,338.5a1.6,1.6 0 1,0 3.2,0a1.6,1.6 0 1,0 -3.2,0M225.69,338.5a1.6,1.6 0 1,0 3.2,0a1.6,1.6 0 1,0 -3.2,0M226.06,338.5a1.6,1.6 0 1,0 3.2,0a1.6,1.6 0 1,0 -3.2,0M226.43,338.5a1.6,1.6 0 1,0 3.2,0a1.6,1.6 0 1,0 -3.2,0M226.8,338.5a1.6,1.6 0 1,0 3.2,0a1.6,1.6 0 1,0 -3.2,0M227.17,338.5a1.6,1.6 0 1,0 3.2,0a1.6,1.6 0 1,0 -3.2,0M227.54,338.5a1.6,1.6 0 1,0 3.2,0a1.6,1.6 0 1,0 -3.2,0M227.91,338.5a1.6,1.6 0 1,0 3.2,0a1.6,1.6 0 1,0 -3.2,0M228.28,338.5a1.6,1.6 0 1,0 3.2,0a1.6,1.6 0 1,0 -3.2,0M228.65,338.5a1.6,1.6 0 1,0 3.2,0a1.6,1.6 0 1,0 -3.2,0M229.02,338.5a1.6,1.6 0 1,0 3.2,0a1.6,1.6 0 1,0 -3.2,0M229.39,338.5a1.6,1.6 0 1,0 3.2,0a1.6,1.6 0 1,0 -3.2,0M229.76,338.5a1.6,1.6 0 1,0 3.2,0a1.6,1.6 0 1,0 -3.2,0M230.13,338.5a1.6,1.6 0 1,0 3.2,0a1.6,1.6 0 1,0 -3.2,0M230.5,338.5a1.6,1.6 0 1,0 3.2,0a1.6,1.6 0 1,0 -3.2,0M230.87,338.5a1.6,1.6 0 1,0 3.2,0a1.6,1.6 0 1,0 -3.2,0M231.24,338.5a1.6,1.6 0 1,0 3.2,0a1.6,1.6 0 1,0 -3.2,0M231.61,338.5a1.6,1.6 0 1,0 3.2,0a1.6,1.6 0 1,0 -3.2,0M231.98,338.5a1.6,1.6 0 1,0 3.2,0a1.6,1.6 0 1,0 -3.2,0M232.35,338.5a1.6,1.6 0 1,0 3.2,0a1.6,1.6 0 1,0 -3.2,0M232.72,338.5a1.6,1.6 0 1,0 3.2,0a1.6,1.6 0 1,0 -3.2,0M233.09,338.5a1.6,1.6 0 1,0 3.2,0a1.6,1.6 0 1,0 -3.2,0M233.46,338.5a1.6,1.6 0 1,0 3.2,0a1.6,1.6 0 1,0 -3.2,0M233.83,338.5a1.6,1.6 0 1,0 3.2,0a1.6,1.6 0 1,0 -3.2,0M234.2,338.5a1.6,1.6 0 1,0 3.2,0a1.6,1.6 0 1,0 -3.2,0M234.57,338.5a1.6,1.6 0 1,0 3.2,0a1.6,1.6 0 1,0 -3.2,0M234.94,338.5a1.6,1.6 0 1,0 3.2,0a1.6,1.6 0 1,0 -3.2,0M235.31,338.5a1.6,1.6 0 1,0 3.2,0a1.6,1.6 0 1,0 -3.2,0M235.68,338.5a1.6,1.6 0 1,0 3.2,0a1.6,1.6 0 1,0 -3.2,0M236.05,338.5a1.6,1.6 0 1,0 3.2,0a1.6,1.6 0 1,0 -3.2,0M236.42,338.5a1.6,1.6 0 1,0 3.2,0a1.6,1.6 0 1,0 -3.2,0M236.79,338.5a1.6,1.6 0 1,0 3.2,0a1.6,1.6 0 1,0 -3.2,0M237.16,338.5a1.6,1.6 0 1,0 3.2,0a1.6,1.6 0 1,0 -3.2,0M237.53,338.5a1.6,1.6 0 1,0 3.2,0a1.6,1.6 0 1,0 -3.2,0M237.9,338.5a1.6,1.6 0 1,0 3.2,0a1.6,1.6 0 1,0 -3.2,0M238.27,338.5a1.6,1.6 0 1,0 3.2,0a1.6,1.6 0 1,0 -3.2,0M238.64,338.5a1.6,1.6 0 1,0 3.2,0a1.6,1.6 0 1,0 -3.2,0M239.01,338.5a1.6,1.6 0 1,0 3.2,0a1.6,1.6 0 1,0 -3.2,0M239.38,338.5a1.6,1.6 0 1,0 3.2,0a1.6,1.6 0 1,0 -3.2,0M239.75,338.5a1.6,1.6 0 1,0 3.2,0a1.6,1.6 0 1,0 -3.2,0M240.12,338.5a1.6,1.6 0 1,0 3.2,0a1.6,1.6 0 1,0 -3.2,0M240.49,338.5a1.6,1.6 0 1,0 3.2,0a1.6,1.6 0 1,0 -3.2,0M240.86,338.5a1.6,1.6 0 1,0 3.2,0a1.6,1.6 0 1,0 -3.2,0M241.23,338.5a1.6,1.6 0 1,0 3.2,0a1.6,1.6 0 1,0 -3.2,0M241.6,338.5a1.6,1.6 0 1,0 3.2,0a1.6,1.6 0 1,0 -3.2,0M241.97,338.5a1.6,1.6 0 1,0 3.2,0a1.6,1.6 0 1,0 -3.2,0M242.34,338.5a1.6,1.6 0 1,0 3.2,0a1.6,1.6 0 1,0 -3.2,0M242.71,338.5a1.6,1.6 0 1,0 3.2,0a1.6,1.6 0 1,0 -3.2,0M243.08,338.5a1.6,1.6 0 1,0 3.2,0a1.6,1.6 0 1,0 -3.2,0M243.45,338.5a1.6,1.6 0 1,0 3.2,0a1.6,1.6 0 1,0 -3.2,0M243.82,338.5a1.6,1.6 0 1,0 3.2,0a1.6,1.6 0 1,0 -3.2,0M244.19,338.5a1.6,1.6 0 1,0 3.2,0a1.6,1.6 0 1,0 -3.2,0M244.56,338.5a1.6,1.6 0 1,0 3.2,0a1.6,1.6 0 1,0 -3.2,0M244.93,338.5a1.6,1.6 0 1,0 3.2,0a1.6,1.6 0 1,0 -3.2,0M245.3,338.5a1.6,1.6 0 1,0 3.2,0a1.6,1.6 0 1,0 -3.2,0M245.67,338.5a1.6,1.6 0 1,0 3.2,0a1.6,1.6 0 1,0 -3.2,0M246.04,338.5a1.6,1.6 0 1,0 3.2,0a1.6,1.6 0 1,0 -3.2,0M246.41,338.5a1.6,1.6 0 1,0 3.2,0a1.6,1.6 0 1,0 -3.2,0M246.78,338.5a1.6,1.6 0 1,0 3.2,0a1.6,1.6 0 1,0 -3.2,0M247.15,338.5a1.6,1.6 0 1,0 3.2,0a1.6,1.6 0 1,0 -3.2,0M247.52,338.5a1.6,1.6 0 1,0 3.2,0a1.6,1.6 0 1,0 -3.2,0M247.89,338.5a1.6,1.6 0 1,0 3.2,0a1.6,1.6 0 1,0 -3.2,0M248.26,338.5a1.6,1.6 0 1,0 3.2,0a1.6,1.6 0 1,0 -3.2,0M248.63,338.5a1.6,1.6 0 1,0 3.2,0a1.6,1.6 0 1,0 -3.2,0M249,338.5a1.6,1.6 0 1,0 3.2,0a1.6,1.6 0 1,0 -3.2,0M249.37,338.5a1.6,1.6 0 1,0 3.2,0a1.6,1.6 0 1,0 -3.2,0M249.74,338.5a1.6,1.6 0 1,0 3.2,0a1.6,1.6 0 1,0 -3.2,0M250.11,338.5a1.6,1.6 0 1,0 3.2,0a1.6,1.6 0 1,0 -3.2,0M250.48,338.5a1.6,1.6 0 1,0 3.2,0a1.6,1.6 0 1,0 -3.2,0M250.85,338.5a1.6,1.6 0 1,0 3.2,0a1.6,1.6 0 1,0 -3.2,0M251.22,338.5a1.6,1.6 0 1,0 3.2,0a1.6,1.6 0 1,0 -3.2,0M251.59,338.5a1.6,1.6 0 1,0 3.2,0a1.6,1.6 0 1,0 -3.2,0M251.96,338.5a1.6,1.6 0 1,0 3.2,0a1.6,1.6 0 1,0 -3.2,0M252.33,338.5a1.6,1.6 0 1,0 3.2,0a1.6,1.6 0 1,0 -3.2,0M252.7,338.5a1.6,1.6 0 1,0 3.2,0a1.6,1.6 0 1,0 -3.2,0M253.07,338.5a1.6,1.6 0 1,0 3.2,0a1.6,1.6 0 1,0 -3.2,0M253.44,338.5a1.6,1.6 0 1,0 3.2,0a1.6,1.6 0 1,0 -3.2,0M253.81,338.5a1.6,1.6 0 1,0 3.2,0a1.6,1.6 0 1,0 -3.2,0M254.18,338.5a1.6,1.6 0 1,0 3.2,0a1.6,1.6 0 1,0 -3.2,0M254.55,338.5a1.6,1.6 0 1,0 3.2,0a1.6,1.6 0 1,0 -3.2,0" stroke="#8ee614" stroke-width="1.3" fill="#fff"/>
<path d="M131.1,307.6H141.2" stroke="#0a1cc0" stroke-width="2" fill="none"/>
<path d="M122.4,296.2L133.4,304" stroke="#111" stroke-width="1.3" fill="none"/>
<path d="M162.55,199.9V340.5" stroke="#111" stroke-width="1.25" fill="none"/>
<rect x="50.2" y="199.9" width="224.7" height="140.6" fill="none" stroke="#111" stroke-width="1.5"/>
<path d="M78.29,340.5v-2.8M78.29,199.9v2.8M106.38,340.5v-5.5M106.38,199.9v5.5M134.46,340.5v-2.8M134.46,199.9v2.8M162.55,340.5v-5.5M162.55,199.9v5.5M190.64,340.5v-2.8M190.64,199.9v2.8M218.73,340.5v-5.5M218.73,199.9v5.5M246.81,340.5v-2.8M246.81,199.9v2.8M50.2,339.9h5.5M50.2,308.05h2.8M50.2,276.2h5.5M50.2,244.35h2.8M50.2,212.5h5.5M274.9,339.9h-5.5M274.9,308.05h-2.8M274.9,276.2h-5.5M274.9,244.35h-2.8M274.9,212.5h-5.5" stroke="#111" stroke-width="1.5" fill="none"/>
<path d="M458.9,340.3L580.4,212.4M456.3,201.8L578.7,314" stroke="#0a1cc0" stroke-width="2.5" fill="none" stroke-linecap="round"/>
<defs><radialGradient id="sph" cx="0.38" cy="0.36" r="0.62"><stop offset="0" stop-color="#eef0ff"/><stop offset="0.15" stop-color="#98a2ff"/><stop offset="0.45" stop-color="#2535d6"/><stop offset="1" stop-color="#0a1290"/></radialGradient></defs>
<circle cx="476.3" cy="320.2" r="4.9" fill="url(#sph)"/>
<circle cx="487.7" cy="311.2" r="4.9" fill="url(#sph)"/>
<circle cx="515.4" cy="276.9" r="4.9" fill="url(#sph)"/>
<circle cx="543.6" cy="250.9" r="4.9" fill="url(#sph)"/>
<circle cx="571.9" cy="219.7" r="4.9" fill="url(#sph)"/>
<path d="M476.5,209.2 L477.85,212.34 L481.26,212.65 L478.69,214.91 L479.44,218.25 L476.5,216.5 L473.56,218.25 L474.31,214.91 L471.74,212.65 L475.15,212.34Z M487.6,218.3 L488.95,221.44 L492.36,221.75 L489.79,224.01 L490.54,227.35 L487.6,225.6 L484.66,227.35 L485.41,224.01 L482.84,221.75 L486.25,221.44Z M515.5,266.5 L516.85,269.64 L520.26,269.95 L517.69,272.21 L518.44,275.55 L515.5,273.8 L512.56,275.55 L513.31,272.21 L510.74,269.95 L514.15,269.64Z M543.3,282 L544.65,285.14 L548.06,285.45 L545.49,287.71 L546.24,291.05 L543.3,289.3 L540.36,291.05 L541.11,287.71 L538.54,285.45 L541.95,285.14Z M571.9,296.2 L573.25,299.34 L576.66,299.65 L574.09,301.91 L574.84,305.25 L571.9,303.5 L568.96,305.25 L569.71,301.91 L567.14,299.65 L570.55,299.34Z" stroke="#0a1cc0" stroke-width="1.15" fill="#fff" stroke-linejoin="miter"/>
<path d="M474.8,308.3H459M582,306.1H597.5" stroke="#0a1cc0" stroke-width="2" fill="none"/>
<path d="M453.9,308.3 Q458.15,306.7 462.4,304.3 L461.9,308.3 L462.4,312.3 Q458.15,309.9 453.9,308.3Z" fill="#0a1cc0"/>
<path d="M603.3,306.1 Q598.8,304.5 594.3,302.1 L594.8,306.1 L594.3,310.1 Q598.8,307.7 603.3,306.1Z" fill="#0a1cc0"/>
<rect x="403.6" y="199.9" width="224.5" height="140.6" fill="none" stroke="#111" stroke-width="1.5"/>
<path d="M431.66,340.5v-2.8M431.66,199.9v2.8M459.73,340.5v-5.5M459.73,199.9v5.5M487.79,340.5v-2.8M487.79,199.9v2.8M515.85,340.5v-5.5M515.85,199.9v5.5M543.91,340.5v-2.8M543.91,199.9v2.8M571.98,340.5v-5.5M571.98,199.9v5.5M600.04,340.5v-2.8M600.04,199.9v2.8M403.6,308.45h2.8M403.6,276.4h5.5M403.6,244.35h2.8M403.6,212.3h5.5M628.1,308.45h-2.8M628.1,276.4h-5.5M628.1,244.35h-2.8M628.1,212.3h-5.5" stroke="#111" stroke-width="1.5" fill="none"/>
<g font-family="Liberation Sans, sans-serif" fill="#111" stroke="#111" stroke-width="0.28">
<text transform="translate(0.3,16.7) scale(0.95,1)" font-size="20.5" font-weight="bold" stroke="none">a</text>
<text transform="translate(353.8,16.7) scale(0.95,1)" font-size="20.5" font-weight="bold" stroke="none">b</text>
<text transform="translate(0.3,209.1) scale(0.95,1)" font-size="20.5" font-weight="bold" stroke="none">c</text>
<text transform="translate(353.8,209.1) scale(0.95,1)" font-size="20.5" font-weight="bold" stroke="none">d</text>
<text transform="translate(50.2,161.6) scale(0.92,1)" font-size="15.2" text-anchor="middle" >-6</text>
<text transform="translate(106.38,161.6) scale(0.92,1)" font-size="15.2" text-anchor="middle" >-3</text>
<text transform="translate(162.55,161.6) scale(0.92,1)" font-size="15.2" text-anchor="middle" >0</text>
<text transform="translate(218.73,161.6) scale(0.92,1)" font-size="15.2" text-anchor="middle" >3</text>
<text transform="translate(274.9,161.6) scale(0.92,1)" font-size="15.2" text-anchor="middle" >6</text>
<text transform="translate(46.4,154.7) scale(0.92,1)" font-size="15.2" text-anchor="end" >-1.0</text>
<text transform="translate(46.4,119.47) scale(0.92,1)" font-size="15.2" text-anchor="end" >-0.5</text>
<text transform="translate(46.4,84.25) scale(0.92,1)" font-size="15.2" text-anchor="end" >0.0</text>
<text transform="translate(46.4,49.02) scale(0.92,1)" font-size="15.2" text-anchor="end" >0.5</text>
<text transform="translate(46.4,13.8) scale(0.92,1)" font-size="15.2" text-anchor="end" >1.0</text>
<text transform="translate(277.5,121.72) scale(0.92,1)" font-size="15.2" text-anchor="start" >400</text>
<text transform="translate(277.5,82) scale(0.92,1)" font-size="15.2" text-anchor="start" >800</text>
<text transform="translate(277.5,42.28) scale(0.92,1)" font-size="15.2" text-anchor="start" >1200</text>
<text transform="translate(162.55,177.6) scale(1.08,1)" font-size="16.4" text-anchor="middle">μ<tspan font-size="11.5" stroke-width="0.12" dy="4">0</tspan><tspan dy="-4">H (T)</tspan></text>
<text transform="translate(17.9,73.8) rotate(-90) scale(1.055,1)" font-size="16.4" text-anchor="middle">M (μ<tspan font-size="11.5" stroke-width="0.12" dy="4">B</tspan><tspan dy="-4">/f.u.)</tspan></text>
<text transform="translate(325.5,77.3) rotate(-90) scale(1.055,1)" font-size="16.4" text-anchor="middle">P (μC/m<tspan font-size="11.5" stroke-width="0.12" dy="-6">2</tspan><tspan dy="6">)</tspan></text>
<text transform="translate(403.6,161.5) scale(0.92,1)" font-size="15.2" text-anchor="middle" >-6</text>
<text transform="translate(459.7,161.5) scale(0.92,1)" font-size="15.2" text-anchor="middle" >-3</text>
<text transform="translate(515.8,161.5) scale(0.92,1)" font-size="15.2" text-anchor="middle" >0</text>
<text transform="translate(571.9,161.5) scale(0.92,1)" font-size="15.2" text-anchor="middle" >3</text>
<text transform="translate(628,161.5) scale(0.92,1)" font-size="15.2" text-anchor="middle" >6</text>
<text transform="translate(399.8,154.6) scale(0.92,1)" font-size="15.2" text-anchor="end" >-1.0</text>
<text transform="translate(399.8,119.45) scale(0.92,1)" font-size="15.2" text-anchor="end" >-0.5</text>
<text transform="translate(399.8,84.3) scale(0.92,1)" font-size="15.2" text-anchor="end" >0.0</text>
<text transform="translate(399.8,49.15) scale(0.92,1)" font-size="15.2" text-anchor="end" >0.5</text>
<text transform="translate(399.8,14) scale(0.92,1)" font-size="15.2" text-anchor="end" >1.0</text>
<text transform="translate(630.7,121.82) scale(0.92,1)" font-size="15.2" text-anchor="start" >400</text>
<text transform="translate(630.7,82.1) scale(0.92,1)" font-size="15.2" text-anchor="start" >800</text>
<text transform="translate(630.7,42.38) scale(0.92,1)" font-size="15.2" text-anchor="start" >1200</text>
<text transform="translate(515.8,177.6) scale(1.08,1)" font-size="16.4" text-anchor="middle">μ<tspan font-size="11.5" stroke-width="0.12" dy="4">0</tspan><tspan dy="-4">H (T)</tspan></text>
<text transform="translate(371.3,73.8) rotate(-90) scale(1.055,1)" font-size="16.4" text-anchor="middle">M (μ<tspan font-size="11.5" stroke-width="0.12" dy="4">B</tspan><tspan dy="-4">/f.u.)</tspan></text>
<text transform="translate(678.7,77.3) rotate(-90) scale(1.055,1)" font-size="16.4" text-anchor="middle">P (μC/m<tspan font-size="11.5" stroke-width="0.12" dy="-6">2</tspan><tspan dy="6">)</tspan></text>
<text transform="translate(61.4,28.7) scale(0.97,1)" font-size="15.4" text-anchor="start" >20 K</text>
<text transform="translate(413,28.7) scale(0.97,1)" font-size="15.4" text-anchor="start" >13 K</text>
<text transform="translate(63.1,220.4) scale(0.97,1)" font-size="15.4" text-anchor="start" >20 K</text>
<text x="483.4" y="60.2" font-size="14">P<tspan font-size="10.2" stroke-width="0.12" dx="0.3" dy="-6.4">0</tspan><tspan font-size="10" stroke-width="0.12" dx="-5.9" dy="11.0">afm</tspan></text>
<text x="524.6" y="106" font-size="14">P<tspan font-size="10.2" stroke-width="0.12" dx="0.3" dy="-6.4">0</tspan><tspan font-size="10" stroke-width="0.12" dx="-5.9" dy="11.0">fim</tspan></text>
<text x="603.2" y="47.6" font-size="14.5">M<tspan font-size="10.5" stroke-width="0.12" dy="4.3">S</tspan></text>
<text transform="translate(50.2,353.9) scale(0.92,1)" font-size="15.2" text-anchor="middle" >-6</text>
<text transform="translate(106.38,353.9) scale(0.92,1)" font-size="15.2" text-anchor="middle" >-3</text>
<text transform="translate(162.55,353.9) scale(0.92,1)" font-size="15.2" text-anchor="middle" >0</text>
<text transform="translate(218.73,353.9) scale(0.92,1)" font-size="15.2" text-anchor="middle" >3</text>
<text transform="translate(274.9,353.9) scale(0.92,1)" font-size="15.2" text-anchor="middle" >6</text>
<text transform="translate(46.6,344.3) scale(0.92,1)" font-size="15.2" text-anchor="end" >0.0</text>
<text transform="translate(46.6,280.6) scale(0.92,1)" font-size="15.2" text-anchor="end" >0.5</text>
<text transform="translate(46.6,216.9) scale(0.92,1)" font-size="15.2" text-anchor="end" >1.0</text>
<text transform="translate(162.55,370.2) scale(1.08,1)" font-size="16.4" text-anchor="middle">μ<tspan font-size="11.5" stroke-width="0.12" dy="4">0</tspan><tspan dy="-4">H (T)</tspan></text>
<text transform="translate(15.9,285) rotate(-90) scale(1.055,1)" font-size="16.4">x<tspan font-size="11.5" stroke-width="0.12" dy="4.6">afm</tspan></text>
<rect x="222.2" y="268" width="29.5" height="19" fill="#fff" stroke="none"/>
<text x="223.4" y="280.7" font-size="14" fill="#1a2fd6" stroke="#1a2fd6">x<tspan font-size="10" stroke-width="0.12" dy="-6.2">max</tspan><tspan font-size="10" stroke-width="0.12" dx="-18.9" dy="10.3">afm</tspan></text>
<text x="83.0" y="294.2" font-size="14.8" fill="#1a2fd6" stroke="#1a2fd6">ΔH<tspan font-size="10.6" stroke-width="0.12" dx="0.6" dy="4">afm</tspan></text>
<text transform="translate(403.6,353.9) scale(0.92,1)" font-size="15.2" text-anchor="middle" >0</text>
<text transform="translate(459.73,353.9) scale(0.92,1)" font-size="15.2" text-anchor="middle" >10</text>
<text transform="translate(515.85,353.9) scale(0.92,1)" font-size="15.2" text-anchor="middle" >20</text>
<text transform="translate(571.98,353.9) scale(0.92,1)" font-size="15.2" text-anchor="middle" >30</text>
<text transform="translate(628.1,353.9) scale(0.92,1)" font-size="15.2" text-anchor="middle" >40</text>
<text transform="translate(400,344.9) scale(0.92,1)" font-size="15.2" text-anchor="end" >0.0</text>
<text transform="translate(400,280.8) scale(0.92,1)" font-size="15.2" text-anchor="end" >0.5</text>
<text transform="translate(400,216.7) scale(0.92,1)" font-size="15.2" text-anchor="end" >1.0</text>
<text transform="translate(632.9,343.8) scale(0.92,1)" font-size="15.2" text-anchor="start" >0.0</text>
<text transform="translate(632.9,279.7) scale(0.92,1)" font-size="15.2" text-anchor="start" >0.5</text>
<text transform="translate(632.9,215.6) scale(0.92,1)" font-size="15.2" text-anchor="start" >1.0</text>
<text transform="translate(517.25,370.6) scale(1.08,1)" font-size="16.4" text-anchor="middle">T (K)</text>
<text transform="translate(370.5,285.8) rotate(-90) scale(1.055,1)" font-size="16.4">x<tspan font-size="11.5" stroke-width="0.12" dx="-2.2" dy="-5.2">max</tspan><tspan font-size="11.5" stroke-width="0.12" dx="-21.5" dy="11">afm</tspan></text>
<text transform="translate(674.8,270) rotate(-90) scale(1.055,1)" font-size="16.4" text-anchor="middle">μ<tspan font-size="11.5" stroke-width="0.12" dy="4">0</tspan><tspan dy="-4">ΔH (T)</tspan></text>
</g>
</svg>
</body></html>
